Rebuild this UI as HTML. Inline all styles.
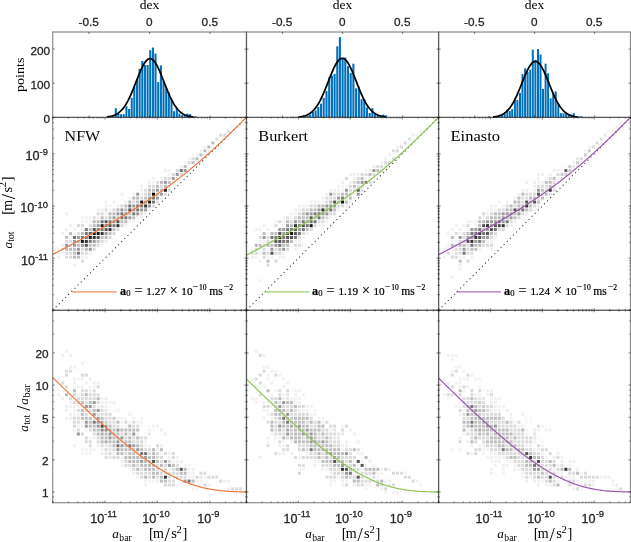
<!DOCTYPE html>
<html><head><meta charset="utf-8"><style>
html,body{margin:0;padding:0;background:#fff;}
body{width:631px;height:542px;overflow:hidden;font-family:"Liberation Sans",sans-serif;}
svg{display:block;will-change:transform;}
</style></head><body><svg width="631" height="542" viewBox="0 0 631 542"><defs><filter id="bl" x="0" y="0" width="631" height="542" filterUnits="userSpaceOnUse"><feGaussianBlur stdDeviation="0.42"/></filter></defs><rect width="100%" height="100%" fill="#fff"/><g filter="url(#bl)"><g shape-rendering="auto"><rect x="96.67" y="208.41" width="3.0" height="3.0" fill="rgb(242,242,242)"/><rect x="65.04" y="212.35" width="3.0" height="3.0" fill="rgb(242,242,242)"/><rect x="96.67" y="212.35" width="3.0" height="3.0" fill="rgb(219,219,219)"/><rect x="80.86" y="216.29" width="3.0" height="3.0" fill="rgb(242,242,242)"/><rect x="84.81" y="216.29" width="3.0" height="3.0" fill="rgb(242,242,242)"/><rect x="88.76" y="216.29" width="3.0" height="3.0" fill="rgb(242,242,242)"/><rect x="92.72" y="216.29" width="3.0" height="3.0" fill="rgb(219,219,219)"/><rect x="96.67" y="216.29" width="3.0" height="3.0" fill="rgb(242,242,242)"/><rect x="80.86" y="220.22" width="3.0" height="3.0" fill="rgb(242,242,242)"/><rect x="84.81" y="220.22" width="3.0" height="3.0" fill="rgb(242,242,242)"/><rect x="88.76" y="220.22" width="3.0" height="3.0" fill="rgb(242,242,242)"/><rect x="92.72" y="220.22" width="3.0" height="3.0" fill="rgb(189,189,189)"/><rect x="96.67" y="220.22" width="3.0" height="3.0" fill="rgb(189,189,189)"/><rect x="68.99" y="224.16" width="3.0" height="3.0" fill="rgb(242,242,242)"/><rect x="76.90" y="224.16" width="3.0" height="3.0" fill="rgb(219,219,219)"/><rect x="80.86" y="224.16" width="3.0" height="3.0" fill="rgb(219,219,219)"/><rect x="88.76" y="224.16" width="3.0" height="3.0" fill="rgb(219,219,219)"/><rect x="92.72" y="224.16" width="3.0" height="3.0" fill="rgb(189,189,189)"/><rect x="96.67" y="224.16" width="3.0" height="3.0" fill="rgb(154,154,154)"/><rect x="65.04" y="228.10" width="3.0" height="3.0" fill="rgb(242,242,242)"/><rect x="72.95" y="228.10" width="3.0" height="3.0" fill="rgb(242,242,242)"/><rect x="80.86" y="228.10" width="3.0" height="3.0" fill="rgb(242,242,242)"/><rect x="84.81" y="228.10" width="3.0" height="3.0" fill="rgb(118,118,118)"/><rect x="88.76" y="228.10" width="3.0" height="3.0" fill="rgb(189,189,189)"/><rect x="92.72" y="228.10" width="3.0" height="3.0" fill="rgb(83,83,83)"/><rect x="96.67" y="228.10" width="3.0" height="3.0" fill="rgb(118,118,118)"/><rect x="61.09" y="232.03" width="3.0" height="3.0" fill="rgb(242,242,242)"/><rect x="68.99" y="232.03" width="3.0" height="3.0" fill="rgb(189,189,189)"/><rect x="72.95" y="232.03" width="3.0" height="3.0" fill="rgb(242,242,242)"/><rect x="76.90" y="232.03" width="3.0" height="3.0" fill="rgb(219,219,219)"/><rect x="80.86" y="232.03" width="3.0" height="3.0" fill="rgb(189,189,189)"/><rect x="84.81" y="232.03" width="3.0" height="3.0" fill="rgb(118,118,118)"/><rect x="88.76" y="232.03" width="3.0" height="3.0" fill="rgb(83,83,83)"/><rect x="92.72" y="232.03" width="3.0" height="3.0" fill="rgb(21,21,21)"/><rect x="96.67" y="232.03" width="3.0" height="3.0" fill="rgb(21,21,21)"/><rect x="65.04" y="235.97" width="3.0" height="3.0" fill="rgb(189,189,189)"/><rect x="68.99" y="235.97" width="3.0" height="3.0" fill="rgb(242,242,242)"/><rect x="72.95" y="235.97" width="3.0" height="3.0" fill="rgb(118,118,118)"/><rect x="76.90" y="235.97" width="3.0" height="3.0" fill="rgb(154,154,154)"/><rect x="80.86" y="235.97" width="3.0" height="3.0" fill="rgb(118,118,118)"/><rect x="84.81" y="235.97" width="3.0" height="3.0" fill="rgb(118,118,118)"/><rect x="88.76" y="235.97" width="3.0" height="3.0" fill="rgb(21,21,21)"/><rect x="92.72" y="235.97" width="3.0" height="3.0" fill="rgb(50,50,50)"/><rect x="96.67" y="235.97" width="3.0" height="3.0" fill="rgb(83,83,83)"/><rect x="65.04" y="239.91" width="3.0" height="3.0" fill="rgb(219,219,219)"/><rect x="68.99" y="239.91" width="3.0" height="3.0" fill="rgb(219,219,219)"/><rect x="72.95" y="239.91" width="3.0" height="3.0" fill="rgb(154,154,154)"/><rect x="76.90" y="239.91" width="3.0" height="3.0" fill="rgb(189,189,189)"/><rect x="80.86" y="239.91" width="3.0" height="3.0" fill="rgb(21,21,21)"/><rect x="84.81" y="239.91" width="3.0" height="3.0" fill="rgb(50,50,50)"/><rect x="88.76" y="239.91" width="3.0" height="3.0" fill="rgb(118,118,118)"/><rect x="92.72" y="239.91" width="3.0" height="3.0" fill="rgb(154,154,154)"/><rect x="96.67" y="239.91" width="3.0" height="3.0" fill="rgb(189,189,189)"/><rect x="61.09" y="243.84" width="3.0" height="3.0" fill="rgb(242,242,242)"/><rect x="65.04" y="243.84" width="3.0" height="3.0" fill="rgb(154,154,154)"/><rect x="68.99" y="243.84" width="3.0" height="3.0" fill="rgb(219,219,219)"/><rect x="72.95" y="243.84" width="3.0" height="3.0" fill="rgb(154,154,154)"/><rect x="76.90" y="243.84" width="3.0" height="3.0" fill="rgb(189,189,189)"/><rect x="80.86" y="243.84" width="3.0" height="3.0" fill="rgb(154,154,154)"/><rect x="84.81" y="243.84" width="3.0" height="3.0" fill="rgb(83,83,83)"/><rect x="88.76" y="243.84" width="3.0" height="3.0" fill="rgb(189,189,189)"/><rect x="92.72" y="243.84" width="3.0" height="3.0" fill="rgb(189,189,189)"/><rect x="96.67" y="243.84" width="3.0" height="3.0" fill="rgb(219,219,219)"/><rect x="53.18" y="247.78" width="3.0" height="3.0" fill="rgb(242,242,242)"/><rect x="57.13" y="247.78" width="3.0" height="3.0" fill="rgb(242,242,242)"/><rect x="61.09" y="247.78" width="3.0" height="3.0" fill="rgb(219,219,219)"/><rect x="65.04" y="247.78" width="3.0" height="3.0" fill="rgb(189,189,189)"/><rect x="68.99" y="247.78" width="3.0" height="3.0" fill="rgb(189,189,189)"/><rect x="72.95" y="247.78" width="3.0" height="3.0" fill="rgb(189,189,189)"/><rect x="76.90" y="247.78" width="3.0" height="3.0" fill="rgb(154,154,154)"/><rect x="80.86" y="247.78" width="3.0" height="3.0" fill="rgb(219,219,219)"/><rect x="84.81" y="247.78" width="3.0" height="3.0" fill="rgb(189,189,189)"/><rect x="88.76" y="247.78" width="3.0" height="3.0" fill="rgb(154,154,154)"/><rect x="92.72" y="247.78" width="3.0" height="3.0" fill="rgb(219,219,219)"/><rect x="57.13" y="251.72" width="3.0" height="3.0" fill="rgb(242,242,242)"/><rect x="61.09" y="251.72" width="3.0" height="3.0" fill="rgb(242,242,242)"/><rect x="65.04" y="251.72" width="3.0" height="3.0" fill="rgb(219,219,219)"/><rect x="68.99" y="251.72" width="3.0" height="3.0" fill="rgb(219,219,219)"/><rect x="72.95" y="251.72" width="3.0" height="3.0" fill="rgb(189,189,189)"/><rect x="76.90" y="251.72" width="3.0" height="3.0" fill="rgb(118,118,118)"/><rect x="80.86" y="251.72" width="3.0" height="3.0" fill="rgb(219,219,219)"/><rect x="84.81" y="251.72" width="3.0" height="3.0" fill="rgb(219,219,219)"/><rect x="88.76" y="251.72" width="3.0" height="3.0" fill="rgb(242,242,242)"/><rect x="57.13" y="255.65" width="3.0" height="3.0" fill="rgb(242,242,242)"/><rect x="65.04" y="255.65" width="3.0" height="3.0" fill="rgb(219,219,219)"/><rect x="68.99" y="255.65" width="3.0" height="3.0" fill="rgb(219,219,219)"/><rect x="72.95" y="255.65" width="3.0" height="3.0" fill="rgb(189,189,189)"/><rect x="76.90" y="255.65" width="3.0" height="3.0" fill="rgb(189,189,189)"/><rect x="80.86" y="255.65" width="3.0" height="3.0" fill="rgb(242,242,242)"/><rect x="84.81" y="255.65" width="3.0" height="3.0" fill="rgb(242,242,242)"/><rect x="80.86" y="259.59" width="3.0" height="3.0" fill="rgb(219,219,219)"/><rect x="72.95" y="263.53" width="3.0" height="3.0" fill="rgb(242,242,242)"/><rect x="140.17" y="184.79" width="3.0" height="3.0" fill="rgb(242,242,242)"/><rect x="140.17" y="188.73" width="3.0" height="3.0" fill="rgb(242,242,242)"/><rect x="144.12" y="188.73" width="3.0" height="3.0" fill="rgb(219,219,219)"/><rect x="120.40" y="192.67" width="3.0" height="3.0" fill="rgb(242,242,242)"/><rect x="132.26" y="192.67" width="3.0" height="3.0" fill="rgb(242,242,242)"/><rect x="136.21" y="192.67" width="3.0" height="3.0" fill="rgb(154,154,154)"/><rect x="140.17" y="192.67" width="3.0" height="3.0" fill="rgb(242,242,242)"/><rect x="144.12" y="192.67" width="3.0" height="3.0" fill="rgb(219,219,219)"/><rect x="128.30" y="196.60" width="3.0" height="3.0" fill="rgb(242,242,242)"/><rect x="132.26" y="196.60" width="3.0" height="3.0" fill="rgb(189,189,189)"/><rect x="136.21" y="196.60" width="3.0" height="3.0" fill="rgb(189,189,189)"/><rect x="140.17" y="196.60" width="3.0" height="3.0" fill="rgb(219,219,219)"/><rect x="144.12" y="196.60" width="3.0" height="3.0" fill="rgb(189,189,189)"/><rect x="104.58" y="200.54" width="3.0" height="3.0" fill="rgb(242,242,242)"/><rect x="112.49" y="200.54" width="3.0" height="3.0" fill="rgb(242,242,242)"/><rect x="124.35" y="200.54" width="3.0" height="3.0" fill="rgb(242,242,242)"/><rect x="128.30" y="200.54" width="3.0" height="3.0" fill="rgb(189,189,189)"/><rect x="132.26" y="200.54" width="3.0" height="3.0" fill="rgb(219,219,219)"/><rect x="136.21" y="200.54" width="3.0" height="3.0" fill="rgb(189,189,189)"/><rect x="140.17" y="200.54" width="3.0" height="3.0" fill="rgb(21,21,21)"/><rect x="144.12" y="200.54" width="3.0" height="3.0" fill="rgb(154,154,154)"/><rect x="104.58" y="204.48" width="3.0" height="3.0" fill="rgb(242,242,242)"/><rect x="108.53" y="204.48" width="3.0" height="3.0" fill="rgb(242,242,242)"/><rect x="116.44" y="204.48" width="3.0" height="3.0" fill="rgb(242,242,242)"/><rect x="120.40" y="204.48" width="3.0" height="3.0" fill="rgb(219,219,219)"/><rect x="124.35" y="204.48" width="3.0" height="3.0" fill="rgb(189,189,189)"/><rect x="128.30" y="204.48" width="3.0" height="3.0" fill="rgb(118,118,118)"/><rect x="132.26" y="204.48" width="3.0" height="3.0" fill="rgb(154,154,154)"/><rect x="136.21" y="204.48" width="3.0" height="3.0" fill="rgb(118,118,118)"/><rect x="140.17" y="204.48" width="3.0" height="3.0" fill="rgb(118,118,118)"/><rect x="144.12" y="204.48" width="3.0" height="3.0" fill="rgb(50,50,50)"/><rect x="100.63" y="208.41" width="3.0" height="3.0" fill="rgb(242,242,242)"/><rect x="104.58" y="208.41" width="3.0" height="3.0" fill="rgb(219,219,219)"/><rect x="108.53" y="208.41" width="3.0" height="3.0" fill="rgb(242,242,242)"/><rect x="112.49" y="208.41" width="3.0" height="3.0" fill="rgb(219,219,219)"/><rect x="116.44" y="208.41" width="3.0" height="3.0" fill="rgb(189,189,189)"/><rect x="120.40" y="208.41" width="3.0" height="3.0" fill="rgb(154,154,154)"/><rect x="124.35" y="208.41" width="3.0" height="3.0" fill="rgb(189,189,189)"/><rect x="128.30" y="208.41" width="3.0" height="3.0" fill="rgb(83,83,83)"/><rect x="132.26" y="208.41" width="3.0" height="3.0" fill="rgb(154,154,154)"/><rect x="136.21" y="208.41" width="3.0" height="3.0" fill="rgb(118,118,118)"/><rect x="140.17" y="208.41" width="3.0" height="3.0" fill="rgb(154,154,154)"/><rect x="144.12" y="208.41" width="3.0" height="3.0" fill="rgb(154,154,154)"/><rect x="100.63" y="212.35" width="3.0" height="3.0" fill="rgb(219,219,219)"/><rect x="104.58" y="212.35" width="3.0" height="3.0" fill="rgb(242,242,242)"/><rect x="108.53" y="212.35" width="3.0" height="3.0" fill="rgb(189,189,189)"/><rect x="112.49" y="212.35" width="3.0" height="3.0" fill="rgb(189,189,189)"/><rect x="116.44" y="212.35" width="3.0" height="3.0" fill="rgb(154,154,154)"/><rect x="120.40" y="212.35" width="3.0" height="3.0" fill="rgb(118,118,118)"/><rect x="124.35" y="212.35" width="3.0" height="3.0" fill="rgb(154,154,154)"/><rect x="128.30" y="212.35" width="3.0" height="3.0" fill="rgb(189,189,189)"/><rect x="132.26" y="212.35" width="3.0" height="3.0" fill="rgb(118,118,118)"/><rect x="136.21" y="212.35" width="3.0" height="3.0" fill="rgb(154,154,154)"/><rect x="140.17" y="212.35" width="3.0" height="3.0" fill="rgb(219,219,219)"/><rect x="144.12" y="212.35" width="3.0" height="3.0" fill="rgb(242,242,242)"/><rect x="100.63" y="216.29" width="3.0" height="3.0" fill="rgb(189,189,189)"/><rect x="104.58" y="216.29" width="3.0" height="3.0" fill="rgb(219,219,219)"/><rect x="108.53" y="216.29" width="3.0" height="3.0" fill="rgb(189,189,189)"/><rect x="112.49" y="216.29" width="3.0" height="3.0" fill="rgb(154,154,154)"/><rect x="116.44" y="216.29" width="3.0" height="3.0" fill="rgb(189,189,189)"/><rect x="120.40" y="216.29" width="3.0" height="3.0" fill="rgb(118,118,118)"/><rect x="124.35" y="216.29" width="3.0" height="3.0" fill="rgb(118,118,118)"/><rect x="128.30" y="216.29" width="3.0" height="3.0" fill="rgb(154,154,154)"/><rect x="132.26" y="216.29" width="3.0" height="3.0" fill="rgb(189,189,189)"/><rect x="136.21" y="216.29" width="3.0" height="3.0" fill="rgb(242,242,242)"/><rect x="140.17" y="216.29" width="3.0" height="3.0" fill="rgb(242,242,242)"/><rect x="100.63" y="220.22" width="3.0" height="3.0" fill="rgb(118,118,118)"/><rect x="104.58" y="220.22" width="3.0" height="3.0" fill="rgb(83,83,83)"/><rect x="108.53" y="220.22" width="3.0" height="3.0" fill="rgb(118,118,118)"/><rect x="112.49" y="220.22" width="3.0" height="3.0" fill="rgb(154,154,154)"/><rect x="116.44" y="220.22" width="3.0" height="3.0" fill="rgb(83,83,83)"/><rect x="120.40" y="220.22" width="3.0" height="3.0" fill="rgb(189,189,189)"/><rect x="124.35" y="220.22" width="3.0" height="3.0" fill="rgb(189,189,189)"/><rect x="128.30" y="220.22" width="3.0" height="3.0" fill="rgb(242,242,242)"/><rect x="132.26" y="220.22" width="3.0" height="3.0" fill="rgb(242,242,242)"/><rect x="100.63" y="224.16" width="3.0" height="3.0" fill="rgb(21,21,21)"/><rect x="104.58" y="224.16" width="3.0" height="3.0" fill="rgb(118,118,118)"/><rect x="108.53" y="224.16" width="3.0" height="3.0" fill="rgb(83,83,83)"/><rect x="112.49" y="224.16" width="3.0" height="3.0" fill="rgb(118,118,118)"/><rect x="116.44" y="224.16" width="3.0" height="3.0" fill="rgb(50,50,50)"/><rect x="120.40" y="224.16" width="3.0" height="3.0" fill="rgb(219,219,219)"/><rect x="124.35" y="224.16" width="3.0" height="3.0" fill="rgb(242,242,242)"/><rect x="100.63" y="228.10" width="3.0" height="3.0" fill="rgb(118,118,118)"/><rect x="104.58" y="228.10" width="3.0" height="3.0" fill="rgb(83,83,83)"/><rect x="108.53" y="228.10" width="3.0" height="3.0" fill="rgb(50,50,50)"/><rect x="112.49" y="228.10" width="3.0" height="3.0" fill="rgb(189,189,189)"/><rect x="116.44" y="228.10" width="3.0" height="3.0" fill="rgb(219,219,219)"/><rect x="100.63" y="232.03" width="3.0" height="3.0" fill="rgb(50,50,50)"/><rect x="104.58" y="232.03" width="3.0" height="3.0" fill="rgb(154,154,154)"/><rect x="108.53" y="232.03" width="3.0" height="3.0" fill="rgb(189,189,189)"/><rect x="112.49" y="232.03" width="3.0" height="3.0" fill="rgb(219,219,219)"/><rect x="100.63" y="235.97" width="3.0" height="3.0" fill="rgb(189,189,189)"/><rect x="104.58" y="235.97" width="3.0" height="3.0" fill="rgb(189,189,189)"/><rect x="108.53" y="235.97" width="3.0" height="3.0" fill="rgb(219,219,219)"/><rect x="100.63" y="239.91" width="3.0" height="3.0" fill="rgb(219,219,219)"/><rect x="104.58" y="239.91" width="3.0" height="3.0" fill="rgb(242,242,242)"/><rect x="100.63" y="243.84" width="3.0" height="3.0" fill="rgb(242,242,242)"/><rect x="191.57" y="153.30" width="3.0" height="3.0" fill="rgb(242,242,242)"/><rect x="187.62" y="157.24" width="3.0" height="3.0" fill="rgb(242,242,242)"/><rect x="191.57" y="157.24" width="3.0" height="3.0" fill="rgb(219,219,219)"/><rect x="183.66" y="161.17" width="3.0" height="3.0" fill="rgb(242,242,242)"/><rect x="187.62" y="161.17" width="3.0" height="3.0" fill="rgb(219,219,219)"/><rect x="191.57" y="161.17" width="3.0" height="3.0" fill="rgb(189,189,189)"/><rect x="179.71" y="165.11" width="3.0" height="3.0" fill="rgb(242,242,242)"/><rect x="183.66" y="165.11" width="3.0" height="3.0" fill="rgb(189,189,189)"/><rect x="187.62" y="165.11" width="3.0" height="3.0" fill="rgb(242,242,242)"/><rect x="163.89" y="169.05" width="3.0" height="3.0" fill="rgb(242,242,242)"/><rect x="167.85" y="169.05" width="3.0" height="3.0" fill="rgb(242,242,242)"/><rect x="175.75" y="169.05" width="3.0" height="3.0" fill="rgb(219,219,219)"/><rect x="179.71" y="169.05" width="3.0" height="3.0" fill="rgb(118,118,118)"/><rect x="183.66" y="169.05" width="3.0" height="3.0" fill="rgb(154,154,154)"/><rect x="187.62" y="169.05" width="3.0" height="3.0" fill="rgb(242,242,242)"/><rect x="167.85" y="172.98" width="3.0" height="3.0" fill="rgb(242,242,242)"/><rect x="171.80" y="172.98" width="3.0" height="3.0" fill="rgb(219,219,219)"/><rect x="175.75" y="172.98" width="3.0" height="3.0" fill="rgb(154,154,154)"/><rect x="179.71" y="172.98" width="3.0" height="3.0" fill="rgb(219,219,219)"/><rect x="152.03" y="176.92" width="3.0" height="3.0" fill="rgb(242,242,242)"/><rect x="159.94" y="176.92" width="3.0" height="3.0" fill="rgb(242,242,242)"/><rect x="163.89" y="176.92" width="3.0" height="3.0" fill="rgb(219,219,219)"/><rect x="167.85" y="176.92" width="3.0" height="3.0" fill="rgb(219,219,219)"/><rect x="171.80" y="176.92" width="3.0" height="3.0" fill="rgb(154,154,154)"/><rect x="175.75" y="176.92" width="3.0" height="3.0" fill="rgb(242,242,242)"/><rect x="148.07" y="180.86" width="3.0" height="3.0" fill="rgb(242,242,242)"/><rect x="152.03" y="180.86" width="3.0" height="3.0" fill="rgb(242,242,242)"/><rect x="155.98" y="180.86" width="3.0" height="3.0" fill="rgb(219,219,219)"/><rect x="159.94" y="180.86" width="3.0" height="3.0" fill="rgb(189,189,189)"/><rect x="163.89" y="180.86" width="3.0" height="3.0" fill="rgb(154,154,154)"/><rect x="167.85" y="180.86" width="3.0" height="3.0" fill="rgb(189,189,189)"/><rect x="171.80" y="180.86" width="3.0" height="3.0" fill="rgb(242,242,242)"/><rect x="148.07" y="184.79" width="3.0" height="3.0" fill="rgb(219,219,219)"/><rect x="152.03" y="184.79" width="3.0" height="3.0" fill="rgb(219,219,219)"/><rect x="155.98" y="184.79" width="3.0" height="3.0" fill="rgb(189,189,189)"/><rect x="159.94" y="184.79" width="3.0" height="3.0" fill="rgb(219,219,219)"/><rect x="163.89" y="184.79" width="3.0" height="3.0" fill="rgb(189,189,189)"/><rect x="167.85" y="184.79" width="3.0" height="3.0" fill="rgb(219,219,219)"/><rect x="148.07" y="188.73" width="3.0" height="3.0" fill="rgb(189,189,189)"/><rect x="152.03" y="188.73" width="3.0" height="3.0" fill="rgb(189,189,189)"/><rect x="155.98" y="188.73" width="3.0" height="3.0" fill="rgb(154,154,154)"/><rect x="159.94" y="188.73" width="3.0" height="3.0" fill="rgb(189,189,189)"/><rect x="163.89" y="188.73" width="3.0" height="3.0" fill="rgb(21,21,21)"/><rect x="167.85" y="188.73" width="3.0" height="3.0" fill="rgb(219,219,219)"/><rect x="148.07" y="192.67" width="3.0" height="3.0" fill="rgb(189,189,189)"/><rect x="152.03" y="192.67" width="3.0" height="3.0" fill="rgb(0,0,0)"/><rect x="155.98" y="192.67" width="3.0" height="3.0" fill="rgb(189,189,189)"/><rect x="159.94" y="192.67" width="3.0" height="3.0" fill="rgb(154,154,154)"/><rect x="163.89" y="192.67" width="3.0" height="3.0" fill="rgb(219,219,219)"/><rect x="148.07" y="196.60" width="3.0" height="3.0" fill="rgb(154,154,154)"/><rect x="152.03" y="196.60" width="3.0" height="3.0" fill="rgb(118,118,118)"/><rect x="155.98" y="196.60" width="3.0" height="3.0" fill="rgb(154,154,154)"/><rect x="159.94" y="196.60" width="3.0" height="3.0" fill="rgb(242,242,242)"/><rect x="148.07" y="200.54" width="3.0" height="3.0" fill="rgb(21,21,21)"/><rect x="152.03" y="200.54" width="3.0" height="3.0" fill="rgb(118,118,118)"/><rect x="155.98" y="200.54" width="3.0" height="3.0" fill="rgb(219,219,219)"/><rect x="148.07" y="204.48" width="3.0" height="3.0" fill="rgb(154,154,154)"/><rect x="152.03" y="204.48" width="3.0" height="3.0" fill="rgb(219,219,219)"/><rect x="148.07" y="208.41" width="3.0" height="3.0" fill="rgb(242,242,242)"/><rect x="231.11" y="125.74" width="3.0" height="3.0" fill="rgb(242,242,242)"/><rect x="227.16" y="129.68" width="3.0" height="3.0" fill="rgb(219,219,219)"/><rect x="219.25" y="133.62" width="3.0" height="3.0" fill="rgb(219,219,219)"/><rect x="223.20" y="133.62" width="3.0" height="3.0" fill="rgb(219,219,219)"/><rect x="215.29" y="137.55" width="3.0" height="3.0" fill="rgb(219,219,219)"/><rect x="211.34" y="141.49" width="3.0" height="3.0" fill="rgb(189,189,189)"/><rect x="203.43" y="145.43" width="3.0" height="3.0" fill="rgb(242,242,242)"/><rect x="207.39" y="145.43" width="3.0" height="3.0" fill="rgb(189,189,189)"/><rect x="199.48" y="149.36" width="3.0" height="3.0" fill="rgb(242,242,242)"/><rect x="203.43" y="149.36" width="3.0" height="3.0" fill="rgb(189,189,189)"/><rect x="207.39" y="149.36" width="3.0" height="3.0" fill="rgb(242,242,242)"/><rect x="195.52" y="153.30" width="3.0" height="3.0" fill="rgb(242,242,242)"/><rect x="199.48" y="153.30" width="3.0" height="3.0" fill="rgb(189,189,189)"/><rect x="203.43" y="153.30" width="3.0" height="3.0" fill="rgb(242,242,242)"/><rect x="195.52" y="157.24" width="3.0" height="3.0" fill="rgb(189,189,189)"/><rect x="199.48" y="157.24" width="3.0" height="3.0" fill="rgb(242,242,242)"/><rect x="195.52" y="161.17" width="3.0" height="3.0" fill="rgb(242,242,242)"/><rect x="65.04" y="350.03" width="3.0" height="3.0" fill="rgb(242,242,242)"/><rect x="61.09" y="353.96" width="3.0" height="3.0" fill="rgb(242,242,242)"/><rect x="68.99" y="353.96" width="3.0" height="3.0" fill="rgb(242,242,242)"/><rect x="80.86" y="361.81" width="3.0" height="3.0" fill="rgb(242,242,242)"/><rect x="68.99" y="365.73" width="3.0" height="3.0" fill="rgb(242,242,242)"/><rect x="72.95" y="365.73" width="3.0" height="3.0" fill="rgb(242,242,242)"/><rect x="65.04" y="369.66" width="3.0" height="3.0" fill="rgb(219,219,219)"/><rect x="68.99" y="369.66" width="3.0" height="3.0" fill="rgb(219,219,219)"/><rect x="65.04" y="373.59" width="3.0" height="3.0" fill="rgb(219,219,219)"/><rect x="80.86" y="373.59" width="3.0" height="3.0" fill="rgb(219,219,219)"/><rect x="84.81" y="373.59" width="3.0" height="3.0" fill="rgb(219,219,219)"/><rect x="57.13" y="377.51" width="3.0" height="3.0" fill="rgb(242,242,242)"/><rect x="72.95" y="377.51" width="3.0" height="3.0" fill="rgb(242,242,242)"/><rect x="76.90" y="377.51" width="3.0" height="3.0" fill="rgb(242,242,242)"/><rect x="80.86" y="377.51" width="3.0" height="3.0" fill="rgb(242,242,242)"/><rect x="88.76" y="377.51" width="3.0" height="3.0" fill="rgb(242,242,242)"/><rect x="61.09" y="381.44" width="3.0" height="3.0" fill="rgb(219,219,219)"/><rect x="72.95" y="381.44" width="3.0" height="3.0" fill="rgb(242,242,242)"/><rect x="84.81" y="381.44" width="3.0" height="3.0" fill="rgb(242,242,242)"/><rect x="92.72" y="381.44" width="3.0" height="3.0" fill="rgb(242,242,242)"/><rect x="96.67" y="381.44" width="3.0" height="3.0" fill="rgb(242,242,242)"/><rect x="65.04" y="385.37" width="3.0" height="3.0" fill="rgb(219,219,219)"/><rect x="72.95" y="385.37" width="3.0" height="3.0" fill="rgb(242,242,242)"/><rect x="76.90" y="385.37" width="3.0" height="3.0" fill="rgb(242,242,242)"/><rect x="80.86" y="385.37" width="3.0" height="3.0" fill="rgb(242,242,242)"/><rect x="88.76" y="385.37" width="3.0" height="3.0" fill="rgb(242,242,242)"/><rect x="92.72" y="385.37" width="3.0" height="3.0" fill="rgb(242,242,242)"/><rect x="96.67" y="385.37" width="3.0" height="3.0" fill="rgb(219,219,219)"/><rect x="72.95" y="389.29" width="3.0" height="3.0" fill="rgb(189,189,189)"/><rect x="80.86" y="389.29" width="3.0" height="3.0" fill="rgb(219,219,219)"/><rect x="84.81" y="389.29" width="3.0" height="3.0" fill="rgb(219,219,219)"/><rect x="88.76" y="389.29" width="3.0" height="3.0" fill="rgb(242,242,242)"/><rect x="92.72" y="389.29" width="3.0" height="3.0" fill="rgb(219,219,219)"/><rect x="57.13" y="393.22" width="3.0" height="3.0" fill="rgb(242,242,242)"/><rect x="65.04" y="393.22" width="3.0" height="3.0" fill="rgb(189,189,189)"/><rect x="72.95" y="393.22" width="3.0" height="3.0" fill="rgb(219,219,219)"/><rect x="76.90" y="393.22" width="3.0" height="3.0" fill="rgb(242,242,242)"/><rect x="80.86" y="393.22" width="3.0" height="3.0" fill="rgb(219,219,219)"/><rect x="84.81" y="393.22" width="3.0" height="3.0" fill="rgb(189,189,189)"/><rect x="88.76" y="393.22" width="3.0" height="3.0" fill="rgb(219,219,219)"/><rect x="92.72" y="393.22" width="3.0" height="3.0" fill="rgb(219,219,219)"/><rect x="96.67" y="393.22" width="3.0" height="3.0" fill="rgb(219,219,219)"/><rect x="61.09" y="397.15" width="3.0" height="3.0" fill="rgb(242,242,242)"/><rect x="68.99" y="397.15" width="3.0" height="3.0" fill="rgb(219,219,219)"/><rect x="76.90" y="397.15" width="3.0" height="3.0" fill="rgb(219,219,219)"/><rect x="80.86" y="397.15" width="3.0" height="3.0" fill="rgb(219,219,219)"/><rect x="84.81" y="397.15" width="3.0" height="3.0" fill="rgb(219,219,219)"/><rect x="88.76" y="397.15" width="3.0" height="3.0" fill="rgb(219,219,219)"/><rect x="92.72" y="397.15" width="3.0" height="3.0" fill="rgb(219,219,219)"/><rect x="96.67" y="397.15" width="3.0" height="3.0" fill="rgb(189,189,189)"/><rect x="68.99" y="401.07" width="3.0" height="3.0" fill="rgb(242,242,242)"/><rect x="72.95" y="401.07" width="3.0" height="3.0" fill="rgb(219,219,219)"/><rect x="76.90" y="401.07" width="3.0" height="3.0" fill="rgb(219,219,219)"/><rect x="80.86" y="401.07" width="3.0" height="3.0" fill="rgb(189,189,189)"/><rect x="84.81" y="401.07" width="3.0" height="3.0" fill="rgb(219,219,219)"/><rect x="88.76" y="401.07" width="3.0" height="3.0" fill="rgb(189,189,189)"/><rect x="92.72" y="401.07" width="3.0" height="3.0" fill="rgb(154,154,154)"/><rect x="96.67" y="401.07" width="3.0" height="3.0" fill="rgb(219,219,219)"/><rect x="65.04" y="405.00" width="3.0" height="3.0" fill="rgb(242,242,242)"/><rect x="65.04" y="408.93" width="3.0" height="3.0" fill="rgb(242,242,242)"/><rect x="65.04" y="416.78" width="3.0" height="3.0" fill="rgb(242,242,242)"/><rect x="68.99" y="405.00" width="3.0" height="3.0" fill="rgb(242,242,242)"/><rect x="72.95" y="405.00" width="3.0" height="3.0" fill="rgb(242,242,242)"/><rect x="76.90" y="405.00" width="3.0" height="3.0" fill="rgb(242,242,242)"/><rect x="80.86" y="405.00" width="3.0" height="3.0" fill="rgb(242,242,242)"/><rect x="84.81" y="405.00" width="3.0" height="3.0" fill="rgb(154,154,154)"/><rect x="88.76" y="405.00" width="3.0" height="3.0" fill="rgb(154,154,154)"/><rect x="92.72" y="405.00" width="3.0" height="3.0" fill="rgb(219,219,219)"/><rect x="96.67" y="405.00" width="3.0" height="3.0" fill="rgb(242,242,242)"/><rect x="100.63" y="405.00" width="3.0" height="3.0" fill="rgb(231,231,231)"/><rect x="104.58" y="405.00" width="3.0" height="3.0" fill="rgb(242,242,242)"/><rect x="108.53" y="405.00" width="3.0" height="3.0" fill="rgb(250,250,250)"/><rect x="72.95" y="408.93" width="3.0" height="3.0" fill="rgb(242,242,242)"/><rect x="76.90" y="408.93" width="3.0" height="3.0" fill="rgb(219,219,219)"/><rect x="80.86" y="408.93" width="3.0" height="3.0" fill="rgb(189,189,189)"/><rect x="84.81" y="408.93" width="3.0" height="3.0" fill="rgb(219,219,219)"/><rect x="88.76" y="408.93" width="3.0" height="3.0" fill="rgb(219,219,219)"/><rect x="92.72" y="408.93" width="3.0" height="3.0" fill="rgb(189,189,189)"/><rect x="96.67" y="408.93" width="3.0" height="3.0" fill="rgb(154,154,154)"/><rect x="100.63" y="408.93" width="3.0" height="3.0" fill="rgb(219,219,219)"/><rect x="104.58" y="408.93" width="3.0" height="3.0" fill="rgb(231,231,231)"/><rect x="108.53" y="408.93" width="3.0" height="3.0" fill="rgb(250,250,250)"/><rect x="112.49" y="408.93" width="3.0" height="3.0" fill="rgb(250,250,250)"/><rect x="68.99" y="412.85" width="3.0" height="3.0" fill="rgb(242,242,242)"/><rect x="72.95" y="412.85" width="3.0" height="3.0" fill="rgb(242,242,242)"/><rect x="76.90" y="412.85" width="3.0" height="3.0" fill="rgb(242,242,242)"/><rect x="80.86" y="412.85" width="3.0" height="3.0" fill="rgb(189,189,189)"/><rect x="84.81" y="412.85" width="3.0" height="3.0" fill="rgb(219,219,219)"/><rect x="88.76" y="412.85" width="3.0" height="3.0" fill="rgb(242,242,242)"/><rect x="92.72" y="412.85" width="3.0" height="3.0" fill="rgb(154,154,154)"/><rect x="96.67" y="412.85" width="3.0" height="3.0" fill="rgb(219,219,219)"/><rect x="100.63" y="412.85" width="3.0" height="3.0" fill="rgb(219,219,219)"/><rect x="104.58" y="412.85" width="3.0" height="3.0" fill="rgb(219,219,219)"/><rect x="108.53" y="412.85" width="3.0" height="3.0" fill="rgb(219,219,219)"/><rect x="68.99" y="416.78" width="3.0" height="3.0" fill="rgb(242,242,242)"/><rect x="72.95" y="416.78" width="3.0" height="3.0" fill="rgb(219,219,219)"/><rect x="76.90" y="416.78" width="3.0" height="3.0" fill="rgb(219,219,219)"/><rect x="80.86" y="416.78" width="3.0" height="3.0" fill="rgb(189,189,189)"/><rect x="84.81" y="416.78" width="3.0" height="3.0" fill="rgb(189,189,189)"/><rect x="88.76" y="416.78" width="3.0" height="3.0" fill="rgb(189,189,189)"/><rect x="92.72" y="416.78" width="3.0" height="3.0" fill="rgb(219,219,219)"/><rect x="96.67" y="416.78" width="3.0" height="3.0" fill="rgb(154,154,154)"/><rect x="100.63" y="416.78" width="3.0" height="3.0" fill="rgb(189,189,189)"/><rect x="104.58" y="416.78" width="3.0" height="3.0" fill="rgb(219,219,219)"/><rect x="108.53" y="416.78" width="3.0" height="3.0" fill="rgb(219,219,219)"/><rect x="112.49" y="416.78" width="3.0" height="3.0" fill="rgb(204,204,204)"/><rect x="72.95" y="420.71" width="3.0" height="3.0" fill="rgb(219,219,219)"/><rect x="76.90" y="420.71" width="3.0" height="3.0" fill="rgb(219,219,219)"/><rect x="80.86" y="420.71" width="3.0" height="3.0" fill="rgb(242,242,242)"/><rect x="84.81" y="420.71" width="3.0" height="3.0" fill="rgb(154,154,154)"/><rect x="88.76" y="420.71" width="3.0" height="3.0" fill="rgb(189,189,189)"/><rect x="92.72" y="420.71" width="3.0" height="3.0" fill="rgb(118,118,118)"/><rect x="96.67" y="420.71" width="3.0" height="3.0" fill="rgb(154,154,154)"/><rect x="100.63" y="420.71" width="3.0" height="3.0" fill="rgb(172,172,172)"/><rect x="104.58" y="420.71" width="3.0" height="3.0" fill="rgb(204,204,204)"/><rect x="108.53" y="420.71" width="3.0" height="3.0" fill="rgb(219,219,219)"/><rect x="112.49" y="420.71" width="3.0" height="3.0" fill="rgb(219,219,219)"/><rect x="72.95" y="424.63" width="3.0" height="3.0" fill="rgb(219,219,219)"/><rect x="76.90" y="424.63" width="3.0" height="3.0" fill="rgb(242,242,242)"/><rect x="80.86" y="424.63" width="3.0" height="3.0" fill="rgb(242,242,242)"/><rect x="84.81" y="424.63" width="3.0" height="3.0" fill="rgb(154,154,154)"/><rect x="88.76" y="424.63" width="3.0" height="3.0" fill="rgb(189,189,189)"/><rect x="92.72" y="424.63" width="3.0" height="3.0" fill="rgb(189,189,189)"/><rect x="96.67" y="424.63" width="3.0" height="3.0" fill="rgb(154,154,154)"/><rect x="100.63" y="424.63" width="3.0" height="3.0" fill="rgb(66,66,66)"/><rect x="104.58" y="424.63" width="3.0" height="3.0" fill="rgb(154,154,154)"/><rect x="108.53" y="424.63" width="3.0" height="3.0" fill="rgb(189,189,189)"/><rect x="112.49" y="424.63" width="3.0" height="3.0" fill="rgb(219,219,219)"/><rect x="72.95" y="428.56" width="3.0" height="3.0" fill="rgb(242,242,242)"/><rect x="76.90" y="428.56" width="3.0" height="3.0" fill="rgb(219,219,219)"/><rect x="84.81" y="428.56" width="3.0" height="3.0" fill="rgb(242,242,242)"/><rect x="88.76" y="428.56" width="3.0" height="3.0" fill="rgb(219,219,219)"/><rect x="92.72" y="428.56" width="3.0" height="3.0" fill="rgb(189,189,189)"/><rect x="96.67" y="428.56" width="3.0" height="3.0" fill="rgb(189,189,189)"/><rect x="100.63" y="428.56" width="3.0" height="3.0" fill="rgb(137,137,137)"/><rect x="104.58" y="428.56" width="3.0" height="3.0" fill="rgb(137,137,137)"/><rect x="108.53" y="428.56" width="3.0" height="3.0" fill="rgb(172,172,172)"/><rect x="112.49" y="428.56" width="3.0" height="3.0" fill="rgb(189,189,189)"/><rect x="76.90" y="432.49" width="3.0" height="3.0" fill="rgb(154,154,154)"/><rect x="80.86" y="432.49" width="3.0" height="3.0" fill="rgb(219,219,219)"/><rect x="92.72" y="432.49" width="3.0" height="3.0" fill="rgb(219,219,219)"/><rect x="96.67" y="432.49" width="3.0" height="3.0" fill="rgb(189,189,189)"/><rect x="100.63" y="432.49" width="3.0" height="3.0" fill="rgb(172,172,172)"/><rect x="104.58" y="432.49" width="3.0" height="3.0" fill="rgb(189,189,189)"/><rect x="108.53" y="432.49" width="3.0" height="3.0" fill="rgb(154,154,154)"/><rect x="112.49" y="432.49" width="3.0" height="3.0" fill="rgb(189,189,189)"/><rect x="84.81" y="436.41" width="3.0" height="3.0" fill="rgb(219,219,219)"/><rect x="88.76" y="436.41" width="3.0" height="3.0" fill="rgb(242,242,242)"/><rect x="92.72" y="436.41" width="3.0" height="3.0" fill="rgb(242,242,242)"/><rect x="96.67" y="436.41" width="3.0" height="3.0" fill="rgb(219,219,219)"/><rect x="100.63" y="436.41" width="3.0" height="3.0" fill="rgb(189,189,189)"/><rect x="104.58" y="436.41" width="3.0" height="3.0" fill="rgb(189,189,189)"/><rect x="108.53" y="436.41" width="3.0" height="3.0" fill="rgb(154,154,154)"/><rect x="112.49" y="436.41" width="3.0" height="3.0" fill="rgb(189,189,189)"/><rect x="84.81" y="440.34" width="3.0" height="3.0" fill="rgb(219,219,219)"/><rect x="88.76" y="440.34" width="3.0" height="3.0" fill="rgb(219,219,219)"/><rect x="96.67" y="440.34" width="3.0" height="3.0" fill="rgb(219,219,219)"/><rect x="100.63" y="440.34" width="3.0" height="3.0" fill="rgb(189,189,189)"/><rect x="104.58" y="440.34" width="3.0" height="3.0" fill="rgb(172,172,172)"/><rect x="108.53" y="440.34" width="3.0" height="3.0" fill="rgb(189,189,189)"/><rect x="112.49" y="440.34" width="3.0" height="3.0" fill="rgb(189,189,189)"/><rect x="72.95" y="444.27" width="3.0" height="3.0" fill="rgb(242,242,242)"/><rect x="88.76" y="444.27" width="3.0" height="3.0" fill="rgb(219,219,219)"/><rect x="96.67" y="444.27" width="3.0" height="3.0" fill="rgb(242,242,242)"/><rect x="100.63" y="444.27" width="3.0" height="3.0" fill="rgb(219,219,219)"/><rect x="104.58" y="444.27" width="3.0" height="3.0" fill="rgb(231,231,231)"/><rect x="108.53" y="444.27" width="3.0" height="3.0" fill="rgb(219,219,219)"/><rect x="112.49" y="444.27" width="3.0" height="3.0" fill="rgb(189,189,189)"/><rect x="80.86" y="448.19" width="3.0" height="3.0" fill="rgb(242,242,242)"/><rect x="84.81" y="448.19" width="3.0" height="3.0" fill="rgb(242,242,242)"/><rect x="88.76" y="448.19" width="3.0" height="3.0" fill="rgb(242,242,242)"/><rect x="92.72" y="448.19" width="3.0" height="3.0" fill="rgb(242,242,242)"/><rect x="100.63" y="448.19" width="3.0" height="3.0" fill="rgb(242,242,242)"/><rect x="104.58" y="448.19" width="3.0" height="3.0" fill="rgb(219,219,219)"/><rect x="108.53" y="448.19" width="3.0" height="3.0" fill="rgb(231,231,231)"/><rect x="112.49" y="448.19" width="3.0" height="3.0" fill="rgb(219,219,219)"/><rect x="80.86" y="452.12" width="3.0" height="3.0" fill="rgb(242,242,242)"/><rect x="84.81" y="452.12" width="3.0" height="3.0" fill="rgb(242,242,242)"/><rect x="88.76" y="452.12" width="3.0" height="3.0" fill="rgb(242,242,242)"/><rect x="100.63" y="452.12" width="3.0" height="3.0" fill="rgb(242,242,242)"/><rect x="104.58" y="452.12" width="3.0" height="3.0" fill="rgb(231,231,231)"/><rect x="108.53" y="452.12" width="3.0" height="3.0" fill="rgb(219,219,219)"/><rect x="112.49" y="452.12" width="3.0" height="3.0" fill="rgb(242,242,242)"/><rect x="104.58" y="456.04" width="3.0" height="3.0" fill="rgb(219,219,219)"/><rect x="108.53" y="456.04" width="3.0" height="3.0" fill="rgb(231,231,231)"/><rect x="112.49" y="456.04" width="3.0" height="3.0" fill="rgb(219,219,219)"/><rect x="100.63" y="397.15" width="3.0" height="3.0" fill="rgb(242,242,242)"/><rect x="104.58" y="397.15" width="3.0" height="3.0" fill="rgb(242,242,242)"/><rect x="100.63" y="401.07" width="3.0" height="3.0" fill="rgb(242,242,242)"/><rect x="104.58" y="401.07" width="3.0" height="3.0" fill="rgb(242,242,242)"/><rect x="108.53" y="401.07" width="3.0" height="3.0" fill="rgb(242,242,242)"/><rect x="112.49" y="401.07" width="3.0" height="3.0" fill="rgb(242,242,242)"/><rect x="116.44" y="408.93" width="3.0" height="3.0" fill="rgb(242,242,242)"/><rect x="128.30" y="412.85" width="3.0" height="3.0" fill="rgb(242,242,242)"/><rect x="116.44" y="416.78" width="3.0" height="3.0" fill="rgb(242,242,242)"/><rect x="120.40" y="416.78" width="3.0" height="3.0" fill="rgb(242,242,242)"/><rect x="124.35" y="416.78" width="3.0" height="3.0" fill="rgb(242,242,242)"/><rect x="132.26" y="416.78" width="3.0" height="3.0" fill="rgb(242,242,242)"/><rect x="140.17" y="416.78" width="3.0" height="3.0" fill="rgb(242,242,242)"/><rect x="116.44" y="420.71" width="3.0" height="3.0" fill="rgb(189,189,189)"/><rect x="120.40" y="420.71" width="3.0" height="3.0" fill="rgb(242,242,242)"/><rect x="124.35" y="420.71" width="3.0" height="3.0" fill="rgb(219,219,219)"/><rect x="128.30" y="420.71" width="3.0" height="3.0" fill="rgb(242,242,242)"/><rect x="132.26" y="420.71" width="3.0" height="3.0" fill="rgb(219,219,219)"/><rect x="136.21" y="420.71" width="3.0" height="3.0" fill="rgb(242,242,242)"/><rect x="140.17" y="420.71" width="3.0" height="3.0" fill="rgb(242,242,242)"/><rect x="116.44" y="424.63" width="3.0" height="3.0" fill="rgb(219,219,219)"/><rect x="120.40" y="424.63" width="3.0" height="3.0" fill="rgb(242,242,242)"/><rect x="124.35" y="424.63" width="3.0" height="3.0" fill="rgb(242,242,242)"/><rect x="128.30" y="424.63" width="3.0" height="3.0" fill="rgb(189,189,189)"/><rect x="132.26" y="424.63" width="3.0" height="3.0" fill="rgb(219,219,219)"/><rect x="136.21" y="424.63" width="3.0" height="3.0" fill="rgb(219,219,219)"/><rect x="140.17" y="424.63" width="3.0" height="3.0" fill="rgb(250,250,250)"/><rect x="148.07" y="424.63" width="3.0" height="3.0" fill="rgb(250,250,250)"/><rect x="152.03" y="424.63" width="3.0" height="3.0" fill="rgb(242,242,242)"/><rect x="116.44" y="428.56" width="3.0" height="3.0" fill="rgb(154,154,154)"/><rect x="120.40" y="428.56" width="3.0" height="3.0" fill="rgb(189,189,189)"/><rect x="124.35" y="428.56" width="3.0" height="3.0" fill="rgb(189,189,189)"/><rect x="128.30" y="428.56" width="3.0" height="3.0" fill="rgb(189,189,189)"/><rect x="132.26" y="428.56" width="3.0" height="3.0" fill="rgb(189,189,189)"/><rect x="136.21" y="428.56" width="3.0" height="3.0" fill="rgb(189,189,189)"/><rect x="148.07" y="428.56" width="3.0" height="3.0" fill="rgb(242,242,242)"/><rect x="152.03" y="428.56" width="3.0" height="3.0" fill="rgb(250,250,250)"/><rect x="116.44" y="432.49" width="3.0" height="3.0" fill="rgb(189,189,189)"/><rect x="120.40" y="432.49" width="3.0" height="3.0" fill="rgb(219,219,219)"/><rect x="124.35" y="432.49" width="3.0" height="3.0" fill="rgb(189,189,189)"/><rect x="128.30" y="432.49" width="3.0" height="3.0" fill="rgb(219,219,219)"/><rect x="132.26" y="432.49" width="3.0" height="3.0" fill="rgb(154,154,154)"/><rect x="136.21" y="432.49" width="3.0" height="3.0" fill="rgb(242,242,242)"/><rect x="144.12" y="432.49" width="3.0" height="3.0" fill="rgb(250,250,250)"/><rect x="148.07" y="432.49" width="3.0" height="3.0" fill="rgb(231,231,231)"/><rect x="116.44" y="436.41" width="3.0" height="3.0" fill="rgb(189,189,189)"/><rect x="120.40" y="436.41" width="3.0" height="3.0" fill="rgb(154,154,154)"/><rect x="124.35" y="436.41" width="3.0" height="3.0" fill="rgb(219,219,219)"/><rect x="128.30" y="436.41" width="3.0" height="3.0" fill="rgb(189,189,189)"/><rect x="132.26" y="436.41" width="3.0" height="3.0" fill="rgb(219,219,219)"/><rect x="136.21" y="436.41" width="3.0" height="3.0" fill="rgb(189,189,189)"/><rect x="140.17" y="436.41" width="3.0" height="3.0" fill="rgb(219,219,219)"/><rect x="144.12" y="436.41" width="3.0" height="3.0" fill="rgb(219,219,219)"/><rect x="148.07" y="436.41" width="3.0" height="3.0" fill="rgb(250,250,250)"/><rect x="116.44" y="440.34" width="3.0" height="3.0" fill="rgb(154,154,154)"/><rect x="120.40" y="440.34" width="3.0" height="3.0" fill="rgb(219,219,219)"/><rect x="124.35" y="440.34" width="3.0" height="3.0" fill="rgb(189,189,189)"/><rect x="128.30" y="440.34" width="3.0" height="3.0" fill="rgb(189,189,189)"/><rect x="132.26" y="440.34" width="3.0" height="3.0" fill="rgb(219,219,219)"/><rect x="136.21" y="440.34" width="3.0" height="3.0" fill="rgb(219,219,219)"/><rect x="140.17" y="440.34" width="3.0" height="3.0" fill="rgb(219,219,219)"/><rect x="144.12" y="440.34" width="3.0" height="3.0" fill="rgb(242,242,242)"/><rect x="116.44" y="444.27" width="3.0" height="3.0" fill="rgb(118,118,118)"/><rect x="120.40" y="444.27" width="3.0" height="3.0" fill="rgb(154,154,154)"/><rect x="124.35" y="444.27" width="3.0" height="3.0" fill="rgb(189,189,189)"/><rect x="128.30" y="444.27" width="3.0" height="3.0" fill="rgb(118,118,118)"/><rect x="132.26" y="444.27" width="3.0" height="3.0" fill="rgb(154,154,154)"/><rect x="136.21" y="444.27" width="3.0" height="3.0" fill="rgb(189,189,189)"/><rect x="140.17" y="444.27" width="3.0" height="3.0" fill="rgb(219,219,219)"/><rect x="144.12" y="444.27" width="3.0" height="3.0" fill="rgb(242,242,242)"/><rect x="148.07" y="444.27" width="3.0" height="3.0" fill="rgb(242,242,242)"/><rect x="116.44" y="448.19" width="3.0" height="3.0" fill="rgb(154,154,154)"/><rect x="120.40" y="448.19" width="3.0" height="3.0" fill="rgb(189,189,189)"/><rect x="124.35" y="448.19" width="3.0" height="3.0" fill="rgb(189,189,189)"/><rect x="128.30" y="448.19" width="3.0" height="3.0" fill="rgb(189,189,189)"/><rect x="132.26" y="448.19" width="3.0" height="3.0" fill="rgb(189,189,189)"/><rect x="136.21" y="448.19" width="3.0" height="3.0" fill="rgb(154,154,154)"/><rect x="140.17" y="448.19" width="3.0" height="3.0" fill="rgb(189,189,189)"/><rect x="144.12" y="448.19" width="3.0" height="3.0" fill="rgb(219,219,219)"/><rect x="148.07" y="448.19" width="3.0" height="3.0" fill="rgb(219,219,219)"/><rect x="152.03" y="448.19" width="3.0" height="3.0" fill="rgb(189,189,189)"/><rect x="116.44" y="452.12" width="3.0" height="3.0" fill="rgb(189,189,189)"/><rect x="120.40" y="452.12" width="3.0" height="3.0" fill="rgb(189,189,189)"/><rect x="124.35" y="452.12" width="3.0" height="3.0" fill="rgb(219,219,219)"/><rect x="128.30" y="452.12" width="3.0" height="3.0" fill="rgb(189,189,189)"/><rect x="132.26" y="452.12" width="3.0" height="3.0" fill="rgb(189,189,189)"/><rect x="136.21" y="452.12" width="3.0" height="3.0" fill="rgb(219,219,219)"/><rect x="140.17" y="452.12" width="3.0" height="3.0" fill="rgb(118,118,118)"/><rect x="144.12" y="452.12" width="3.0" height="3.0" fill="rgb(118,118,118)"/><rect x="148.07" y="452.12" width="3.0" height="3.0" fill="rgb(219,219,219)"/><rect x="152.03" y="452.12" width="3.0" height="3.0" fill="rgb(189,189,189)"/><rect x="116.44" y="456.04" width="3.0" height="3.0" fill="rgb(219,219,219)"/><rect x="120.40" y="456.04" width="3.0" height="3.0" fill="rgb(242,242,242)"/><rect x="124.35" y="456.04" width="3.0" height="3.0" fill="rgb(189,189,189)"/><rect x="128.30" y="456.04" width="3.0" height="3.0" fill="rgb(189,189,189)"/><rect x="132.26" y="456.04" width="3.0" height="3.0" fill="rgb(189,189,189)"/><rect x="136.21" y="456.04" width="3.0" height="3.0" fill="rgb(189,189,189)"/><rect x="140.17" y="456.04" width="3.0" height="3.0" fill="rgb(189,189,189)"/><rect x="144.12" y="456.04" width="3.0" height="3.0" fill="rgb(154,154,154)"/><rect x="148.07" y="456.04" width="3.0" height="3.0" fill="rgb(189,189,189)"/><rect x="152.03" y="456.04" width="3.0" height="3.0" fill="rgb(189,189,189)"/><rect x="120.40" y="459.97" width="3.0" height="3.0" fill="rgb(242,242,242)"/><rect x="124.35" y="459.97" width="3.0" height="3.0" fill="rgb(219,219,219)"/><rect x="128.30" y="459.97" width="3.0" height="3.0" fill="rgb(189,189,189)"/><rect x="132.26" y="459.97" width="3.0" height="3.0" fill="rgb(189,189,189)"/><rect x="136.21" y="459.97" width="3.0" height="3.0" fill="rgb(189,189,189)"/><rect x="140.17" y="459.97" width="3.0" height="3.0" fill="rgb(154,154,154)"/><rect x="144.12" y="459.97" width="3.0" height="3.0" fill="rgb(189,189,189)"/><rect x="148.07" y="459.97" width="3.0" height="3.0" fill="rgb(189,189,189)"/><rect x="152.03" y="459.97" width="3.0" height="3.0" fill="rgb(83,83,83)"/><rect x="120.40" y="463.90" width="3.0" height="3.0" fill="rgb(242,242,242)"/><rect x="124.35" y="463.90" width="3.0" height="3.0" fill="rgb(219,219,219)"/><rect x="128.30" y="463.90" width="3.0" height="3.0" fill="rgb(219,219,219)"/><rect x="132.26" y="463.90" width="3.0" height="3.0" fill="rgb(189,189,189)"/><rect x="136.21" y="463.90" width="3.0" height="3.0" fill="rgb(219,219,219)"/><rect x="140.17" y="463.90" width="3.0" height="3.0" fill="rgb(189,189,189)"/><rect x="144.12" y="463.90" width="3.0" height="3.0" fill="rgb(189,189,189)"/><rect x="148.07" y="463.90" width="3.0" height="3.0" fill="rgb(189,189,189)"/><rect x="152.03" y="463.90" width="3.0" height="3.0" fill="rgb(189,189,189)"/><rect x="128.30" y="467.82" width="3.0" height="3.0" fill="rgb(242,242,242)"/><rect x="132.26" y="467.82" width="3.0" height="3.0" fill="rgb(219,219,219)"/><rect x="136.21" y="467.82" width="3.0" height="3.0" fill="rgb(189,189,189)"/><rect x="140.17" y="467.82" width="3.0" height="3.0" fill="rgb(219,219,219)"/><rect x="144.12" y="467.82" width="3.0" height="3.0" fill="rgb(189,189,189)"/><rect x="148.07" y="467.82" width="3.0" height="3.0" fill="rgb(189,189,189)"/><rect x="152.03" y="467.82" width="3.0" height="3.0" fill="rgb(189,189,189)"/><rect x="132.26" y="471.75" width="3.0" height="3.0" fill="rgb(242,242,242)"/><rect x="136.21" y="471.75" width="3.0" height="3.0" fill="rgb(219,219,219)"/><rect x="140.17" y="471.75" width="3.0" height="3.0" fill="rgb(219,219,219)"/><rect x="144.12" y="471.75" width="3.0" height="3.0" fill="rgb(219,219,219)"/><rect x="148.07" y="471.75" width="3.0" height="3.0" fill="rgb(219,219,219)"/><rect x="152.03" y="471.75" width="3.0" height="3.0" fill="rgb(189,189,189)"/><rect x="136.21" y="475.68" width="3.0" height="3.0" fill="rgb(242,242,242)"/><rect x="140.17" y="475.68" width="3.0" height="3.0" fill="rgb(219,219,219)"/><rect x="144.12" y="475.68" width="3.0" height="3.0" fill="rgb(189,189,189)"/><rect x="148.07" y="475.68" width="3.0" height="3.0" fill="rgb(219,219,219)"/><rect x="152.03" y="475.68" width="3.0" height="3.0" fill="rgb(189,189,189)"/><rect x="144.12" y="479.60" width="3.0" height="3.0" fill="rgb(242,242,242)"/><rect x="148.07" y="479.60" width="3.0" height="3.0" fill="rgb(242,242,242)"/><rect x="152.03" y="479.60" width="3.0" height="3.0" fill="rgb(242,242,242)"/><rect x="144.12" y="483.53" width="3.0" height="3.0" fill="rgb(242,242,242)"/><rect x="163.89" y="432.49" width="3.0" height="3.0" fill="rgb(242,242,242)"/><rect x="155.98" y="444.27" width="3.0" height="3.0" fill="rgb(219,219,219)"/><rect x="159.94" y="444.27" width="3.0" height="3.0" fill="rgb(242,242,242)"/><rect x="155.98" y="448.19" width="3.0" height="3.0" fill="rgb(242,242,242)"/><rect x="159.94" y="448.19" width="3.0" height="3.0" fill="rgb(189,189,189)"/><rect x="155.98" y="452.12" width="3.0" height="3.0" fill="rgb(219,219,219)"/><rect x="159.94" y="452.12" width="3.0" height="3.0" fill="rgb(242,242,242)"/><rect x="163.89" y="452.12" width="3.0" height="3.0" fill="rgb(219,219,219)"/><rect x="167.85" y="452.12" width="3.0" height="3.0" fill="rgb(242,242,242)"/><rect x="171.80" y="452.12" width="3.0" height="3.0" fill="rgb(219,219,219)"/><rect x="155.98" y="456.04" width="3.0" height="3.0" fill="rgb(219,219,219)"/><rect x="159.94" y="456.04" width="3.0" height="3.0" fill="rgb(219,219,219)"/><rect x="167.85" y="456.04" width="3.0" height="3.0" fill="rgb(242,242,242)"/><rect x="171.80" y="456.04" width="3.0" height="3.0" fill="rgb(219,219,219)"/><rect x="175.75" y="456.04" width="3.0" height="3.0" fill="rgb(242,242,242)"/><rect x="155.98" y="459.97" width="3.0" height="3.0" fill="rgb(189,189,189)"/><rect x="159.94" y="459.97" width="3.0" height="3.0" fill="rgb(219,219,219)"/><rect x="163.89" y="459.97" width="3.0" height="3.0" fill="rgb(154,154,154)"/><rect x="167.85" y="459.97" width="3.0" height="3.0" fill="rgb(219,219,219)"/><rect x="171.80" y="459.97" width="3.0" height="3.0" fill="rgb(242,242,242)"/><rect x="175.75" y="459.97" width="3.0" height="3.0" fill="rgb(242,242,242)"/><rect x="179.71" y="459.97" width="3.0" height="3.0" fill="rgb(242,242,242)"/><rect x="155.98" y="463.90" width="3.0" height="3.0" fill="rgb(219,219,219)"/><rect x="159.94" y="463.90" width="3.0" height="3.0" fill="rgb(189,189,189)"/><rect x="163.89" y="463.90" width="3.0" height="3.0" fill="rgb(219,219,219)"/><rect x="167.85" y="463.90" width="3.0" height="3.0" fill="rgb(154,154,154)"/><rect x="171.80" y="463.90" width="3.0" height="3.0" fill="rgb(189,189,189)"/><rect x="175.75" y="463.90" width="3.0" height="3.0" fill="rgb(219,219,219)"/><rect x="183.66" y="463.90" width="3.0" height="3.0" fill="rgb(242,242,242)"/><rect x="187.62" y="463.90" width="3.0" height="3.0" fill="rgb(242,242,242)"/><rect x="155.98" y="467.82" width="3.0" height="3.0" fill="rgb(219,219,219)"/><rect x="159.94" y="467.82" width="3.0" height="3.0" fill="rgb(242,242,242)"/><rect x="163.89" y="467.82" width="3.0" height="3.0" fill="rgb(219,219,219)"/><rect x="167.85" y="467.82" width="3.0" height="3.0" fill="rgb(242,242,242)"/><rect x="171.80" y="467.82" width="3.0" height="3.0" fill="rgb(219,219,219)"/><rect x="175.75" y="467.82" width="3.0" height="3.0" fill="rgb(189,189,189)"/><rect x="179.71" y="467.82" width="3.0" height="3.0" fill="rgb(83,83,83)"/><rect x="183.66" y="467.82" width="3.0" height="3.0" fill="rgb(189,189,189)"/><rect x="187.62" y="467.82" width="3.0" height="3.0" fill="rgb(242,242,242)"/><rect x="191.57" y="467.82" width="3.0" height="3.0" fill="rgb(242,242,242)"/><rect x="155.98" y="471.75" width="3.0" height="3.0" fill="rgb(189,189,189)"/><rect x="159.94" y="471.75" width="3.0" height="3.0" fill="rgb(219,219,219)"/><rect x="163.89" y="471.75" width="3.0" height="3.0" fill="rgb(219,219,219)"/><rect x="167.85" y="471.75" width="3.0" height="3.0" fill="rgb(219,219,219)"/><rect x="171.80" y="471.75" width="3.0" height="3.0" fill="rgb(219,219,219)"/><rect x="175.75" y="471.75" width="3.0" height="3.0" fill="rgb(219,219,219)"/><rect x="179.71" y="471.75" width="3.0" height="3.0" fill="rgb(189,189,189)"/><rect x="183.66" y="471.75" width="3.0" height="3.0" fill="rgb(189,189,189)"/><rect x="187.62" y="471.75" width="3.0" height="3.0" fill="rgb(242,242,242)"/><rect x="191.57" y="471.75" width="3.0" height="3.0" fill="rgb(242,242,242)"/><rect x="199.48" y="471.75" width="3.0" height="3.0" fill="rgb(219,219,219)"/><rect x="155.98" y="475.68" width="3.0" height="3.0" fill="rgb(219,219,219)"/><rect x="159.94" y="475.68" width="3.0" height="3.0" fill="rgb(189,189,189)"/><rect x="163.89" y="475.68" width="3.0" height="3.0" fill="rgb(50,50,50)"/><rect x="167.85" y="475.68" width="3.0" height="3.0" fill="rgb(219,219,219)"/><rect x="171.80" y="475.68" width="3.0" height="3.0" fill="rgb(242,242,242)"/><rect x="175.75" y="475.68" width="3.0" height="3.0" fill="rgb(219,219,219)"/><rect x="179.71" y="475.68" width="3.0" height="3.0" fill="rgb(219,219,219)"/><rect x="183.66" y="475.68" width="3.0" height="3.0" fill="rgb(219,219,219)"/><rect x="187.62" y="475.68" width="3.0" height="3.0" fill="rgb(242,242,242)"/><rect x="191.57" y="475.68" width="3.0" height="3.0" fill="rgb(242,242,242)"/><rect x="195.52" y="475.68" width="3.0" height="3.0" fill="rgb(219,219,219)"/><rect x="199.48" y="475.68" width="3.0" height="3.0" fill="rgb(231,231,231)"/><rect x="155.98" y="479.60" width="3.0" height="3.0" fill="rgb(242,242,242)"/><rect x="159.94" y="479.60" width="3.0" height="3.0" fill="rgb(189,189,189)"/><rect x="163.89" y="479.60" width="3.0" height="3.0" fill="rgb(189,189,189)"/><rect x="167.85" y="479.60" width="3.0" height="3.0" fill="rgb(219,219,219)"/><rect x="171.80" y="479.60" width="3.0" height="3.0" fill="rgb(219,219,219)"/><rect x="179.71" y="479.60" width="3.0" height="3.0" fill="rgb(242,242,242)"/><rect x="183.66" y="479.60" width="3.0" height="3.0" fill="rgb(154,154,154)"/><rect x="187.62" y="479.60" width="3.0" height="3.0" fill="rgb(118,118,118)"/><rect x="191.57" y="479.60" width="3.0" height="3.0" fill="rgb(189,189,189)"/><rect x="195.52" y="479.60" width="3.0" height="3.0" fill="rgb(242,242,242)"/><rect x="199.48" y="479.60" width="3.0" height="3.0" fill="rgb(242,242,242)"/><rect x="163.89" y="483.53" width="3.0" height="3.0" fill="rgb(219,219,219)"/><rect x="167.85" y="483.53" width="3.0" height="3.0" fill="rgb(219,219,219)"/><rect x="171.80" y="483.53" width="3.0" height="3.0" fill="rgb(219,219,219)"/><rect x="183.66" y="483.53" width="3.0" height="3.0" fill="rgb(242,242,242)"/><rect x="187.62" y="483.53" width="3.0" height="3.0" fill="rgb(242,242,242)"/><rect x="191.57" y="483.53" width="3.0" height="3.0" fill="rgb(242,242,242)"/><rect x="199.48" y="483.53" width="3.0" height="3.0" fill="rgb(242,242,242)"/><rect x="191.57" y="487.46" width="3.0" height="3.0" fill="rgb(242,242,242)"/><rect x="195.52" y="487.46" width="3.0" height="3.0" fill="rgb(242,242,242)"/><rect x="199.48" y="487.46" width="3.0" height="3.0" fill="rgb(250,250,250)"/><rect x="203.43" y="471.75" width="3.0" height="3.0" fill="rgb(219,219,219)"/><rect x="203.43" y="475.68" width="3.0" height="3.0" fill="rgb(242,242,242)"/><rect x="207.39" y="475.68" width="3.0" height="3.0" fill="rgb(219,219,219)"/><rect x="211.34" y="475.68" width="3.0" height="3.0" fill="rgb(219,219,219)"/><rect x="215.29" y="475.68" width="3.0" height="3.0" fill="rgb(219,219,219)"/><rect x="219.25" y="479.60" width="3.0" height="3.0" fill="rgb(219,219,219)"/><rect x="223.20" y="479.60" width="3.0" height="3.0" fill="rgb(242,242,242)"/><rect x="227.16" y="479.60" width="3.0" height="3.0" fill="rgb(242,242,242)"/><rect x="203.43" y="483.53" width="3.0" height="3.0" fill="rgb(219,219,219)"/><rect x="207.39" y="483.53" width="3.0" height="3.0" fill="rgb(242,242,242)"/><rect x="227.16" y="487.46" width="3.0" height="3.0" fill="rgb(242,242,242)"/><rect x="231.11" y="487.46" width="3.0" height="3.0" fill="rgb(219,219,219)"/><rect x="235.06" y="487.46" width="3.0" height="3.0" fill="rgb(219,219,219)"/><rect x="239.02" y="487.46" width="3.0" height="3.0" fill="rgb(219,219,219)"/><rect x="290.05" y="212.35" width="3.0" height="3.0" fill="rgb(242,242,242)"/><rect x="282.20" y="216.29" width="3.0" height="3.0" fill="rgb(242,242,242)"/><rect x="286.12" y="216.29" width="3.0" height="3.0" fill="rgb(219,219,219)"/><rect x="290.05" y="216.29" width="3.0" height="3.0" fill="rgb(242,242,242)"/><rect x="274.36" y="220.22" width="3.0" height="3.0" fill="rgb(242,242,242)"/><rect x="278.28" y="220.22" width="3.0" height="3.0" fill="rgb(219,219,219)"/><rect x="282.20" y="220.22" width="3.0" height="3.0" fill="rgb(242,242,242)"/><rect x="286.12" y="220.22" width="3.0" height="3.0" fill="rgb(189,189,189)"/><rect x="290.05" y="220.22" width="3.0" height="3.0" fill="rgb(219,219,219)"/><rect x="262.60" y="224.16" width="3.0" height="3.0" fill="rgb(242,242,242)"/><rect x="274.36" y="224.16" width="3.0" height="3.0" fill="rgb(219,219,219)"/><rect x="282.20" y="224.16" width="3.0" height="3.0" fill="rgb(242,242,242)"/><rect x="286.12" y="224.16" width="3.0" height="3.0" fill="rgb(154,154,154)"/><rect x="290.05" y="224.16" width="3.0" height="3.0" fill="rgb(189,189,189)"/><rect x="254.75" y="228.10" width="3.0" height="3.0" fill="rgb(242,242,242)"/><rect x="258.68" y="228.10" width="3.0" height="3.0" fill="rgb(242,242,242)"/><rect x="266.52" y="228.10" width="3.0" height="3.0" fill="rgb(242,242,242)"/><rect x="278.28" y="228.10" width="3.0" height="3.0" fill="rgb(154,154,154)"/><rect x="282.20" y="228.10" width="3.0" height="3.0" fill="rgb(154,154,154)"/><rect x="286.12" y="228.10" width="3.0" height="3.0" fill="rgb(118,118,118)"/><rect x="290.05" y="228.10" width="3.0" height="3.0" fill="rgb(118,118,118)"/><rect x="262.60" y="232.03" width="3.0" height="3.0" fill="rgb(189,189,189)"/><rect x="266.52" y="232.03" width="3.0" height="3.0" fill="rgb(242,242,242)"/><rect x="270.44" y="232.03" width="3.0" height="3.0" fill="rgb(189,189,189)"/><rect x="274.36" y="232.03" width="3.0" height="3.0" fill="rgb(189,189,189)"/><rect x="278.28" y="232.03" width="3.0" height="3.0" fill="rgb(83,83,83)"/><rect x="282.20" y="232.03" width="3.0" height="3.0" fill="rgb(154,154,154)"/><rect x="286.12" y="232.03" width="3.0" height="3.0" fill="rgb(83,83,83)"/><rect x="290.05" y="232.03" width="3.0" height="3.0" fill="rgb(21,21,21)"/><rect x="258.68" y="235.97" width="3.0" height="3.0" fill="rgb(219,219,219)"/><rect x="262.60" y="235.97" width="3.0" height="3.0" fill="rgb(154,154,154)"/><rect x="266.52" y="235.97" width="3.0" height="3.0" fill="rgb(219,219,219)"/><rect x="270.44" y="235.97" width="3.0" height="3.0" fill="rgb(118,118,118)"/><rect x="274.36" y="235.97" width="3.0" height="3.0" fill="rgb(118,118,118)"/><rect x="278.28" y="235.97" width="3.0" height="3.0" fill="rgb(21,21,21)"/><rect x="282.20" y="235.97" width="3.0" height="3.0" fill="rgb(118,118,118)"/><rect x="286.12" y="235.97" width="3.0" height="3.0" fill="rgb(83,83,83)"/><rect x="290.05" y="235.97" width="3.0" height="3.0" fill="rgb(83,83,83)"/><rect x="258.68" y="239.91" width="3.0" height="3.0" fill="rgb(242,242,242)"/><rect x="262.60" y="239.91" width="3.0" height="3.0" fill="rgb(242,242,242)"/><rect x="266.52" y="239.91" width="3.0" height="3.0" fill="rgb(219,219,219)"/><rect x="270.44" y="239.91" width="3.0" height="3.0" fill="rgb(219,219,219)"/><rect x="274.36" y="239.91" width="3.0" height="3.0" fill="rgb(83,83,83)"/><rect x="278.28" y="239.91" width="3.0" height="3.0" fill="rgb(83,83,83)"/><rect x="282.20" y="239.91" width="3.0" height="3.0" fill="rgb(118,118,118)"/><rect x="286.12" y="239.91" width="3.0" height="3.0" fill="rgb(118,118,118)"/><rect x="290.05" y="239.91" width="3.0" height="3.0" fill="rgb(189,189,189)"/><rect x="254.75" y="243.84" width="3.0" height="3.0" fill="rgb(189,189,189)"/><rect x="258.68" y="243.84" width="3.0" height="3.0" fill="rgb(189,189,189)"/><rect x="262.60" y="243.84" width="3.0" height="3.0" fill="rgb(219,219,219)"/><rect x="266.52" y="243.84" width="3.0" height="3.0" fill="rgb(189,189,189)"/><rect x="270.44" y="243.84" width="3.0" height="3.0" fill="rgb(189,189,189)"/><rect x="274.36" y="243.84" width="3.0" height="3.0" fill="rgb(154,154,154)"/><rect x="278.28" y="243.84" width="3.0" height="3.0" fill="rgb(118,118,118)"/><rect x="282.20" y="243.84" width="3.0" height="3.0" fill="rgb(189,189,189)"/><rect x="286.12" y="243.84" width="3.0" height="3.0" fill="rgb(189,189,189)"/><rect x="250.83" y="247.78" width="3.0" height="3.0" fill="rgb(242,242,242)"/><rect x="254.75" y="247.78" width="3.0" height="3.0" fill="rgb(219,219,219)"/><rect x="258.68" y="247.78" width="3.0" height="3.0" fill="rgb(242,242,242)"/><rect x="262.60" y="247.78" width="3.0" height="3.0" fill="rgb(219,219,219)"/><rect x="266.52" y="247.78" width="3.0" height="3.0" fill="rgb(242,242,242)"/><rect x="270.44" y="247.78" width="3.0" height="3.0" fill="rgb(154,154,154)"/><rect x="274.36" y="247.78" width="3.0" height="3.0" fill="rgb(219,219,219)"/><rect x="278.28" y="247.78" width="3.0" height="3.0" fill="rgb(189,189,189)"/><rect x="282.20" y="247.78" width="3.0" height="3.0" fill="rgb(154,154,154)"/><rect x="286.12" y="247.78" width="3.0" height="3.0" fill="rgb(219,219,219)"/><rect x="250.83" y="251.72" width="3.0" height="3.0" fill="rgb(219,219,219)"/><rect x="254.75" y="251.72" width="3.0" height="3.0" fill="rgb(219,219,219)"/><rect x="258.68" y="251.72" width="3.0" height="3.0" fill="rgb(242,242,242)"/><rect x="262.60" y="251.72" width="3.0" height="3.0" fill="rgb(189,189,189)"/><rect x="266.52" y="251.72" width="3.0" height="3.0" fill="rgb(219,219,219)"/><rect x="270.44" y="251.72" width="3.0" height="3.0" fill="rgb(83,83,83)"/><rect x="274.36" y="251.72" width="3.0" height="3.0" fill="rgb(219,219,219)"/><rect x="278.28" y="251.72" width="3.0" height="3.0" fill="rgb(219,219,219)"/><rect x="282.20" y="251.72" width="3.0" height="3.0" fill="rgb(242,242,242)"/><rect x="250.83" y="255.65" width="3.0" height="3.0" fill="rgb(242,242,242)"/><rect x="254.75" y="255.65" width="3.0" height="3.0" fill="rgb(242,242,242)"/><rect x="262.60" y="255.65" width="3.0" height="3.0" fill="rgb(219,219,219)"/><rect x="266.52" y="255.65" width="3.0" height="3.0" fill="rgb(242,242,242)"/><rect x="270.44" y="255.65" width="3.0" height="3.0" fill="rgb(242,242,242)"/><rect x="278.28" y="255.65" width="3.0" height="3.0" fill="rgb(242,242,242)"/><rect x="282.20" y="255.65" width="3.0" height="3.0" fill="rgb(242,242,242)"/><rect x="258.68" y="259.59" width="3.0" height="3.0" fill="rgb(242,242,242)"/><rect x="266.52" y="259.59" width="3.0" height="3.0" fill="rgb(189,189,189)"/><rect x="274.36" y="259.59" width="3.0" height="3.0" fill="rgb(219,219,219)"/><rect x="266.52" y="263.53" width="3.0" height="3.0" fill="rgb(219,219,219)"/><rect x="258.68" y="279.27" width="3.0" height="3.0" fill="rgb(242,242,242)"/><rect x="337.10" y="184.79" width="3.0" height="3.0" fill="rgb(242,242,242)"/><rect x="329.26" y="188.73" width="3.0" height="3.0" fill="rgb(242,242,242)"/><rect x="333.18" y="188.73" width="3.0" height="3.0" fill="rgb(242,242,242)"/><rect x="337.10" y="188.73" width="3.0" height="3.0" fill="rgb(242,242,242)"/><rect x="325.34" y="192.67" width="3.0" height="3.0" fill="rgb(242,242,242)"/><rect x="329.26" y="192.67" width="3.0" height="3.0" fill="rgb(154,154,154)"/><rect x="333.18" y="192.67" width="3.0" height="3.0" fill="rgb(219,219,219)"/><rect x="337.10" y="192.67" width="3.0" height="3.0" fill="rgb(219,219,219)"/><rect x="321.42" y="196.60" width="3.0" height="3.0" fill="rgb(242,242,242)"/><rect x="325.34" y="196.60" width="3.0" height="3.0" fill="rgb(219,219,219)"/><rect x="329.26" y="196.60" width="3.0" height="3.0" fill="rgb(219,219,219)"/><rect x="333.18" y="196.60" width="3.0" height="3.0" fill="rgb(219,219,219)"/><rect x="337.10" y="196.60" width="3.0" height="3.0" fill="rgb(154,154,154)"/><rect x="309.65" y="200.54" width="3.0" height="3.0" fill="rgb(242,242,242)"/><rect x="313.57" y="200.54" width="3.0" height="3.0" fill="rgb(242,242,242)"/><rect x="317.50" y="200.54" width="3.0" height="3.0" fill="rgb(242,242,242)"/><rect x="321.42" y="200.54" width="3.0" height="3.0" fill="rgb(242,242,242)"/><rect x="325.34" y="200.54" width="3.0" height="3.0" fill="rgb(219,219,219)"/><rect x="329.26" y="200.54" width="3.0" height="3.0" fill="rgb(189,189,189)"/><rect x="333.18" y="200.54" width="3.0" height="3.0" fill="rgb(83,83,83)"/><rect x="337.10" y="200.54" width="3.0" height="3.0" fill="rgb(189,189,189)"/><rect x="297.89" y="204.48" width="3.0" height="3.0" fill="rgb(242,242,242)"/><rect x="301.81" y="204.48" width="3.0" height="3.0" fill="rgb(242,242,242)"/><rect x="305.73" y="204.48" width="3.0" height="3.0" fill="rgb(242,242,242)"/><rect x="309.65" y="204.48" width="3.0" height="3.0" fill="rgb(219,219,219)"/><rect x="313.57" y="204.48" width="3.0" height="3.0" fill="rgb(219,219,219)"/><rect x="317.50" y="204.48" width="3.0" height="3.0" fill="rgb(189,189,189)"/><rect x="321.42" y="204.48" width="3.0" height="3.0" fill="rgb(189,189,189)"/><rect x="325.34" y="204.48" width="3.0" height="3.0" fill="rgb(154,154,154)"/><rect x="329.26" y="204.48" width="3.0" height="3.0" fill="rgb(154,154,154)"/><rect x="333.18" y="204.48" width="3.0" height="3.0" fill="rgb(154,154,154)"/><rect x="337.10" y="204.48" width="3.0" height="3.0" fill="rgb(219,219,219)"/><rect x="293.97" y="208.41" width="3.0" height="3.0" fill="rgb(242,242,242)"/><rect x="297.89" y="208.41" width="3.0" height="3.0" fill="rgb(242,242,242)"/><rect x="301.81" y="208.41" width="3.0" height="3.0" fill="rgb(219,219,219)"/><rect x="305.73" y="208.41" width="3.0" height="3.0" fill="rgb(219,219,219)"/><rect x="309.65" y="208.41" width="3.0" height="3.0" fill="rgb(189,189,189)"/><rect x="313.57" y="208.41" width="3.0" height="3.0" fill="rgb(189,189,189)"/><rect x="317.50" y="208.41" width="3.0" height="3.0" fill="rgb(154,154,154)"/><rect x="321.42" y="208.41" width="3.0" height="3.0" fill="rgb(50,50,50)"/><rect x="325.34" y="208.41" width="3.0" height="3.0" fill="rgb(154,154,154)"/><rect x="329.26" y="208.41" width="3.0" height="3.0" fill="rgb(118,118,118)"/><rect x="333.18" y="208.41" width="3.0" height="3.0" fill="rgb(189,189,189)"/><rect x="337.10" y="208.41" width="3.0" height="3.0" fill="rgb(242,242,242)"/><rect x="293.97" y="212.35" width="3.0" height="3.0" fill="rgb(242,242,242)"/><rect x="297.89" y="212.35" width="3.0" height="3.0" fill="rgb(219,219,219)"/><rect x="301.81" y="212.35" width="3.0" height="3.0" fill="rgb(189,189,189)"/><rect x="305.73" y="212.35" width="3.0" height="3.0" fill="rgb(154,154,154)"/><rect x="309.65" y="212.35" width="3.0" height="3.0" fill="rgb(154,154,154)"/><rect x="313.57" y="212.35" width="3.0" height="3.0" fill="rgb(118,118,118)"/><rect x="317.50" y="212.35" width="3.0" height="3.0" fill="rgb(118,118,118)"/><rect x="321.42" y="212.35" width="3.0" height="3.0" fill="rgb(154,154,154)"/><rect x="325.34" y="212.35" width="3.0" height="3.0" fill="rgb(154,154,154)"/><rect x="329.26" y="212.35" width="3.0" height="3.0" fill="rgb(219,219,219)"/><rect x="333.18" y="212.35" width="3.0" height="3.0" fill="rgb(219,219,219)"/><rect x="293.97" y="216.29" width="3.0" height="3.0" fill="rgb(219,219,219)"/><rect x="297.89" y="216.29" width="3.0" height="3.0" fill="rgb(189,189,189)"/><rect x="301.81" y="216.29" width="3.0" height="3.0" fill="rgb(189,189,189)"/><rect x="305.73" y="216.29" width="3.0" height="3.0" fill="rgb(189,189,189)"/><rect x="309.65" y="216.29" width="3.0" height="3.0" fill="rgb(83,83,83)"/><rect x="313.57" y="216.29" width="3.0" height="3.0" fill="rgb(189,189,189)"/><rect x="317.50" y="216.29" width="3.0" height="3.0" fill="rgb(118,118,118)"/><rect x="321.42" y="216.29" width="3.0" height="3.0" fill="rgb(189,189,189)"/><rect x="325.34" y="216.29" width="3.0" height="3.0" fill="rgb(219,219,219)"/><rect x="329.26" y="216.29" width="3.0" height="3.0" fill="rgb(242,242,242)"/><rect x="293.97" y="220.22" width="3.0" height="3.0" fill="rgb(154,154,154)"/><rect x="297.89" y="220.22" width="3.0" height="3.0" fill="rgb(189,189,189)"/><rect x="301.81" y="220.22" width="3.0" height="3.0" fill="rgb(118,118,118)"/><rect x="305.73" y="220.22" width="3.0" height="3.0" fill="rgb(154,154,154)"/><rect x="309.65" y="220.22" width="3.0" height="3.0" fill="rgb(118,118,118)"/><rect x="313.57" y="220.22" width="3.0" height="3.0" fill="rgb(118,118,118)"/><rect x="317.50" y="220.22" width="3.0" height="3.0" fill="rgb(219,219,219)"/><rect x="321.42" y="220.22" width="3.0" height="3.0" fill="rgb(219,219,219)"/><rect x="325.34" y="220.22" width="3.0" height="3.0" fill="rgb(242,242,242)"/><rect x="293.97" y="224.16" width="3.0" height="3.0" fill="rgb(50,50,50)"/><rect x="297.89" y="224.16" width="3.0" height="3.0" fill="rgb(118,118,118)"/><rect x="301.81" y="224.16" width="3.0" height="3.0" fill="rgb(83,83,83)"/><rect x="305.73" y="224.16" width="3.0" height="3.0" fill="rgb(118,118,118)"/><rect x="309.65" y="224.16" width="3.0" height="3.0" fill="rgb(21,21,21)"/><rect x="313.57" y="224.16" width="3.0" height="3.0" fill="rgb(219,219,219)"/><rect x="317.50" y="224.16" width="3.0" height="3.0" fill="rgb(242,242,242)"/><rect x="321.42" y="224.16" width="3.0" height="3.0" fill="rgb(242,242,242)"/><rect x="293.97" y="228.10" width="3.0" height="3.0" fill="rgb(83,83,83)"/><rect x="297.89" y="228.10" width="3.0" height="3.0" fill="rgb(154,154,154)"/><rect x="301.81" y="228.10" width="3.0" height="3.0" fill="rgb(118,118,118)"/><rect x="305.73" y="228.10" width="3.0" height="3.0" fill="rgb(189,189,189)"/><rect x="309.65" y="228.10" width="3.0" height="3.0" fill="rgb(219,219,219)"/><rect x="293.97" y="232.03" width="3.0" height="3.0" fill="rgb(83,83,83)"/><rect x="297.89" y="232.03" width="3.0" height="3.0" fill="rgb(118,118,118)"/><rect x="301.81" y="232.03" width="3.0" height="3.0" fill="rgb(219,219,219)"/><rect x="305.73" y="232.03" width="3.0" height="3.0" fill="rgb(242,242,242)"/><rect x="293.97" y="235.97" width="3.0" height="3.0" fill="rgb(118,118,118)"/><rect x="297.89" y="235.97" width="3.0" height="3.0" fill="rgb(219,219,219)"/><rect x="301.81" y="235.97" width="3.0" height="3.0" fill="rgb(242,242,242)"/><rect x="293.97" y="239.91" width="3.0" height="3.0" fill="rgb(242,242,242)"/><rect x="297.89" y="239.91" width="3.0" height="3.0" fill="rgb(242,242,242)"/><rect x="293.97" y="243.84" width="3.0" height="3.0" fill="rgb(219,219,219)"/><rect x="297.89" y="243.84" width="3.0" height="3.0" fill="rgb(219,219,219)"/><rect x="301.81" y="243.84" width="3.0" height="3.0" fill="rgb(242,242,242)"/><rect x="293.97" y="247.78" width="3.0" height="3.0" fill="rgb(242,242,242)"/><rect x="384.16" y="157.24" width="3.0" height="3.0" fill="rgb(242,242,242)"/><rect x="380.24" y="161.17" width="3.0" height="3.0" fill="rgb(242,242,242)"/><rect x="384.16" y="161.17" width="3.0" height="3.0" fill="rgb(219,219,219)"/><rect x="372.40" y="165.11" width="3.0" height="3.0" fill="rgb(242,242,242)"/><rect x="376.32" y="165.11" width="3.0" height="3.0" fill="rgb(219,219,219)"/><rect x="380.24" y="165.11" width="3.0" height="3.0" fill="rgb(219,219,219)"/><rect x="384.16" y="165.11" width="3.0" height="3.0" fill="rgb(242,242,242)"/><rect x="364.55" y="169.05" width="3.0" height="3.0" fill="rgb(242,242,242)"/><rect x="368.48" y="169.05" width="3.0" height="3.0" fill="rgb(242,242,242)"/><rect x="372.40" y="169.05" width="3.0" height="3.0" fill="rgb(154,154,154)"/><rect x="376.32" y="169.05" width="3.0" height="3.0" fill="rgb(189,189,189)"/><rect x="380.24" y="169.05" width="3.0" height="3.0" fill="rgb(219,219,219)"/><rect x="348.87" y="172.98" width="3.0" height="3.0" fill="rgb(242,242,242)"/><rect x="352.79" y="172.98" width="3.0" height="3.0" fill="rgb(242,242,242)"/><rect x="356.71" y="172.98" width="3.0" height="3.0" fill="rgb(242,242,242)"/><rect x="360.63" y="172.98" width="3.0" height="3.0" fill="rgb(219,219,219)"/><rect x="364.55" y="172.98" width="3.0" height="3.0" fill="rgb(219,219,219)"/><rect x="368.48" y="172.98" width="3.0" height="3.0" fill="rgb(189,189,189)"/><rect x="372.40" y="172.98" width="3.0" height="3.0" fill="rgb(219,219,219)"/><rect x="344.95" y="176.92" width="3.0" height="3.0" fill="rgb(219,219,219)"/><rect x="352.79" y="176.92" width="3.0" height="3.0" fill="rgb(242,242,242)"/><rect x="356.71" y="176.92" width="3.0" height="3.0" fill="rgb(219,219,219)"/><rect x="360.63" y="176.92" width="3.0" height="3.0" fill="rgb(189,189,189)"/><rect x="364.55" y="176.92" width="3.0" height="3.0" fill="rgb(242,242,242)"/><rect x="368.48" y="176.92" width="3.0" height="3.0" fill="rgb(242,242,242)"/><rect x="341.02" y="180.86" width="3.0" height="3.0" fill="rgb(242,242,242)"/><rect x="348.87" y="180.86" width="3.0" height="3.0" fill="rgb(242,242,242)"/><rect x="352.79" y="180.86" width="3.0" height="3.0" fill="rgb(219,219,219)"/><rect x="356.71" y="180.86" width="3.0" height="3.0" fill="rgb(189,189,189)"/><rect x="360.63" y="180.86" width="3.0" height="3.0" fill="rgb(154,154,154)"/><rect x="364.55" y="180.86" width="3.0" height="3.0" fill="rgb(118,118,118)"/><rect x="368.48" y="180.86" width="3.0" height="3.0" fill="rgb(219,219,219)"/><rect x="341.02" y="184.79" width="3.0" height="3.0" fill="rgb(242,242,242)"/><rect x="344.95" y="184.79" width="3.0" height="3.0" fill="rgb(242,242,242)"/><rect x="348.87" y="184.79" width="3.0" height="3.0" fill="rgb(219,219,219)"/><rect x="352.79" y="184.79" width="3.0" height="3.0" fill="rgb(189,189,189)"/><rect x="356.71" y="184.79" width="3.0" height="3.0" fill="rgb(219,219,219)"/><rect x="360.63" y="184.79" width="3.0" height="3.0" fill="rgb(219,219,219)"/><rect x="364.55" y="184.79" width="3.0" height="3.0" fill="rgb(242,242,242)"/><rect x="341.02" y="188.73" width="3.0" height="3.0" fill="rgb(242,242,242)"/><rect x="344.95" y="188.73" width="3.0" height="3.0" fill="rgb(154,154,154)"/><rect x="348.87" y="188.73" width="3.0" height="3.0" fill="rgb(219,219,219)"/><rect x="352.79" y="188.73" width="3.0" height="3.0" fill="rgb(219,219,219)"/><rect x="356.71" y="188.73" width="3.0" height="3.0" fill="rgb(83,83,83)"/><rect x="360.63" y="188.73" width="3.0" height="3.0" fill="rgb(219,219,219)"/><rect x="341.02" y="192.67" width="3.0" height="3.0" fill="rgb(189,189,189)"/><rect x="344.95" y="192.67" width="3.0" height="3.0" fill="rgb(189,189,189)"/><rect x="348.87" y="192.67" width="3.0" height="3.0" fill="rgb(219,219,219)"/><rect x="352.79" y="192.67" width="3.0" height="3.0" fill="rgb(242,242,242)"/><rect x="356.71" y="192.67" width="3.0" height="3.0" fill="rgb(154,154,154)"/><rect x="341.02" y="196.60" width="3.0" height="3.0" fill="rgb(118,118,118)"/><rect x="344.95" y="196.60" width="3.0" height="3.0" fill="rgb(219,219,219)"/><rect x="348.87" y="196.60" width="3.0" height="3.0" fill="rgb(189,189,189)"/><rect x="352.79" y="196.60" width="3.0" height="3.0" fill="rgb(242,242,242)"/><rect x="341.02" y="200.54" width="3.0" height="3.0" fill="rgb(21,21,21)"/><rect x="344.95" y="200.54" width="3.0" height="3.0" fill="rgb(189,189,189)"/><rect x="348.87" y="200.54" width="3.0" height="3.0" fill="rgb(242,242,242)"/><rect x="341.02" y="204.48" width="3.0" height="3.0" fill="rgb(219,219,219)"/><rect x="344.95" y="204.48" width="3.0" height="3.0" fill="rgb(242,242,242)"/><rect x="419.45" y="129.68" width="3.0" height="3.0" fill="rgb(242,242,242)"/><rect x="411.61" y="133.62" width="3.0" height="3.0" fill="rgb(242,242,242)"/><rect x="415.53" y="133.62" width="3.0" height="3.0" fill="rgb(242,242,242)"/><rect x="407.69" y="137.55" width="3.0" height="3.0" fill="rgb(219,219,219)"/><rect x="411.61" y="137.55" width="3.0" height="3.0" fill="rgb(242,242,242)"/><rect x="403.77" y="141.49" width="3.0" height="3.0" fill="rgb(219,219,219)"/><rect x="395.93" y="145.43" width="3.0" height="3.0" fill="rgb(242,242,242)"/><rect x="399.85" y="145.43" width="3.0" height="3.0" fill="rgb(219,219,219)"/><rect x="392.00" y="149.36" width="3.0" height="3.0" fill="rgb(219,219,219)"/><rect x="395.93" y="149.36" width="3.0" height="3.0" fill="rgb(219,219,219)"/><rect x="388.08" y="153.30" width="3.0" height="3.0" fill="rgb(242,242,242)"/><rect x="399.85" y="153.30" width="3.0" height="3.0" fill="rgb(242,242,242)"/><rect x="392.00" y="157.24" width="3.0" height="3.0" fill="rgb(219,219,219)"/><rect x="388.08" y="161.17" width="3.0" height="3.0" fill="rgb(219,219,219)"/><rect x="254.75" y="350.03" width="3.0" height="3.0" fill="rgb(242,242,242)"/><rect x="258.68" y="353.96" width="3.0" height="3.0" fill="rgb(219,219,219)"/><rect x="262.60" y="353.96" width="3.0" height="3.0" fill="rgb(242,242,242)"/><rect x="262.60" y="365.73" width="3.0" height="3.0" fill="rgb(242,242,242)"/><rect x="266.52" y="365.73" width="3.0" height="3.0" fill="rgb(242,242,242)"/><rect x="262.60" y="369.66" width="3.0" height="3.0" fill="rgb(219,219,219)"/><rect x="270.44" y="369.66" width="3.0" height="3.0" fill="rgb(242,242,242)"/><rect x="274.36" y="369.66" width="3.0" height="3.0" fill="rgb(242,242,242)"/><rect x="258.68" y="373.59" width="3.0" height="3.0" fill="rgb(219,219,219)"/><rect x="266.52" y="373.59" width="3.0" height="3.0" fill="rgb(242,242,242)"/><rect x="274.36" y="373.59" width="3.0" height="3.0" fill="rgb(219,219,219)"/><rect x="278.28" y="373.59" width="3.0" height="3.0" fill="rgb(242,242,242)"/><rect x="250.83" y="377.51" width="3.0" height="3.0" fill="rgb(242,242,242)"/><rect x="254.75" y="377.51" width="3.0" height="3.0" fill="rgb(219,219,219)"/><rect x="266.52" y="377.51" width="3.0" height="3.0" fill="rgb(242,242,242)"/><rect x="282.20" y="377.51" width="3.0" height="3.0" fill="rgb(242,242,242)"/><rect x="258.68" y="381.44" width="3.0" height="3.0" fill="rgb(219,219,219)"/><rect x="270.44" y="381.44" width="3.0" height="3.0" fill="rgb(242,242,242)"/><rect x="286.12" y="381.44" width="3.0" height="3.0" fill="rgb(242,242,242)"/><rect x="254.75" y="385.37" width="3.0" height="3.0" fill="rgb(242,242,242)"/><rect x="258.68" y="385.37" width="3.0" height="3.0" fill="rgb(242,242,242)"/><rect x="262.60" y="385.37" width="3.0" height="3.0" fill="rgb(242,242,242)"/><rect x="282.20" y="385.37" width="3.0" height="3.0" fill="rgb(242,242,242)"/><rect x="266.52" y="389.29" width="3.0" height="3.0" fill="rgb(189,189,189)"/><rect x="274.36" y="389.29" width="3.0" height="3.0" fill="rgb(242,242,242)"/><rect x="278.28" y="389.29" width="3.0" height="3.0" fill="rgb(219,219,219)"/><rect x="286.12" y="389.29" width="3.0" height="3.0" fill="rgb(219,219,219)"/><rect x="290.05" y="389.29" width="3.0" height="3.0" fill="rgb(250,250,250)"/><rect x="258.68" y="393.22" width="3.0" height="3.0" fill="rgb(219,219,219)"/><rect x="270.44" y="393.22" width="3.0" height="3.0" fill="rgb(242,242,242)"/><rect x="278.28" y="393.22" width="3.0" height="3.0" fill="rgb(219,219,219)"/><rect x="282.20" y="393.22" width="3.0" height="3.0" fill="rgb(242,242,242)"/><rect x="286.12" y="393.22" width="3.0" height="3.0" fill="rgb(231,231,231)"/><rect x="250.83" y="397.15" width="3.0" height="3.0" fill="rgb(242,242,242)"/><rect x="254.75" y="397.15" width="3.0" height="3.0" fill="rgb(242,242,242)"/><rect x="270.44" y="397.15" width="3.0" height="3.0" fill="rgb(219,219,219)"/><rect x="274.36" y="397.15" width="3.0" height="3.0" fill="rgb(219,219,219)"/><rect x="278.28" y="397.15" width="3.0" height="3.0" fill="rgb(189,189,189)"/><rect x="282.20" y="397.15" width="3.0" height="3.0" fill="rgb(242,242,242)"/><rect x="286.12" y="397.15" width="3.0" height="3.0" fill="rgb(231,231,231)"/><rect x="290.05" y="397.15" width="3.0" height="3.0" fill="rgb(242,242,242)"/><rect x="254.75" y="401.07" width="3.0" height="3.0" fill="rgb(242,242,242)"/><rect x="262.60" y="401.07" width="3.0" height="3.0" fill="rgb(242,242,242)"/><rect x="266.52" y="401.07" width="3.0" height="3.0" fill="rgb(242,242,242)"/><rect x="270.44" y="401.07" width="3.0" height="3.0" fill="rgb(242,242,242)"/><rect x="274.36" y="401.07" width="3.0" height="3.0" fill="rgb(189,189,189)"/><rect x="278.28" y="401.07" width="3.0" height="3.0" fill="rgb(219,219,219)"/><rect x="282.20" y="401.07" width="3.0" height="3.0" fill="rgb(154,154,154)"/><rect x="286.12" y="401.07" width="3.0" height="3.0" fill="rgb(189,189,189)"/><rect x="290.05" y="401.07" width="3.0" height="3.0" fill="rgb(189,189,189)"/><rect x="262.60" y="405.00" width="3.0" height="3.0" fill="rgb(219,219,219)"/><rect x="266.52" y="405.00" width="3.0" height="3.0" fill="rgb(219,219,219)"/><rect x="270.44" y="405.00" width="3.0" height="3.0" fill="rgb(242,242,242)"/><rect x="274.36" y="405.00" width="3.0" height="3.0" fill="rgb(219,219,219)"/><rect x="278.28" y="405.00" width="3.0" height="3.0" fill="rgb(154,154,154)"/><rect x="282.20" y="405.00" width="3.0" height="3.0" fill="rgb(219,219,219)"/><rect x="286.12" y="405.00" width="3.0" height="3.0" fill="rgb(219,219,219)"/><rect x="290.05" y="405.00" width="3.0" height="3.0" fill="rgb(219,219,219)"/><rect x="262.60" y="408.93" width="3.0" height="3.0" fill="rgb(242,242,242)"/><rect x="266.52" y="408.93" width="3.0" height="3.0" fill="rgb(242,242,242)"/><rect x="274.36" y="408.93" width="3.0" height="3.0" fill="rgb(189,189,189)"/><rect x="278.28" y="408.93" width="3.0" height="3.0" fill="rgb(189,189,189)"/><rect x="282.20" y="408.93" width="3.0" height="3.0" fill="rgb(189,189,189)"/><rect x="286.12" y="408.93" width="3.0" height="3.0" fill="rgb(219,219,219)"/><rect x="290.05" y="408.93" width="3.0" height="3.0" fill="rgb(189,189,189)"/><rect x="266.52" y="412.85" width="3.0" height="3.0" fill="rgb(242,242,242)"/><rect x="270.44" y="412.85" width="3.0" height="3.0" fill="rgb(219,219,219)"/><rect x="274.36" y="412.85" width="3.0" height="3.0" fill="rgb(189,189,189)"/><rect x="278.28" y="412.85" width="3.0" height="3.0" fill="rgb(189,189,189)"/><rect x="282.20" y="412.85" width="3.0" height="3.0" fill="rgb(219,219,219)"/><rect x="286.12" y="412.85" width="3.0" height="3.0" fill="rgb(154,154,154)"/><rect x="290.05" y="412.85" width="3.0" height="3.0" fill="rgb(219,219,219)"/><rect x="262.60" y="416.78" width="3.0" height="3.0" fill="rgb(242,242,242)"/><rect x="270.44" y="416.78" width="3.0" height="3.0" fill="rgb(242,242,242)"/><rect x="274.36" y="416.78" width="3.0" height="3.0" fill="rgb(219,219,219)"/><rect x="278.28" y="416.78" width="3.0" height="3.0" fill="rgb(189,189,189)"/><rect x="282.20" y="416.78" width="3.0" height="3.0" fill="rgb(118,118,118)"/><rect x="286.12" y="416.78" width="3.0" height="3.0" fill="rgb(189,189,189)"/><rect x="290.05" y="416.78" width="3.0" height="3.0" fill="rgb(204,204,204)"/><rect x="266.52" y="420.71" width="3.0" height="3.0" fill="rgb(219,219,219)"/><rect x="270.44" y="420.71" width="3.0" height="3.0" fill="rgb(189,189,189)"/><rect x="274.36" y="420.71" width="3.0" height="3.0" fill="rgb(219,219,219)"/><rect x="278.28" y="420.71" width="3.0" height="3.0" fill="rgb(219,219,219)"/><rect x="282.20" y="420.71" width="3.0" height="3.0" fill="rgb(189,189,189)"/><rect x="286.12" y="420.71" width="3.0" height="3.0" fill="rgb(118,118,118)"/><rect x="290.05" y="420.71" width="3.0" height="3.0" fill="rgb(189,189,189)"/><rect x="270.44" y="424.63" width="3.0" height="3.0" fill="rgb(189,189,189)"/><rect x="274.36" y="424.63" width="3.0" height="3.0" fill="rgb(219,219,219)"/><rect x="278.28" y="424.63" width="3.0" height="3.0" fill="rgb(154,154,154)"/><rect x="282.20" y="424.63" width="3.0" height="3.0" fill="rgb(189,189,189)"/><rect x="286.12" y="424.63" width="3.0" height="3.0" fill="rgb(189,189,189)"/><rect x="290.05" y="424.63" width="3.0" height="3.0" fill="rgb(172,172,172)"/><rect x="270.44" y="428.56" width="3.0" height="3.0" fill="rgb(189,189,189)"/><rect x="274.36" y="428.56" width="3.0" height="3.0" fill="rgb(219,219,219)"/><rect x="278.28" y="428.56" width="3.0" height="3.0" fill="rgb(189,189,189)"/><rect x="282.20" y="428.56" width="3.0" height="3.0" fill="rgb(219,219,219)"/><rect x="286.12" y="428.56" width="3.0" height="3.0" fill="rgb(172,172,172)"/><rect x="290.05" y="428.56" width="3.0" height="3.0" fill="rgb(204,204,204)"/><rect x="270.44" y="432.49" width="3.0" height="3.0" fill="rgb(242,242,242)"/><rect x="274.36" y="432.49" width="3.0" height="3.0" fill="rgb(219,219,219)"/><rect x="278.28" y="432.49" width="3.0" height="3.0" fill="rgb(219,219,219)"/><rect x="282.20" y="432.49" width="3.0" height="3.0" fill="rgb(219,219,219)"/><rect x="286.12" y="432.49" width="3.0" height="3.0" fill="rgb(154,154,154)"/><rect x="290.05" y="432.49" width="3.0" height="3.0" fill="rgb(204,204,204)"/><rect x="266.52" y="436.41" width="3.0" height="3.0" fill="rgb(242,242,242)"/><rect x="274.36" y="436.41" width="3.0" height="3.0" fill="rgb(242,242,242)"/><rect x="278.28" y="436.41" width="3.0" height="3.0" fill="rgb(242,242,242)"/><rect x="282.20" y="436.41" width="3.0" height="3.0" fill="rgb(189,189,189)"/><rect x="266.52" y="440.34" width="3.0" height="3.0" fill="rgb(242,242,242)"/><rect x="278.28" y="440.34" width="3.0" height="3.0" fill="rgb(219,219,219)"/><rect x="282.20" y="440.34" width="3.0" height="3.0" fill="rgb(242,242,242)"/><rect x="266.52" y="444.27" width="3.0" height="3.0" fill="rgb(219,219,219)"/><rect x="278.28" y="444.27" width="3.0" height="3.0" fill="rgb(242,242,242)"/><rect x="282.20" y="444.27" width="3.0" height="3.0" fill="rgb(242,242,242)"/><rect x="282.20" y="448.19" width="3.0" height="3.0" fill="rgb(219,219,219)"/><rect x="274.36" y="452.12" width="3.0" height="3.0" fill="rgb(219,219,219)"/><rect x="278.28" y="452.12" width="3.0" height="3.0" fill="rgb(242,242,242)"/><rect x="282.20" y="452.12" width="3.0" height="3.0" fill="rgb(242,242,242)"/><rect x="258.68" y="456.04" width="3.0" height="3.0" fill="rgb(242,242,242)"/><rect x="293.97" y="389.29" width="3.0" height="3.0" fill="rgb(242,242,242)"/><rect x="297.89" y="389.29" width="3.0" height="3.0" fill="rgb(242,242,242)"/><rect x="293.97" y="393.22" width="3.0" height="3.0" fill="rgb(242,242,242)"/><rect x="301.81" y="393.22" width="3.0" height="3.0" fill="rgb(242,242,242)"/><rect x="293.97" y="397.15" width="3.0" height="3.0" fill="rgb(242,242,242)"/><rect x="297.89" y="397.15" width="3.0" height="3.0" fill="rgb(242,242,242)"/><rect x="293.97" y="401.07" width="3.0" height="3.0" fill="rgb(242,242,242)"/><rect x="297.89" y="401.07" width="3.0" height="3.0" fill="rgb(242,242,242)"/><rect x="293.97" y="405.00" width="3.0" height="3.0" fill="rgb(189,189,189)"/><rect x="297.89" y="405.00" width="3.0" height="3.0" fill="rgb(219,219,219)"/><rect x="301.81" y="405.00" width="3.0" height="3.0" fill="rgb(219,219,219)"/><rect x="305.73" y="405.00" width="3.0" height="3.0" fill="rgb(242,242,242)"/><rect x="309.65" y="405.00" width="3.0" height="3.0" fill="rgb(242,242,242)"/><rect x="293.97" y="408.93" width="3.0" height="3.0" fill="rgb(219,219,219)"/><rect x="297.89" y="408.93" width="3.0" height="3.0" fill="rgb(242,242,242)"/><rect x="301.81" y="408.93" width="3.0" height="3.0" fill="rgb(242,242,242)"/><rect x="305.73" y="408.93" width="3.0" height="3.0" fill="rgb(242,242,242)"/><rect x="313.57" y="408.93" width="3.0" height="3.0" fill="rgb(242,242,242)"/><rect x="293.97" y="412.85" width="3.0" height="3.0" fill="rgb(219,219,219)"/><rect x="297.89" y="412.85" width="3.0" height="3.0" fill="rgb(219,219,219)"/><rect x="301.81" y="412.85" width="3.0" height="3.0" fill="rgb(219,219,219)"/><rect x="305.73" y="412.85" width="3.0" height="3.0" fill="rgb(219,219,219)"/><rect x="309.65" y="412.85" width="3.0" height="3.0" fill="rgb(242,242,242)"/><rect x="313.57" y="412.85" width="3.0" height="3.0" fill="rgb(242,242,242)"/><rect x="293.97" y="416.78" width="3.0" height="3.0" fill="rgb(189,189,189)"/><rect x="297.89" y="416.78" width="3.0" height="3.0" fill="rgb(189,189,189)"/><rect x="301.81" y="416.78" width="3.0" height="3.0" fill="rgb(189,189,189)"/><rect x="305.73" y="416.78" width="3.0" height="3.0" fill="rgb(189,189,189)"/><rect x="309.65" y="416.78" width="3.0" height="3.0" fill="rgb(219,219,219)"/><rect x="317.50" y="416.78" width="3.0" height="3.0" fill="rgb(242,242,242)"/><rect x="321.42" y="416.78" width="3.0" height="3.0" fill="rgb(242,242,242)"/><rect x="293.97" y="420.71" width="3.0" height="3.0" fill="rgb(189,189,189)"/><rect x="297.89" y="420.71" width="3.0" height="3.0" fill="rgb(189,189,189)"/><rect x="301.81" y="420.71" width="3.0" height="3.0" fill="rgb(189,189,189)"/><rect x="305.73" y="420.71" width="3.0" height="3.0" fill="rgb(219,219,219)"/><rect x="309.65" y="420.71" width="3.0" height="3.0" fill="rgb(189,189,189)"/><rect x="313.57" y="420.71" width="3.0" height="3.0" fill="rgb(219,219,219)"/><rect x="317.50" y="420.71" width="3.0" height="3.0" fill="rgb(189,189,189)"/><rect x="321.42" y="420.71" width="3.0" height="3.0" fill="rgb(242,242,242)"/><rect x="325.34" y="420.71" width="3.0" height="3.0" fill="rgb(219,219,219)"/><rect x="293.97" y="424.63" width="3.0" height="3.0" fill="rgb(189,189,189)"/><rect x="297.89" y="424.63" width="3.0" height="3.0" fill="rgb(154,154,154)"/><rect x="301.81" y="424.63" width="3.0" height="3.0" fill="rgb(189,189,189)"/><rect x="305.73" y="424.63" width="3.0" height="3.0" fill="rgb(189,189,189)"/><rect x="309.65" y="424.63" width="3.0" height="3.0" fill="rgb(219,219,219)"/><rect x="313.57" y="424.63" width="3.0" height="3.0" fill="rgb(219,219,219)"/><rect x="317.50" y="424.63" width="3.0" height="3.0" fill="rgb(189,189,189)"/><rect x="321.42" y="424.63" width="3.0" height="3.0" fill="rgb(189,189,189)"/><rect x="329.26" y="424.63" width="3.0" height="3.0" fill="rgb(219,219,219)"/><rect x="333.18" y="424.63" width="3.0" height="3.0" fill="rgb(219,219,219)"/><rect x="293.97" y="428.56" width="3.0" height="3.0" fill="rgb(189,189,189)"/><rect x="297.89" y="428.56" width="3.0" height="3.0" fill="rgb(189,189,189)"/><rect x="301.81" y="428.56" width="3.0" height="3.0" fill="rgb(189,189,189)"/><rect x="305.73" y="428.56" width="3.0" height="3.0" fill="rgb(154,154,154)"/><rect x="309.65" y="428.56" width="3.0" height="3.0" fill="rgb(189,189,189)"/><rect x="313.57" y="428.56" width="3.0" height="3.0" fill="rgb(189,189,189)"/><rect x="317.50" y="428.56" width="3.0" height="3.0" fill="rgb(189,189,189)"/><rect x="321.42" y="428.56" width="3.0" height="3.0" fill="rgb(219,219,219)"/><rect x="325.34" y="428.56" width="3.0" height="3.0" fill="rgb(219,219,219)"/><rect x="329.26" y="428.56" width="3.0" height="3.0" fill="rgb(242,242,242)"/><rect x="333.18" y="428.56" width="3.0" height="3.0" fill="rgb(231,231,231)"/><rect x="293.97" y="432.49" width="3.0" height="3.0" fill="rgb(189,189,189)"/><rect x="297.89" y="432.49" width="3.0" height="3.0" fill="rgb(189,189,189)"/><rect x="301.81" y="432.49" width="3.0" height="3.0" fill="rgb(154,154,154)"/><rect x="305.73" y="432.49" width="3.0" height="3.0" fill="rgb(189,189,189)"/><rect x="309.65" y="432.49" width="3.0" height="3.0" fill="rgb(154,154,154)"/><rect x="313.57" y="432.49" width="3.0" height="3.0" fill="rgb(189,189,189)"/><rect x="317.50" y="432.49" width="3.0" height="3.0" fill="rgb(219,219,219)"/><rect x="321.42" y="432.49" width="3.0" height="3.0" fill="rgb(189,189,189)"/><rect x="325.34" y="432.49" width="3.0" height="3.0" fill="rgb(219,219,219)"/><rect x="329.26" y="432.49" width="3.0" height="3.0" fill="rgb(219,219,219)"/><rect x="333.18" y="432.49" width="3.0" height="3.0" fill="rgb(219,219,219)"/><rect x="337.10" y="432.49" width="3.0" height="3.0" fill="rgb(231,231,231)"/><rect x="286.12" y="436.41" width="3.0" height="3.0" fill="rgb(219,219,219)"/><rect x="290.05" y="436.41" width="3.0" height="3.0" fill="rgb(189,189,189)"/><rect x="293.97" y="436.41" width="3.0" height="3.0" fill="rgb(189,189,189)"/><rect x="297.89" y="436.41" width="3.0" height="3.0" fill="rgb(189,189,189)"/><rect x="301.81" y="436.41" width="3.0" height="3.0" fill="rgb(219,219,219)"/><rect x="305.73" y="436.41" width="3.0" height="3.0" fill="rgb(189,189,189)"/><rect x="309.65" y="436.41" width="3.0" height="3.0" fill="rgb(154,154,154)"/><rect x="313.57" y="436.41" width="3.0" height="3.0" fill="rgb(189,189,189)"/><rect x="317.50" y="436.41" width="3.0" height="3.0" fill="rgb(219,219,219)"/><rect x="321.42" y="436.41" width="3.0" height="3.0" fill="rgb(219,219,219)"/><rect x="325.34" y="436.41" width="3.0" height="3.0" fill="rgb(189,189,189)"/><rect x="329.26" y="436.41" width="3.0" height="3.0" fill="rgb(219,219,219)"/><rect x="333.18" y="436.41" width="3.0" height="3.0" fill="rgb(231,231,231)"/><rect x="337.10" y="436.41" width="3.0" height="3.0" fill="rgb(231,231,231)"/><rect x="290.05" y="440.34" width="3.0" height="3.0" fill="rgb(242,242,242)"/><rect x="293.97" y="440.34" width="3.0" height="3.0" fill="rgb(189,189,189)"/><rect x="297.89" y="440.34" width="3.0" height="3.0" fill="rgb(189,189,189)"/><rect x="301.81" y="440.34" width="3.0" height="3.0" fill="rgb(189,189,189)"/><rect x="305.73" y="440.34" width="3.0" height="3.0" fill="rgb(189,189,189)"/><rect x="309.65" y="440.34" width="3.0" height="3.0" fill="rgb(154,154,154)"/><rect x="313.57" y="440.34" width="3.0" height="3.0" fill="rgb(154,154,154)"/><rect x="317.50" y="440.34" width="3.0" height="3.0" fill="rgb(189,189,189)"/><rect x="321.42" y="440.34" width="3.0" height="3.0" fill="rgb(154,154,154)"/><rect x="325.34" y="440.34" width="3.0" height="3.0" fill="rgb(189,189,189)"/><rect x="329.26" y="440.34" width="3.0" height="3.0" fill="rgb(219,219,219)"/><rect x="333.18" y="440.34" width="3.0" height="3.0" fill="rgb(219,219,219)"/><rect x="337.10" y="440.34" width="3.0" height="3.0" fill="rgb(219,219,219)"/><rect x="286.12" y="444.27" width="3.0" height="3.0" fill="rgb(219,219,219)"/><rect x="297.89" y="444.27" width="3.0" height="3.0" fill="rgb(219,219,219)"/><rect x="301.81" y="444.27" width="3.0" height="3.0" fill="rgb(219,219,219)"/><rect x="305.73" y="444.27" width="3.0" height="3.0" fill="rgb(219,219,219)"/><rect x="309.65" y="444.27" width="3.0" height="3.0" fill="rgb(189,189,189)"/><rect x="313.57" y="444.27" width="3.0" height="3.0" fill="rgb(189,189,189)"/><rect x="317.50" y="444.27" width="3.0" height="3.0" fill="rgb(189,189,189)"/><rect x="321.42" y="444.27" width="3.0" height="3.0" fill="rgb(189,189,189)"/><rect x="325.34" y="444.27" width="3.0" height="3.0" fill="rgb(189,189,189)"/><rect x="329.26" y="444.27" width="3.0" height="3.0" fill="rgb(189,189,189)"/><rect x="333.18" y="444.27" width="3.0" height="3.0" fill="rgb(219,219,219)"/><rect x="337.10" y="444.27" width="3.0" height="3.0" fill="rgb(219,219,219)"/><rect x="286.12" y="448.19" width="3.0" height="3.0" fill="rgb(219,219,219)"/><rect x="297.89" y="448.19" width="3.0" height="3.0" fill="rgb(219,219,219)"/><rect x="301.81" y="448.19" width="3.0" height="3.0" fill="rgb(189,189,189)"/><rect x="305.73" y="448.19" width="3.0" height="3.0" fill="rgb(219,219,219)"/><rect x="309.65" y="448.19" width="3.0" height="3.0" fill="rgb(118,118,118)"/><rect x="313.57" y="448.19" width="3.0" height="3.0" fill="rgb(189,189,189)"/><rect x="317.50" y="448.19" width="3.0" height="3.0" fill="rgb(189,189,189)"/><rect x="321.42" y="448.19" width="3.0" height="3.0" fill="rgb(189,189,189)"/><rect x="325.34" y="448.19" width="3.0" height="3.0" fill="rgb(189,189,189)"/><rect x="329.26" y="448.19" width="3.0" height="3.0" fill="rgb(189,189,189)"/><rect x="333.18" y="448.19" width="3.0" height="3.0" fill="rgb(189,189,189)"/><rect x="337.10" y="448.19" width="3.0" height="3.0" fill="rgb(189,189,189)"/><rect x="290.05" y="452.12" width="3.0" height="3.0" fill="rgb(242,242,242)"/><rect x="305.73" y="452.12" width="3.0" height="3.0" fill="rgb(242,242,242)"/><rect x="309.65" y="452.12" width="3.0" height="3.0" fill="rgb(219,219,219)"/><rect x="313.57" y="452.12" width="3.0" height="3.0" fill="rgb(219,219,219)"/><rect x="317.50" y="452.12" width="3.0" height="3.0" fill="rgb(189,189,189)"/><rect x="321.42" y="452.12" width="3.0" height="3.0" fill="rgb(219,219,219)"/><rect x="325.34" y="452.12" width="3.0" height="3.0" fill="rgb(189,189,189)"/><rect x="329.26" y="452.12" width="3.0" height="3.0" fill="rgb(154,154,154)"/><rect x="333.18" y="452.12" width="3.0" height="3.0" fill="rgb(189,189,189)"/><rect x="337.10" y="452.12" width="3.0" height="3.0" fill="rgb(189,189,189)"/><rect x="293.97" y="456.04" width="3.0" height="3.0" fill="rgb(219,219,219)"/><rect x="297.89" y="456.04" width="3.0" height="3.0" fill="rgb(242,242,242)"/><rect x="301.81" y="456.04" width="3.0" height="3.0" fill="rgb(219,219,219)"/><rect x="305.73" y="456.04" width="3.0" height="3.0" fill="rgb(219,219,219)"/><rect x="309.65" y="456.04" width="3.0" height="3.0" fill="rgb(219,219,219)"/><rect x="313.57" y="456.04" width="3.0" height="3.0" fill="rgb(219,219,219)"/><rect x="317.50" y="456.04" width="3.0" height="3.0" fill="rgb(189,189,189)"/><rect x="321.42" y="456.04" width="3.0" height="3.0" fill="rgb(219,219,219)"/><rect x="325.34" y="456.04" width="3.0" height="3.0" fill="rgb(189,189,189)"/><rect x="329.26" y="456.04" width="3.0" height="3.0" fill="rgb(219,219,219)"/><rect x="333.18" y="456.04" width="3.0" height="3.0" fill="rgb(154,154,154)"/><rect x="337.10" y="456.04" width="3.0" height="3.0" fill="rgb(189,189,189)"/><rect x="313.57" y="459.97" width="3.0" height="3.0" fill="rgb(242,242,242)"/><rect x="317.50" y="459.97" width="3.0" height="3.0" fill="rgb(242,242,242)"/><rect x="321.42" y="459.97" width="3.0" height="3.0" fill="rgb(189,189,189)"/><rect x="325.34" y="459.97" width="3.0" height="3.0" fill="rgb(189,189,189)"/><rect x="329.26" y="459.97" width="3.0" height="3.0" fill="rgb(189,189,189)"/><rect x="333.18" y="459.97" width="3.0" height="3.0" fill="rgb(83,83,83)"/><rect x="337.10" y="459.97" width="3.0" height="3.0" fill="rgb(189,189,189)"/><rect x="297.89" y="463.90" width="3.0" height="3.0" fill="rgb(219,219,219)"/><rect x="301.81" y="463.90" width="3.0" height="3.0" fill="rgb(219,219,219)"/><rect x="313.57" y="463.90" width="3.0" height="3.0" fill="rgb(242,242,242)"/><rect x="321.42" y="463.90" width="3.0" height="3.0" fill="rgb(219,219,219)"/><rect x="325.34" y="463.90" width="3.0" height="3.0" fill="rgb(219,219,219)"/><rect x="329.26" y="463.90" width="3.0" height="3.0" fill="rgb(219,219,219)"/><rect x="333.18" y="463.90" width="3.0" height="3.0" fill="rgb(189,189,189)"/><rect x="337.10" y="463.90" width="3.0" height="3.0" fill="rgb(189,189,189)"/><rect x="297.89" y="467.82" width="3.0" height="3.0" fill="rgb(242,242,242)"/><rect x="301.81" y="467.82" width="3.0" height="3.0" fill="rgb(242,242,242)"/><rect x="321.42" y="467.82" width="3.0" height="3.0" fill="rgb(242,242,242)"/><rect x="325.34" y="467.82" width="3.0" height="3.0" fill="rgb(242,242,242)"/><rect x="329.26" y="467.82" width="3.0" height="3.0" fill="rgb(219,219,219)"/><rect x="333.18" y="467.82" width="3.0" height="3.0" fill="rgb(219,219,219)"/><rect x="337.10" y="467.82" width="3.0" height="3.0" fill="rgb(219,219,219)"/><rect x="297.89" y="471.75" width="3.0" height="3.0" fill="rgb(219,219,219)"/><rect x="329.26" y="471.75" width="3.0" height="3.0" fill="rgb(242,242,242)"/><rect x="333.18" y="471.75" width="3.0" height="3.0" fill="rgb(219,219,219)"/><rect x="337.10" y="471.75" width="3.0" height="3.0" fill="rgb(219,219,219)"/><rect x="325.34" y="475.68" width="3.0" height="3.0" fill="rgb(219,219,219)"/><rect x="329.26" y="475.68" width="3.0" height="3.0" fill="rgb(219,219,219)"/><rect x="333.18" y="475.68" width="3.0" height="3.0" fill="rgb(219,219,219)"/><rect x="337.10" y="475.68" width="3.0" height="3.0" fill="rgb(242,242,242)"/><rect x="329.26" y="479.60" width="3.0" height="3.0" fill="rgb(242,242,242)"/><rect x="333.18" y="479.60" width="3.0" height="3.0" fill="rgb(242,242,242)"/><rect x="329.26" y="483.53" width="3.0" height="3.0" fill="rgb(242,242,242)"/><rect x="341.02" y="432.49" width="3.0" height="3.0" fill="rgb(231,231,231)"/><rect x="352.79" y="432.49" width="3.0" height="3.0" fill="rgb(242,242,242)"/><rect x="344.95" y="440.34" width="3.0" height="3.0" fill="rgb(242,242,242)"/><rect x="356.71" y="440.34" width="3.0" height="3.0" fill="rgb(242,242,242)"/><rect x="341.02" y="444.27" width="3.0" height="3.0" fill="rgb(242,242,242)"/><rect x="344.95" y="444.27" width="3.0" height="3.0" fill="rgb(242,242,242)"/><rect x="341.02" y="448.19" width="3.0" height="3.0" fill="rgb(242,242,242)"/><rect x="344.95" y="448.19" width="3.0" height="3.0" fill="rgb(219,219,219)"/><rect x="348.87" y="448.19" width="3.0" height="3.0" fill="rgb(219,219,219)"/><rect x="352.79" y="448.19" width="3.0" height="3.0" fill="rgb(189,189,189)"/><rect x="356.71" y="448.19" width="3.0" height="3.0" fill="rgb(219,219,219)"/><rect x="341.02" y="452.12" width="3.0" height="3.0" fill="rgb(189,189,189)"/><rect x="344.95" y="452.12" width="3.0" height="3.0" fill="rgb(154,154,154)"/><rect x="348.87" y="452.12" width="3.0" height="3.0" fill="rgb(219,219,219)"/><rect x="356.71" y="452.12" width="3.0" height="3.0" fill="rgb(242,242,242)"/><rect x="360.63" y="452.12" width="3.0" height="3.0" fill="rgb(242,242,242)"/><rect x="341.02" y="456.04" width="3.0" height="3.0" fill="rgb(219,219,219)"/><rect x="344.95" y="456.04" width="3.0" height="3.0" fill="rgb(219,219,219)"/><rect x="348.87" y="456.04" width="3.0" height="3.0" fill="rgb(219,219,219)"/><rect x="352.79" y="456.04" width="3.0" height="3.0" fill="rgb(219,219,219)"/><rect x="364.55" y="456.04" width="3.0" height="3.0" fill="rgb(189,189,189)"/><rect x="341.02" y="459.97" width="3.0" height="3.0" fill="rgb(189,189,189)"/><rect x="344.95" y="459.97" width="3.0" height="3.0" fill="rgb(219,219,219)"/><rect x="348.87" y="459.97" width="3.0" height="3.0" fill="rgb(189,189,189)"/><rect x="352.79" y="459.97" width="3.0" height="3.0" fill="rgb(242,242,242)"/><rect x="356.71" y="459.97" width="3.0" height="3.0" fill="rgb(83,83,83)"/><rect x="360.63" y="459.97" width="3.0" height="3.0" fill="rgb(242,242,242)"/><rect x="368.48" y="459.97" width="3.0" height="3.0" fill="rgb(242,242,242)"/><rect x="341.02" y="463.90" width="3.0" height="3.0" fill="rgb(154,154,154)"/><rect x="344.95" y="463.90" width="3.0" height="3.0" fill="rgb(219,219,219)"/><rect x="348.87" y="463.90" width="3.0" height="3.0" fill="rgb(219,219,219)"/><rect x="352.79" y="463.90" width="3.0" height="3.0" fill="rgb(189,189,189)"/><rect x="356.71" y="463.90" width="3.0" height="3.0" fill="rgb(242,242,242)"/><rect x="360.63" y="463.90" width="3.0" height="3.0" fill="rgb(83,83,83)"/><rect x="364.55" y="463.90" width="3.0" height="3.0" fill="rgb(242,242,242)"/><rect x="372.40" y="463.90" width="3.0" height="3.0" fill="rgb(242,242,242)"/><rect x="341.02" y="467.82" width="3.0" height="3.0" fill="rgb(50,50,50)"/><rect x="344.95" y="467.82" width="3.0" height="3.0" fill="rgb(83,83,83)"/><rect x="348.87" y="467.82" width="3.0" height="3.0" fill="rgb(189,189,189)"/><rect x="352.79" y="467.82" width="3.0" height="3.0" fill="rgb(219,219,219)"/><rect x="356.71" y="467.82" width="3.0" height="3.0" fill="rgb(219,219,219)"/><rect x="360.63" y="467.82" width="3.0" height="3.0" fill="rgb(242,242,242)"/><rect x="364.55" y="467.82" width="3.0" height="3.0" fill="rgb(189,189,189)"/><rect x="368.48" y="467.82" width="3.0" height="3.0" fill="rgb(189,189,189)"/><rect x="372.40" y="467.82" width="3.0" height="3.0" fill="rgb(189,189,189)"/><rect x="376.32" y="467.82" width="3.0" height="3.0" fill="rgb(189,189,189)"/><rect x="380.24" y="467.82" width="3.0" height="3.0" fill="rgb(242,242,242)"/><rect x="384.16" y="467.82" width="3.0" height="3.0" fill="rgb(219,219,219)"/><rect x="388.08" y="467.82" width="3.0" height="3.0" fill="rgb(242,242,242)"/><rect x="341.02" y="471.75" width="3.0" height="3.0" fill="rgb(219,219,219)"/><rect x="344.95" y="471.75" width="3.0" height="3.0" fill="rgb(154,154,154)"/><rect x="348.87" y="471.75" width="3.0" height="3.0" fill="rgb(118,118,118)"/><rect x="352.79" y="471.75" width="3.0" height="3.0" fill="rgb(242,242,242)"/><rect x="356.71" y="471.75" width="3.0" height="3.0" fill="rgb(242,242,242)"/><rect x="360.63" y="471.75" width="3.0" height="3.0" fill="rgb(219,219,219)"/><rect x="364.55" y="471.75" width="3.0" height="3.0" fill="rgb(219,219,219)"/><rect x="368.48" y="471.75" width="3.0" height="3.0" fill="rgb(219,219,219)"/><rect x="372.40" y="471.75" width="3.0" height="3.0" fill="rgb(189,189,189)"/><rect x="376.32" y="471.75" width="3.0" height="3.0" fill="rgb(242,242,242)"/><rect x="380.24" y="471.75" width="3.0" height="3.0" fill="rgb(242,242,242)"/><rect x="341.02" y="475.68" width="3.0" height="3.0" fill="rgb(219,219,219)"/><rect x="344.95" y="475.68" width="3.0" height="3.0" fill="rgb(189,189,189)"/><rect x="348.87" y="475.68" width="3.0" height="3.0" fill="rgb(219,219,219)"/><rect x="352.79" y="475.68" width="3.0" height="3.0" fill="rgb(219,219,219)"/><rect x="356.71" y="475.68" width="3.0" height="3.0" fill="rgb(83,83,83)"/><rect x="360.63" y="475.68" width="3.0" height="3.0" fill="rgb(219,219,219)"/><rect x="364.55" y="475.68" width="3.0" height="3.0" fill="rgb(242,242,242)"/><rect x="368.48" y="475.68" width="3.0" height="3.0" fill="rgb(242,242,242)"/><rect x="372.40" y="475.68" width="3.0" height="3.0" fill="rgb(219,219,219)"/><rect x="376.32" y="475.68" width="3.0" height="3.0" fill="rgb(242,242,242)"/><rect x="341.02" y="479.60" width="3.0" height="3.0" fill="rgb(242,242,242)"/><rect x="344.95" y="479.60" width="3.0" height="3.0" fill="rgb(242,242,242)"/><rect x="352.79" y="479.60" width="3.0" height="3.0" fill="rgb(189,189,189)"/><rect x="356.71" y="479.60" width="3.0" height="3.0" fill="rgb(189,189,189)"/><rect x="360.63" y="479.60" width="3.0" height="3.0" fill="rgb(219,219,219)"/><rect x="364.55" y="479.60" width="3.0" height="3.0" fill="rgb(219,219,219)"/><rect x="368.48" y="479.60" width="3.0" height="3.0" fill="rgb(219,219,219)"/><rect x="372.40" y="479.60" width="3.0" height="3.0" fill="rgb(242,242,242)"/><rect x="376.32" y="479.60" width="3.0" height="3.0" fill="rgb(219,219,219)"/><rect x="380.24" y="479.60" width="3.0" height="3.0" fill="rgb(189,189,189)"/><rect x="384.16" y="479.60" width="3.0" height="3.0" fill="rgb(242,242,242)"/><rect x="388.08" y="479.60" width="3.0" height="3.0" fill="rgb(242,242,242)"/><rect x="341.02" y="483.53" width="3.0" height="3.0" fill="rgb(242,242,242)"/><rect x="344.95" y="483.53" width="3.0" height="3.0" fill="rgb(219,219,219)"/><rect x="352.79" y="483.53" width="3.0" height="3.0" fill="rgb(242,242,242)"/><rect x="356.71" y="483.53" width="3.0" height="3.0" fill="rgb(219,219,219)"/><rect x="360.63" y="483.53" width="3.0" height="3.0" fill="rgb(219,219,219)"/><rect x="364.55" y="483.53" width="3.0" height="3.0" fill="rgb(242,242,242)"/><rect x="368.48" y="483.53" width="3.0" height="3.0" fill="rgb(242,242,242)"/><rect x="376.32" y="483.53" width="3.0" height="3.0" fill="rgb(189,189,189)"/><rect x="380.24" y="483.53" width="3.0" height="3.0" fill="rgb(219,219,219)"/><rect x="388.08" y="483.53" width="3.0" height="3.0" fill="rgb(231,231,231)"/><rect x="364.55" y="487.46" width="3.0" height="3.0" fill="rgb(242,242,242)"/><rect x="380.24" y="487.46" width="3.0" height="3.0" fill="rgb(242,242,242)"/><rect x="384.16" y="487.46" width="3.0" height="3.0" fill="rgb(219,219,219)"/><rect x="384.16" y="491.38" width="3.0" height="3.0" fill="rgb(242,242,242)"/><rect x="392.00" y="471.75" width="3.0" height="3.0" fill="rgb(219,219,219)"/><rect x="395.93" y="471.75" width="3.0" height="3.0" fill="rgb(219,219,219)"/><rect x="399.85" y="471.75" width="3.0" height="3.0" fill="rgb(219,219,219)"/><rect x="403.77" y="471.75" width="3.0" height="3.0" fill="rgb(242,242,242)"/><rect x="403.77" y="475.68" width="3.0" height="3.0" fill="rgb(219,219,219)"/><rect x="407.69" y="475.68" width="3.0" height="3.0" fill="rgb(219,219,219)"/><rect x="411.61" y="479.60" width="3.0" height="3.0" fill="rgb(219,219,219)"/><rect x="415.53" y="479.60" width="3.0" height="3.0" fill="rgb(242,242,242)"/><rect x="392.00" y="483.53" width="3.0" height="3.0" fill="rgb(219,219,219)"/><rect x="419.45" y="483.53" width="3.0" height="3.0" fill="rgb(242,242,242)"/><rect x="392.00" y="491.38" width="3.0" height="3.0" fill="rgb(242,242,242)"/><rect x="395.93" y="491.38" width="3.0" height="3.0" fill="rgb(242,242,242)"/><rect x="482.14" y="212.35" width="3.0" height="3.0" fill="rgb(219,219,219)"/><rect x="478.22" y="216.29" width="3.0" height="3.0" fill="rgb(219,219,219)"/><rect x="482.14" y="216.29" width="3.0" height="3.0" fill="rgb(242,242,242)"/><rect x="466.47" y="220.22" width="3.0" height="3.0" fill="rgb(242,242,242)"/><rect x="470.39" y="220.22" width="3.0" height="3.0" fill="rgb(242,242,242)"/><rect x="474.31" y="220.22" width="3.0" height="3.0" fill="rgb(242,242,242)"/><rect x="478.22" y="220.22" width="3.0" height="3.0" fill="rgb(189,189,189)"/><rect x="482.14" y="220.22" width="3.0" height="3.0" fill="rgb(189,189,189)"/><rect x="454.72" y="224.16" width="3.0" height="3.0" fill="rgb(242,242,242)"/><rect x="462.56" y="224.16" width="3.0" height="3.0" fill="rgb(242,242,242)"/><rect x="466.47" y="224.16" width="3.0" height="3.0" fill="rgb(219,219,219)"/><rect x="474.31" y="224.16" width="3.0" height="3.0" fill="rgb(242,242,242)"/><rect x="478.22" y="224.16" width="3.0" height="3.0" fill="rgb(189,189,189)"/><rect x="482.14" y="224.16" width="3.0" height="3.0" fill="rgb(83,83,83)"/><rect x="450.81" y="228.10" width="3.0" height="3.0" fill="rgb(242,242,242)"/><rect x="458.64" y="228.10" width="3.0" height="3.0" fill="rgb(242,242,242)"/><rect x="466.47" y="228.10" width="3.0" height="3.0" fill="rgb(242,242,242)"/><rect x="470.39" y="228.10" width="3.0" height="3.0" fill="rgb(154,154,154)"/><rect x="474.31" y="228.10" width="3.0" height="3.0" fill="rgb(154,154,154)"/><rect x="478.22" y="228.10" width="3.0" height="3.0" fill="rgb(118,118,118)"/><rect x="482.14" y="228.10" width="3.0" height="3.0" fill="rgb(189,189,189)"/><rect x="446.89" y="232.03" width="3.0" height="3.0" fill="rgb(242,242,242)"/><rect x="454.72" y="232.03" width="3.0" height="3.0" fill="rgb(219,219,219)"/><rect x="458.64" y="232.03" width="3.0" height="3.0" fill="rgb(242,242,242)"/><rect x="462.56" y="232.03" width="3.0" height="3.0" fill="rgb(219,219,219)"/><rect x="466.47" y="232.03" width="3.0" height="3.0" fill="rgb(189,189,189)"/><rect x="470.39" y="232.03" width="3.0" height="3.0" fill="rgb(118,118,118)"/><rect x="474.31" y="232.03" width="3.0" height="3.0" fill="rgb(118,118,118)"/><rect x="478.22" y="232.03" width="3.0" height="3.0" fill="rgb(50,50,50)"/><rect x="482.14" y="232.03" width="3.0" height="3.0" fill="rgb(118,118,118)"/><rect x="450.81" y="235.97" width="3.0" height="3.0" fill="rgb(189,189,189)"/><rect x="458.64" y="235.97" width="3.0" height="3.0" fill="rgb(154,154,154)"/><rect x="462.56" y="235.97" width="3.0" height="3.0" fill="rgb(219,219,219)"/><rect x="466.47" y="235.97" width="3.0" height="3.0" fill="rgb(154,154,154)"/><rect x="470.39" y="235.97" width="3.0" height="3.0" fill="rgb(154,154,154)"/><rect x="474.31" y="235.97" width="3.0" height="3.0" fill="rgb(50,50,50)"/><rect x="478.22" y="235.97" width="3.0" height="3.0" fill="rgb(83,83,83)"/><rect x="482.14" y="235.97" width="3.0" height="3.0" fill="rgb(154,154,154)"/><rect x="450.81" y="239.91" width="3.0" height="3.0" fill="rgb(242,242,242)"/><rect x="454.72" y="239.91" width="3.0" height="3.0" fill="rgb(242,242,242)"/><rect x="458.64" y="239.91" width="3.0" height="3.0" fill="rgb(219,219,219)"/><rect x="462.56" y="239.91" width="3.0" height="3.0" fill="rgb(219,219,219)"/><rect x="466.47" y="239.91" width="3.0" height="3.0" fill="rgb(83,83,83)"/><rect x="470.39" y="239.91" width="3.0" height="3.0" fill="rgb(50,50,50)"/><rect x="474.31" y="239.91" width="3.0" height="3.0" fill="rgb(154,154,154)"/><rect x="478.22" y="239.91" width="3.0" height="3.0" fill="rgb(118,118,118)"/><rect x="482.14" y="239.91" width="3.0" height="3.0" fill="rgb(189,189,189)"/><rect x="446.89" y="243.84" width="3.0" height="3.0" fill="rgb(242,242,242)"/><rect x="450.81" y="243.84" width="3.0" height="3.0" fill="rgb(189,189,189)"/><rect x="454.72" y="243.84" width="3.0" height="3.0" fill="rgb(219,219,219)"/><rect x="458.64" y="243.84" width="3.0" height="3.0" fill="rgb(189,189,189)"/><rect x="462.56" y="243.84" width="3.0" height="3.0" fill="rgb(189,189,189)"/><rect x="466.47" y="243.84" width="3.0" height="3.0" fill="rgb(219,219,219)"/><rect x="470.39" y="243.84" width="3.0" height="3.0" fill="rgb(118,118,118)"/><rect x="474.31" y="243.84" width="3.0" height="3.0" fill="rgb(189,189,189)"/><rect x="478.22" y="243.84" width="3.0" height="3.0" fill="rgb(189,189,189)"/><rect x="482.14" y="243.84" width="3.0" height="3.0" fill="rgb(219,219,219)"/><rect x="439.06" y="247.78" width="3.0" height="3.0" fill="rgb(242,242,242)"/><rect x="442.97" y="247.78" width="3.0" height="3.0" fill="rgb(242,242,242)"/><rect x="446.89" y="247.78" width="3.0" height="3.0" fill="rgb(242,242,242)"/><rect x="450.81" y="247.78" width="3.0" height="3.0" fill="rgb(242,242,242)"/><rect x="454.72" y="247.78" width="3.0" height="3.0" fill="rgb(219,219,219)"/><rect x="458.64" y="247.78" width="3.0" height="3.0" fill="rgb(219,219,219)"/><rect x="462.56" y="247.78" width="3.0" height="3.0" fill="rgb(154,154,154)"/><rect x="466.47" y="247.78" width="3.0" height="3.0" fill="rgb(219,219,219)"/><rect x="470.39" y="247.78" width="3.0" height="3.0" fill="rgb(189,189,189)"/><rect x="474.31" y="247.78" width="3.0" height="3.0" fill="rgb(189,189,189)"/><rect x="478.22" y="247.78" width="3.0" height="3.0" fill="rgb(242,242,242)"/><rect x="446.89" y="251.72" width="3.0" height="3.0" fill="rgb(219,219,219)"/><rect x="450.81" y="251.72" width="3.0" height="3.0" fill="rgb(242,242,242)"/><rect x="454.72" y="251.72" width="3.0" height="3.0" fill="rgb(219,219,219)"/><rect x="458.64" y="251.72" width="3.0" height="3.0" fill="rgb(219,219,219)"/><rect x="462.56" y="251.72" width="3.0" height="3.0" fill="rgb(118,118,118)"/><rect x="466.47" y="251.72" width="3.0" height="3.0" fill="rgb(219,219,219)"/><rect x="470.39" y="251.72" width="3.0" height="3.0" fill="rgb(219,219,219)"/><rect x="442.97" y="255.65" width="3.0" height="3.0" fill="rgb(242,242,242)"/><rect x="450.81" y="255.65" width="3.0" height="3.0" fill="rgb(219,219,219)"/><rect x="454.72" y="255.65" width="3.0" height="3.0" fill="rgb(219,219,219)"/><rect x="458.64" y="255.65" width="3.0" height="3.0" fill="rgb(242,242,242)"/><rect x="462.56" y="255.65" width="3.0" height="3.0" fill="rgb(242,242,242)"/><rect x="470.39" y="255.65" width="3.0" height="3.0" fill="rgb(242,242,242)"/><rect x="458.64" y="259.59" width="3.0" height="3.0" fill="rgb(189,189,189)"/><rect x="466.47" y="259.59" width="3.0" height="3.0" fill="rgb(219,219,219)"/><rect x="458.64" y="263.53" width="3.0" height="3.0" fill="rgb(242,242,242)"/><rect x="458.64" y="267.46" width="3.0" height="3.0" fill="rgb(242,242,242)"/><rect x="450.81" y="275.34" width="3.0" height="3.0" fill="rgb(242,242,242)"/><rect x="525.22" y="180.86" width="3.0" height="3.0" fill="rgb(242,242,242)"/><rect x="521.30" y="188.73" width="3.0" height="3.0" fill="rgb(242,242,242)"/><rect x="525.22" y="188.73" width="3.0" height="3.0" fill="rgb(242,242,242)"/><rect x="517.38" y="192.67" width="3.0" height="3.0" fill="rgb(242,242,242)"/><rect x="521.30" y="192.67" width="3.0" height="3.0" fill="rgb(189,189,189)"/><rect x="525.22" y="192.67" width="3.0" height="3.0" fill="rgb(219,219,219)"/><rect x="529.13" y="192.67" width="3.0" height="3.0" fill="rgb(219,219,219)"/><rect x="513.47" y="196.60" width="3.0" height="3.0" fill="rgb(242,242,242)"/><rect x="517.38" y="196.60" width="3.0" height="3.0" fill="rgb(189,189,189)"/><rect x="521.30" y="196.60" width="3.0" height="3.0" fill="rgb(219,219,219)"/><rect x="525.22" y="196.60" width="3.0" height="3.0" fill="rgb(219,219,219)"/><rect x="529.13" y="196.60" width="3.0" height="3.0" fill="rgb(189,189,189)"/><rect x="497.80" y="200.54" width="3.0" height="3.0" fill="rgb(242,242,242)"/><rect x="505.64" y="200.54" width="3.0" height="3.0" fill="rgb(242,242,242)"/><rect x="513.47" y="200.54" width="3.0" height="3.0" fill="rgb(189,189,189)"/><rect x="517.38" y="200.54" width="3.0" height="3.0" fill="rgb(189,189,189)"/><rect x="521.30" y="200.54" width="3.0" height="3.0" fill="rgb(219,219,219)"/><rect x="525.22" y="200.54" width="3.0" height="3.0" fill="rgb(83,83,83)"/><rect x="529.13" y="200.54" width="3.0" height="3.0" fill="rgb(189,189,189)"/><rect x="489.97" y="204.48" width="3.0" height="3.0" fill="rgb(242,242,242)"/><rect x="493.89" y="204.48" width="3.0" height="3.0" fill="rgb(242,242,242)"/><rect x="501.72" y="204.48" width="3.0" height="3.0" fill="rgb(242,242,242)"/><rect x="505.64" y="204.48" width="3.0" height="3.0" fill="rgb(219,219,219)"/><rect x="509.55" y="204.48" width="3.0" height="3.0" fill="rgb(189,189,189)"/><rect x="513.47" y="204.48" width="3.0" height="3.0" fill="rgb(219,219,219)"/><rect x="517.38" y="204.48" width="3.0" height="3.0" fill="rgb(189,189,189)"/><rect x="521.30" y="204.48" width="3.0" height="3.0" fill="rgb(189,189,189)"/><rect x="525.22" y="204.48" width="3.0" height="3.0" fill="rgb(50,50,50)"/><rect x="529.13" y="204.48" width="3.0" height="3.0" fill="rgb(189,189,189)"/><rect x="489.97" y="208.41" width="3.0" height="3.0" fill="rgb(242,242,242)"/><rect x="493.89" y="208.41" width="3.0" height="3.0" fill="rgb(242,242,242)"/><rect x="497.80" y="208.41" width="3.0" height="3.0" fill="rgb(219,219,219)"/><rect x="501.72" y="208.41" width="3.0" height="3.0" fill="rgb(219,219,219)"/><rect x="505.64" y="208.41" width="3.0" height="3.0" fill="rgb(189,189,189)"/><rect x="509.55" y="208.41" width="3.0" height="3.0" fill="rgb(189,189,189)"/><rect x="513.47" y="208.41" width="3.0" height="3.0" fill="rgb(83,83,83)"/><rect x="517.38" y="208.41" width="3.0" height="3.0" fill="rgb(154,154,154)"/><rect x="521.30" y="208.41" width="3.0" height="3.0" fill="rgb(118,118,118)"/><rect x="525.22" y="208.41" width="3.0" height="3.0" fill="rgb(189,189,189)"/><rect x="529.13" y="208.41" width="3.0" height="3.0" fill="rgb(219,219,219)"/><rect x="486.05" y="212.35" width="3.0" height="3.0" fill="rgb(242,242,242)"/><rect x="489.97" y="212.35" width="3.0" height="3.0" fill="rgb(219,219,219)"/><rect x="493.89" y="212.35" width="3.0" height="3.0" fill="rgb(189,189,189)"/><rect x="497.80" y="212.35" width="3.0" height="3.0" fill="rgb(189,189,189)"/><rect x="501.72" y="212.35" width="3.0" height="3.0" fill="rgb(154,154,154)"/><rect x="505.64" y="212.35" width="3.0" height="3.0" fill="rgb(154,154,154)"/><rect x="509.55" y="212.35" width="3.0" height="3.0" fill="rgb(154,154,154)"/><rect x="513.47" y="212.35" width="3.0" height="3.0" fill="rgb(189,189,189)"/><rect x="517.38" y="212.35" width="3.0" height="3.0" fill="rgb(154,154,154)"/><rect x="521.30" y="212.35" width="3.0" height="3.0" fill="rgb(219,219,219)"/><rect x="525.22" y="212.35" width="3.0" height="3.0" fill="rgb(242,242,242)"/><rect x="486.05" y="216.29" width="3.0" height="3.0" fill="rgb(219,219,219)"/><rect x="489.97" y="216.29" width="3.0" height="3.0" fill="rgb(189,189,189)"/><rect x="493.89" y="216.29" width="3.0" height="3.0" fill="rgb(189,189,189)"/><rect x="497.80" y="216.29" width="3.0" height="3.0" fill="rgb(189,189,189)"/><rect x="501.72" y="216.29" width="3.0" height="3.0" fill="rgb(154,154,154)"/><rect x="505.64" y="216.29" width="3.0" height="3.0" fill="rgb(189,189,189)"/><rect x="509.55" y="216.29" width="3.0" height="3.0" fill="rgb(154,154,154)"/><rect x="513.47" y="216.29" width="3.0" height="3.0" fill="rgb(189,189,189)"/><rect x="517.38" y="216.29" width="3.0" height="3.0" fill="rgb(219,219,219)"/><rect x="521.30" y="216.29" width="3.0" height="3.0" fill="rgb(242,242,242)"/><rect x="486.05" y="220.22" width="3.0" height="3.0" fill="rgb(154,154,154)"/><rect x="489.97" y="220.22" width="3.0" height="3.0" fill="rgb(154,154,154)"/><rect x="493.89" y="220.22" width="3.0" height="3.0" fill="rgb(154,154,154)"/><rect x="497.80" y="220.22" width="3.0" height="3.0" fill="rgb(118,118,118)"/><rect x="501.72" y="220.22" width="3.0" height="3.0" fill="rgb(154,154,154)"/><rect x="505.64" y="220.22" width="3.0" height="3.0" fill="rgb(118,118,118)"/><rect x="509.55" y="220.22" width="3.0" height="3.0" fill="rgb(219,219,219)"/><rect x="513.47" y="220.22" width="3.0" height="3.0" fill="rgb(242,242,242)"/><rect x="486.05" y="224.16" width="3.0" height="3.0" fill="rgb(50,50,50)"/><rect x="489.97" y="224.16" width="3.0" height="3.0" fill="rgb(154,154,154)"/><rect x="493.89" y="224.16" width="3.0" height="3.0" fill="rgb(83,83,83)"/><rect x="497.80" y="224.16" width="3.0" height="3.0" fill="rgb(83,83,83)"/><rect x="501.72" y="224.16" width="3.0" height="3.0" fill="rgb(50,50,50)"/><rect x="505.64" y="224.16" width="3.0" height="3.0" fill="rgb(219,219,219)"/><rect x="509.55" y="224.16" width="3.0" height="3.0" fill="rgb(242,242,242)"/><rect x="486.05" y="228.10" width="3.0" height="3.0" fill="rgb(154,154,154)"/><rect x="489.97" y="228.10" width="3.0" height="3.0" fill="rgb(83,83,83)"/><rect x="493.89" y="228.10" width="3.0" height="3.0" fill="rgb(118,118,118)"/><rect x="497.80" y="228.10" width="3.0" height="3.0" fill="rgb(219,219,219)"/><rect x="501.72" y="228.10" width="3.0" height="3.0" fill="rgb(219,219,219)"/><rect x="486.05" y="232.03" width="3.0" height="3.0" fill="rgb(83,83,83)"/><rect x="489.97" y="232.03" width="3.0" height="3.0" fill="rgb(189,189,189)"/><rect x="493.89" y="232.03" width="3.0" height="3.0" fill="rgb(219,219,219)"/><rect x="486.05" y="235.97" width="3.0" height="3.0" fill="rgb(154,154,154)"/><rect x="489.97" y="235.97" width="3.0" height="3.0" fill="rgb(219,219,219)"/><rect x="493.89" y="235.97" width="3.0" height="3.0" fill="rgb(242,242,242)"/><rect x="486.05" y="239.91" width="3.0" height="3.0" fill="rgb(242,242,242)"/><rect x="489.97" y="239.91" width="3.0" height="3.0" fill="rgb(242,242,242)"/><rect x="486.05" y="243.84" width="3.0" height="3.0" fill="rgb(219,219,219)"/><rect x="489.97" y="243.84" width="3.0" height="3.0" fill="rgb(219,219,219)"/><rect x="489.97" y="247.78" width="3.0" height="3.0" fill="rgb(242,242,242)"/><rect x="576.13" y="157.24" width="3.0" height="3.0" fill="rgb(231,231,231)"/><rect x="572.21" y="161.17" width="3.0" height="3.0" fill="rgb(242,242,242)"/><rect x="576.13" y="161.17" width="3.0" height="3.0" fill="rgb(204,204,204)"/><rect x="560.46" y="165.11" width="3.0" height="3.0" fill="rgb(250,250,250)"/><rect x="564.38" y="165.11" width="3.0" height="3.0" fill="rgb(250,250,250)"/><rect x="568.30" y="165.11" width="3.0" height="3.0" fill="rgb(204,204,204)"/><rect x="572.21" y="165.11" width="3.0" height="3.0" fill="rgb(231,231,231)"/><rect x="576.13" y="165.11" width="3.0" height="3.0" fill="rgb(250,250,250)"/><rect x="552.63" y="169.05" width="3.0" height="3.0" fill="rgb(242,242,242)"/><rect x="556.55" y="169.05" width="3.0" height="3.0" fill="rgb(242,242,242)"/><rect x="560.46" y="169.05" width="3.0" height="3.0" fill="rgb(250,250,250)"/><rect x="564.38" y="169.05" width="3.0" height="3.0" fill="rgb(100,100,100)"/><rect x="568.30" y="169.05" width="3.0" height="3.0" fill="rgb(204,204,204)"/><rect x="536.97" y="172.98" width="3.0" height="3.0" fill="rgb(242,242,242)"/><rect x="540.88" y="172.98" width="3.0" height="3.0" fill="rgb(242,242,242)"/><rect x="548.72" y="172.98" width="3.0" height="3.0" fill="rgb(242,242,242)"/><rect x="556.55" y="172.98" width="3.0" height="3.0" fill="rgb(219,219,219)"/><rect x="560.46" y="172.98" width="3.0" height="3.0" fill="rgb(204,204,204)"/><rect x="564.38" y="172.98" width="3.0" height="3.0" fill="rgb(204,204,204)"/><rect x="568.30" y="172.98" width="3.0" height="3.0" fill="rgb(250,250,250)"/><rect x="536.97" y="176.92" width="3.0" height="3.0" fill="rgb(242,242,242)"/><rect x="544.80" y="176.92" width="3.0" height="3.0" fill="rgb(242,242,242)"/><rect x="548.72" y="176.92" width="3.0" height="3.0" fill="rgb(219,219,219)"/><rect x="552.63" y="176.92" width="3.0" height="3.0" fill="rgb(189,189,189)"/><rect x="556.55" y="176.92" width="3.0" height="3.0" fill="rgb(242,242,242)"/><rect x="560.46" y="176.92" width="3.0" height="3.0" fill="rgb(231,231,231)"/><rect x="533.05" y="180.86" width="3.0" height="3.0" fill="rgb(242,242,242)"/><rect x="536.97" y="180.86" width="3.0" height="3.0" fill="rgb(242,242,242)"/><rect x="540.88" y="180.86" width="3.0" height="3.0" fill="rgb(242,242,242)"/><rect x="544.80" y="180.86" width="3.0" height="3.0" fill="rgb(189,189,189)"/><rect x="548.72" y="180.86" width="3.0" height="3.0" fill="rgb(189,189,189)"/><rect x="552.63" y="180.86" width="3.0" height="3.0" fill="rgb(219,219,219)"/><rect x="533.05" y="184.79" width="3.0" height="3.0" fill="rgb(242,242,242)"/><rect x="536.97" y="184.79" width="3.0" height="3.0" fill="rgb(219,219,219)"/><rect x="540.88" y="184.79" width="3.0" height="3.0" fill="rgb(219,219,219)"/><rect x="544.80" y="184.79" width="3.0" height="3.0" fill="rgb(219,219,219)"/><rect x="548.72" y="184.79" width="3.0" height="3.0" fill="rgb(189,189,189)"/><rect x="552.63" y="184.79" width="3.0" height="3.0" fill="rgb(219,219,219)"/><rect x="533.05" y="188.73" width="3.0" height="3.0" fill="rgb(242,242,242)"/><rect x="536.97" y="188.73" width="3.0" height="3.0" fill="rgb(154,154,154)"/><rect x="540.88" y="188.73" width="3.0" height="3.0" fill="rgb(189,189,189)"/><rect x="544.80" y="188.73" width="3.0" height="3.0" fill="rgb(219,219,219)"/><rect x="548.72" y="188.73" width="3.0" height="3.0" fill="rgb(50,50,50)"/><rect x="552.63" y="188.73" width="3.0" height="3.0" fill="rgb(219,219,219)"/><rect x="533.05" y="192.67" width="3.0" height="3.0" fill="rgb(219,219,219)"/><rect x="536.97" y="192.67" width="3.0" height="3.0" fill="rgb(83,83,83)"/><rect x="540.88" y="192.67" width="3.0" height="3.0" fill="rgb(219,219,219)"/><rect x="544.80" y="192.67" width="3.0" height="3.0" fill="rgb(189,189,189)"/><rect x="548.72" y="192.67" width="3.0" height="3.0" fill="rgb(219,219,219)"/><rect x="533.05" y="196.60" width="3.0" height="3.0" fill="rgb(189,189,189)"/><rect x="536.97" y="196.60" width="3.0" height="3.0" fill="rgb(219,219,219)"/><rect x="540.88" y="196.60" width="3.0" height="3.0" fill="rgb(189,189,189)"/><rect x="544.80" y="196.60" width="3.0" height="3.0" fill="rgb(242,242,242)"/><rect x="533.05" y="200.54" width="3.0" height="3.0" fill="rgb(83,83,83)"/><rect x="536.97" y="200.54" width="3.0" height="3.0" fill="rgb(189,189,189)"/><rect x="533.05" y="204.48" width="3.0" height="3.0" fill="rgb(219,219,219)"/><rect x="536.97" y="204.48" width="3.0" height="3.0" fill="rgb(242,242,242)"/><rect x="533.05" y="208.41" width="3.0" height="3.0" fill="rgb(242,242,242)"/><rect x="615.29" y="125.74" width="3.0" height="3.0" fill="rgb(242,242,242)"/><rect x="607.46" y="129.68" width="3.0" height="3.0" fill="rgb(242,242,242)"/><rect x="611.38" y="129.68" width="3.0" height="3.0" fill="rgb(242,242,242)"/><rect x="603.54" y="133.62" width="3.0" height="3.0" fill="rgb(231,231,231)"/><rect x="599.63" y="137.55" width="3.0" height="3.0" fill="rgb(219,219,219)"/><rect x="595.71" y="141.49" width="3.0" height="3.0" fill="rgb(219,219,219)"/><rect x="587.88" y="145.43" width="3.0" height="3.0" fill="rgb(242,242,242)"/><rect x="591.79" y="145.43" width="3.0" height="3.0" fill="rgb(219,219,219)"/><rect x="583.96" y="149.36" width="3.0" height="3.0" fill="rgb(242,242,242)"/><rect x="587.88" y="149.36" width="3.0" height="3.0" fill="rgb(204,204,204)"/><rect x="583.96" y="153.30" width="3.0" height="3.0" fill="rgb(204,204,204)"/><rect x="580.05" y="157.24" width="3.0" height="3.0" fill="rgb(219,219,219)"/><rect x="580.05" y="161.17" width="3.0" height="3.0" fill="rgb(250,250,250)"/><rect x="446.89" y="353.96" width="3.0" height="3.0" fill="rgb(242,242,242)"/><rect x="450.81" y="353.96" width="3.0" height="3.0" fill="rgb(242,242,242)"/><rect x="454.72" y="353.96" width="3.0" height="3.0" fill="rgb(242,242,242)"/><rect x="450.81" y="357.88" width="3.0" height="3.0" fill="rgb(242,242,242)"/><rect x="454.72" y="365.73" width="3.0" height="3.0" fill="rgb(242,242,242)"/><rect x="458.64" y="365.73" width="3.0" height="3.0" fill="rgb(242,242,242)"/><rect x="450.81" y="369.66" width="3.0" height="3.0" fill="rgb(242,242,242)"/><rect x="454.72" y="369.66" width="3.0" height="3.0" fill="rgb(219,219,219)"/><rect x="462.56" y="369.66" width="3.0" height="3.0" fill="rgb(242,242,242)"/><rect x="450.81" y="373.59" width="3.0" height="3.0" fill="rgb(219,219,219)"/><rect x="466.47" y="373.59" width="3.0" height="3.0" fill="rgb(219,219,219)"/><rect x="470.39" y="373.59" width="3.0" height="3.0" fill="rgb(242,242,242)"/><rect x="442.97" y="377.51" width="3.0" height="3.0" fill="rgb(242,242,242)"/><rect x="458.64" y="377.51" width="3.0" height="3.0" fill="rgb(242,242,242)"/><rect x="462.56" y="377.51" width="3.0" height="3.0" fill="rgb(242,242,242)"/><rect x="466.47" y="377.51" width="3.0" height="3.0" fill="rgb(242,242,242)"/><rect x="474.31" y="377.51" width="3.0" height="3.0" fill="rgb(242,242,242)"/><rect x="478.22" y="377.51" width="3.0" height="3.0" fill="rgb(242,242,242)"/><rect x="446.89" y="381.44" width="3.0" height="3.0" fill="rgb(242,242,242)"/><rect x="454.72" y="381.44" width="3.0" height="3.0" fill="rgb(242,242,242)"/><rect x="458.64" y="381.44" width="3.0" height="3.0" fill="rgb(242,242,242)"/><rect x="446.89" y="385.37" width="3.0" height="3.0" fill="rgb(242,242,242)"/><rect x="450.81" y="385.37" width="3.0" height="3.0" fill="rgb(219,219,219)"/><rect x="458.64" y="385.37" width="3.0" height="3.0" fill="rgb(242,242,242)"/><rect x="462.56" y="385.37" width="3.0" height="3.0" fill="rgb(219,219,219)"/><rect x="466.47" y="385.37" width="3.0" height="3.0" fill="rgb(242,242,242)"/><rect x="478.22" y="385.37" width="3.0" height="3.0" fill="rgb(242,242,242)"/><rect x="458.64" y="389.29" width="3.0" height="3.0" fill="rgb(189,189,189)"/><rect x="462.56" y="389.29" width="3.0" height="3.0" fill="rgb(242,242,242)"/><rect x="470.39" y="389.29" width="3.0" height="3.0" fill="rgb(219,219,219)"/><rect x="478.22" y="389.29" width="3.0" height="3.0" fill="rgb(219,219,219)"/><rect x="482.14" y="389.29" width="3.0" height="3.0" fill="rgb(250,250,250)"/><rect x="442.97" y="393.22" width="3.0" height="3.0" fill="rgb(242,242,242)"/><rect x="446.89" y="393.22" width="3.0" height="3.0" fill="rgb(219,219,219)"/><rect x="450.81" y="393.22" width="3.0" height="3.0" fill="rgb(219,219,219)"/><rect x="458.64" y="393.22" width="3.0" height="3.0" fill="rgb(219,219,219)"/><rect x="470.39" y="393.22" width="3.0" height="3.0" fill="rgb(219,219,219)"/><rect x="474.31" y="393.22" width="3.0" height="3.0" fill="rgb(242,242,242)"/><rect x="478.22" y="393.22" width="3.0" height="3.0" fill="rgb(242,242,242)"/><rect x="446.89" y="397.15" width="3.0" height="3.0" fill="rgb(242,242,242)"/><rect x="462.56" y="397.15" width="3.0" height="3.0" fill="rgb(219,219,219)"/><rect x="466.47" y="397.15" width="3.0" height="3.0" fill="rgb(219,219,219)"/><rect x="470.39" y="397.15" width="3.0" height="3.0" fill="rgb(189,189,189)"/><rect x="474.31" y="397.15" width="3.0" height="3.0" fill="rgb(219,219,219)"/><rect x="478.22" y="397.15" width="3.0" height="3.0" fill="rgb(231,231,231)"/><rect x="482.14" y="397.15" width="3.0" height="3.0" fill="rgb(231,231,231)"/><rect x="458.64" y="401.07" width="3.0" height="3.0" fill="rgb(242,242,242)"/><rect x="462.56" y="401.07" width="3.0" height="3.0" fill="rgb(219,219,219)"/><rect x="466.47" y="401.07" width="3.0" height="3.0" fill="rgb(219,219,219)"/><rect x="470.39" y="401.07" width="3.0" height="3.0" fill="rgb(219,219,219)"/><rect x="474.31" y="401.07" width="3.0" height="3.0" fill="rgb(219,219,219)"/><rect x="478.22" y="401.07" width="3.0" height="3.0" fill="rgb(204,204,204)"/><rect x="482.14" y="401.07" width="3.0" height="3.0" fill="rgb(219,219,219)"/><rect x="454.72" y="405.00" width="3.0" height="3.0" fill="rgb(242,242,242)"/><rect x="458.64" y="405.00" width="3.0" height="3.0" fill="rgb(242,242,242)"/><rect x="462.56" y="405.00" width="3.0" height="3.0" fill="rgb(219,219,219)"/><rect x="466.47" y="405.00" width="3.0" height="3.0" fill="rgb(189,189,189)"/><rect x="470.39" y="405.00" width="3.0" height="3.0" fill="rgb(118,118,118)"/><rect x="474.31" y="405.00" width="3.0" height="3.0" fill="rgb(189,189,189)"/><rect x="478.22" y="405.00" width="3.0" height="3.0" fill="rgb(219,219,219)"/><rect x="482.14" y="405.00" width="3.0" height="3.0" fill="rgb(204,204,204)"/><rect x="458.64" y="408.93" width="3.0" height="3.0" fill="rgb(219,219,219)"/><rect x="462.56" y="408.93" width="3.0" height="3.0" fill="rgb(242,242,242)"/><rect x="466.47" y="408.93" width="3.0" height="3.0" fill="rgb(189,189,189)"/><rect x="470.39" y="408.93" width="3.0" height="3.0" fill="rgb(189,189,189)"/><rect x="474.31" y="408.93" width="3.0" height="3.0" fill="rgb(154,154,154)"/><rect x="478.22" y="408.93" width="3.0" height="3.0" fill="rgb(189,189,189)"/><rect x="482.14" y="408.93" width="3.0" height="3.0" fill="rgb(189,189,189)"/><rect x="458.64" y="412.85" width="3.0" height="3.0" fill="rgb(242,242,242)"/><rect x="462.56" y="412.85" width="3.0" height="3.0" fill="rgb(219,219,219)"/><rect x="466.47" y="412.85" width="3.0" height="3.0" fill="rgb(154,154,154)"/><rect x="470.39" y="412.85" width="3.0" height="3.0" fill="rgb(189,189,189)"/><rect x="474.31" y="412.85" width="3.0" height="3.0" fill="rgb(189,189,189)"/><rect x="478.22" y="412.85" width="3.0" height="3.0" fill="rgb(204,204,204)"/><rect x="482.14" y="412.85" width="3.0" height="3.0" fill="rgb(219,219,219)"/><rect x="462.56" y="416.78" width="3.0" height="3.0" fill="rgb(219,219,219)"/><rect x="466.47" y="416.78" width="3.0" height="3.0" fill="rgb(219,219,219)"/><rect x="470.39" y="416.78" width="3.0" height="3.0" fill="rgb(189,189,189)"/><rect x="474.31" y="416.78" width="3.0" height="3.0" fill="rgb(189,189,189)"/><rect x="478.22" y="416.78" width="3.0" height="3.0" fill="rgb(172,172,172)"/><rect x="482.14" y="416.78" width="3.0" height="3.0" fill="rgb(189,189,189)"/><rect x="462.56" y="420.71" width="3.0" height="3.0" fill="rgb(189,189,189)"/><rect x="466.47" y="420.71" width="3.0" height="3.0" fill="rgb(189,189,189)"/><rect x="470.39" y="420.71" width="3.0" height="3.0" fill="rgb(118,118,118)"/><rect x="474.31" y="420.71" width="3.0" height="3.0" fill="rgb(189,189,189)"/><rect x="478.22" y="420.71" width="3.0" height="3.0" fill="rgb(189,189,189)"/><rect x="482.14" y="420.71" width="3.0" height="3.0" fill="rgb(172,172,172)"/><rect x="462.56" y="424.63" width="3.0" height="3.0" fill="rgb(219,219,219)"/><rect x="466.47" y="424.63" width="3.0" height="3.0" fill="rgb(189,189,189)"/><rect x="470.39" y="424.63" width="3.0" height="3.0" fill="rgb(154,154,154)"/><rect x="474.31" y="424.63" width="3.0" height="3.0" fill="rgb(189,189,189)"/><rect x="478.22" y="424.63" width="3.0" height="3.0" fill="rgb(189,189,189)"/><rect x="482.14" y="424.63" width="3.0" height="3.0" fill="rgb(189,189,189)"/><rect x="462.56" y="428.56" width="3.0" height="3.0" fill="rgb(189,189,189)"/><rect x="466.47" y="428.56" width="3.0" height="3.0" fill="rgb(242,242,242)"/><rect x="470.39" y="428.56" width="3.0" height="3.0" fill="rgb(219,219,219)"/><rect x="474.31" y="428.56" width="3.0" height="3.0" fill="rgb(189,189,189)"/><rect x="478.22" y="428.56" width="3.0" height="3.0" fill="rgb(172,172,172)"/><rect x="482.14" y="428.56" width="3.0" height="3.0" fill="rgb(189,189,189)"/><rect x="462.56" y="432.49" width="3.0" height="3.0" fill="rgb(242,242,242)"/><rect x="466.47" y="432.49" width="3.0" height="3.0" fill="rgb(219,219,219)"/><rect x="470.39" y="432.49" width="3.0" height="3.0" fill="rgb(219,219,219)"/><rect x="474.31" y="432.49" width="3.0" height="3.0" fill="rgb(219,219,219)"/><rect x="478.22" y="432.49" width="3.0" height="3.0" fill="rgb(189,189,189)"/><rect x="482.14" y="432.49" width="3.0" height="3.0" fill="rgb(204,204,204)"/><rect x="458.64" y="436.41" width="3.0" height="3.0" fill="rgb(242,242,242)"/><rect x="470.39" y="436.41" width="3.0" height="3.0" fill="rgb(219,219,219)"/><rect x="474.31" y="436.41" width="3.0" height="3.0" fill="rgb(189,189,189)"/><rect x="458.64" y="440.34" width="3.0" height="3.0" fill="rgb(219,219,219)"/><rect x="466.47" y="440.34" width="3.0" height="3.0" fill="rgb(242,242,242)"/><rect x="470.39" y="440.34" width="3.0" height="3.0" fill="rgb(189,189,189)"/><rect x="474.31" y="440.34" width="3.0" height="3.0" fill="rgb(219,219,219)"/><rect x="470.39" y="444.27" width="3.0" height="3.0" fill="rgb(242,242,242)"/><rect x="450.81" y="448.19" width="3.0" height="3.0" fill="rgb(242,242,242)"/><rect x="458.64" y="448.19" width="3.0" height="3.0" fill="rgb(242,242,242)"/><rect x="474.31" y="448.19" width="3.0" height="3.0" fill="rgb(219,219,219)"/><rect x="466.47" y="452.12" width="3.0" height="3.0" fill="rgb(219,219,219)"/><rect x="470.39" y="452.12" width="3.0" height="3.0" fill="rgb(242,242,242)"/><rect x="474.31" y="452.12" width="3.0" height="3.0" fill="rgb(219,219,219)"/><rect x="486.05" y="389.29" width="3.0" height="3.0" fill="rgb(242,242,242)"/><rect x="489.97" y="389.29" width="3.0" height="3.0" fill="rgb(242,242,242)"/><rect x="486.05" y="393.22" width="3.0" height="3.0" fill="rgb(242,242,242)"/><rect x="489.97" y="393.22" width="3.0" height="3.0" fill="rgb(219,219,219)"/><rect x="489.97" y="397.15" width="3.0" height="3.0" fill="rgb(242,242,242)"/><rect x="493.89" y="397.15" width="3.0" height="3.0" fill="rgb(242,242,242)"/><rect x="497.80" y="397.15" width="3.0" height="3.0" fill="rgb(242,242,242)"/><rect x="489.97" y="401.07" width="3.0" height="3.0" fill="rgb(242,242,242)"/><rect x="493.89" y="401.07" width="3.0" height="3.0" fill="rgb(242,242,242)"/><rect x="486.05" y="405.00" width="3.0" height="3.0" fill="rgb(219,219,219)"/><rect x="489.97" y="405.00" width="3.0" height="3.0" fill="rgb(219,219,219)"/><rect x="493.89" y="405.00" width="3.0" height="3.0" fill="rgb(242,242,242)"/><rect x="497.80" y="405.00" width="3.0" height="3.0" fill="rgb(242,242,242)"/><rect x="501.72" y="405.00" width="3.0" height="3.0" fill="rgb(242,242,242)"/><rect x="486.05" y="408.93" width="3.0" height="3.0" fill="rgb(219,219,219)"/><rect x="489.97" y="408.93" width="3.0" height="3.0" fill="rgb(242,242,242)"/><rect x="493.89" y="408.93" width="3.0" height="3.0" fill="rgb(242,242,242)"/><rect x="497.80" y="408.93" width="3.0" height="3.0" fill="rgb(242,242,242)"/><rect x="505.64" y="408.93" width="3.0" height="3.0" fill="rgb(242,242,242)"/><rect x="486.05" y="412.85" width="3.0" height="3.0" fill="rgb(219,219,219)"/><rect x="489.97" y="412.85" width="3.0" height="3.0" fill="rgb(219,219,219)"/><rect x="493.89" y="412.85" width="3.0" height="3.0" fill="rgb(219,219,219)"/><rect x="497.80" y="412.85" width="3.0" height="3.0" fill="rgb(219,219,219)"/><rect x="509.55" y="412.85" width="3.0" height="3.0" fill="rgb(242,242,242)"/><rect x="521.30" y="412.85" width="3.0" height="3.0" fill="rgb(242,242,242)"/><rect x="486.05" y="416.78" width="3.0" height="3.0" fill="rgb(189,189,189)"/><rect x="489.97" y="416.78" width="3.0" height="3.0" fill="rgb(189,189,189)"/><rect x="493.89" y="416.78" width="3.0" height="3.0" fill="rgb(189,189,189)"/><rect x="497.80" y="416.78" width="3.0" height="3.0" fill="rgb(189,189,189)"/><rect x="501.72" y="416.78" width="3.0" height="3.0" fill="rgb(219,219,219)"/><rect x="509.55" y="416.78" width="3.0" height="3.0" fill="rgb(242,242,242)"/><rect x="525.22" y="416.78" width="3.0" height="3.0" fill="rgb(250,250,250)"/><rect x="529.13" y="416.78" width="3.0" height="3.0" fill="rgb(250,250,250)"/><rect x="486.05" y="420.71" width="3.0" height="3.0" fill="rgb(189,189,189)"/><rect x="489.97" y="420.71" width="3.0" height="3.0" fill="rgb(219,219,219)"/><rect x="493.89" y="420.71" width="3.0" height="3.0" fill="rgb(219,219,219)"/><rect x="497.80" y="420.71" width="3.0" height="3.0" fill="rgb(219,219,219)"/><rect x="501.72" y="420.71" width="3.0" height="3.0" fill="rgb(219,219,219)"/><rect x="505.64" y="420.71" width="3.0" height="3.0" fill="rgb(189,189,189)"/><rect x="509.55" y="420.71" width="3.0" height="3.0" fill="rgb(219,219,219)"/><rect x="513.47" y="420.71" width="3.0" height="3.0" fill="rgb(242,242,242)"/><rect x="517.38" y="420.71" width="3.0" height="3.0" fill="rgb(219,219,219)"/><rect x="525.22" y="420.71" width="3.0" height="3.0" fill="rgb(250,250,250)"/><rect x="529.13" y="420.71" width="3.0" height="3.0" fill="rgb(250,250,250)"/><rect x="486.05" y="424.63" width="3.0" height="3.0" fill="rgb(154,154,154)"/><rect x="489.97" y="424.63" width="3.0" height="3.0" fill="rgb(189,189,189)"/><rect x="493.89" y="424.63" width="3.0" height="3.0" fill="rgb(154,154,154)"/><rect x="497.80" y="424.63" width="3.0" height="3.0" fill="rgb(219,219,219)"/><rect x="501.72" y="424.63" width="3.0" height="3.0" fill="rgb(219,219,219)"/><rect x="505.64" y="424.63" width="3.0" height="3.0" fill="rgb(219,219,219)"/><rect x="509.55" y="424.63" width="3.0" height="3.0" fill="rgb(219,219,219)"/><rect x="513.47" y="424.63" width="3.0" height="3.0" fill="rgb(219,219,219)"/><rect x="517.38" y="424.63" width="3.0" height="3.0" fill="rgb(242,242,242)"/><rect x="521.30" y="424.63" width="3.0" height="3.0" fill="rgb(242,242,242)"/><rect x="486.05" y="428.56" width="3.0" height="3.0" fill="rgb(189,189,189)"/><rect x="489.97" y="428.56" width="3.0" height="3.0" fill="rgb(189,189,189)"/><rect x="493.89" y="428.56" width="3.0" height="3.0" fill="rgb(189,189,189)"/><rect x="497.80" y="428.56" width="3.0" height="3.0" fill="rgb(189,189,189)"/><rect x="501.72" y="428.56" width="3.0" height="3.0" fill="rgb(189,189,189)"/><rect x="505.64" y="428.56" width="3.0" height="3.0" fill="rgb(189,189,189)"/><rect x="509.55" y="428.56" width="3.0" height="3.0" fill="rgb(219,219,219)"/><rect x="513.47" y="428.56" width="3.0" height="3.0" fill="rgb(219,219,219)"/><rect x="517.38" y="428.56" width="3.0" height="3.0" fill="rgb(219,219,219)"/><rect x="521.30" y="428.56" width="3.0" height="3.0" fill="rgb(189,189,189)"/><rect x="525.22" y="428.56" width="3.0" height="3.0" fill="rgb(242,242,242)"/><rect x="486.05" y="432.49" width="3.0" height="3.0" fill="rgb(189,189,189)"/><rect x="489.97" y="432.49" width="3.0" height="3.0" fill="rgb(219,219,219)"/><rect x="493.89" y="432.49" width="3.0" height="3.0" fill="rgb(189,189,189)"/><rect x="497.80" y="432.49" width="3.0" height="3.0" fill="rgb(189,189,189)"/><rect x="501.72" y="432.49" width="3.0" height="3.0" fill="rgb(189,189,189)"/><rect x="505.64" y="432.49" width="3.0" height="3.0" fill="rgb(189,189,189)"/><rect x="509.55" y="432.49" width="3.0" height="3.0" fill="rgb(189,189,189)"/><rect x="513.47" y="432.49" width="3.0" height="3.0" fill="rgb(219,219,219)"/><rect x="517.38" y="432.49" width="3.0" height="3.0" fill="rgb(219,219,219)"/><rect x="521.30" y="432.49" width="3.0" height="3.0" fill="rgb(219,219,219)"/><rect x="525.22" y="432.49" width="3.0" height="3.0" fill="rgb(242,242,242)"/><rect x="478.22" y="436.41" width="3.0" height="3.0" fill="rgb(219,219,219)"/><rect x="482.14" y="436.41" width="3.0" height="3.0" fill="rgb(219,219,219)"/><rect x="486.05" y="436.41" width="3.0" height="3.0" fill="rgb(219,219,219)"/><rect x="489.97" y="436.41" width="3.0" height="3.0" fill="rgb(189,189,189)"/><rect x="493.89" y="436.41" width="3.0" height="3.0" fill="rgb(189,189,189)"/><rect x="497.80" y="436.41" width="3.0" height="3.0" fill="rgb(189,189,189)"/><rect x="501.72" y="436.41" width="3.0" height="3.0" fill="rgb(189,189,189)"/><rect x="505.64" y="436.41" width="3.0" height="3.0" fill="rgb(189,189,189)"/><rect x="509.55" y="436.41" width="3.0" height="3.0" fill="rgb(219,219,219)"/><rect x="513.47" y="436.41" width="3.0" height="3.0" fill="rgb(189,189,189)"/><rect x="517.38" y="436.41" width="3.0" height="3.0" fill="rgb(219,219,219)"/><rect x="521.30" y="436.41" width="3.0" height="3.0" fill="rgb(219,219,219)"/><rect x="525.22" y="436.41" width="3.0" height="3.0" fill="rgb(219,219,219)"/><rect x="529.13" y="436.41" width="3.0" height="3.0" fill="rgb(219,219,219)"/><rect x="482.14" y="440.34" width="3.0" height="3.0" fill="rgb(219,219,219)"/><rect x="486.05" y="440.34" width="3.0" height="3.0" fill="rgb(189,189,189)"/><rect x="489.97" y="440.34" width="3.0" height="3.0" fill="rgb(189,189,189)"/><rect x="493.89" y="440.34" width="3.0" height="3.0" fill="rgb(189,189,189)"/><rect x="497.80" y="440.34" width="3.0" height="3.0" fill="rgb(189,189,189)"/><rect x="501.72" y="440.34" width="3.0" height="3.0" fill="rgb(189,189,189)"/><rect x="505.64" y="440.34" width="3.0" height="3.0" fill="rgb(189,189,189)"/><rect x="509.55" y="440.34" width="3.0" height="3.0" fill="rgb(189,189,189)"/><rect x="513.47" y="440.34" width="3.0" height="3.0" fill="rgb(219,219,219)"/><rect x="517.38" y="440.34" width="3.0" height="3.0" fill="rgb(219,219,219)"/><rect x="521.30" y="440.34" width="3.0" height="3.0" fill="rgb(219,219,219)"/><rect x="525.22" y="440.34" width="3.0" height="3.0" fill="rgb(219,219,219)"/><rect x="529.13" y="440.34" width="3.0" height="3.0" fill="rgb(219,219,219)"/><rect x="478.22" y="444.27" width="3.0" height="3.0" fill="rgb(242,242,242)"/><rect x="482.14" y="444.27" width="3.0" height="3.0" fill="rgb(242,242,242)"/><rect x="486.05" y="444.27" width="3.0" height="3.0" fill="rgb(219,219,219)"/><rect x="489.97" y="444.27" width="3.0" height="3.0" fill="rgb(219,219,219)"/><rect x="493.89" y="444.27" width="3.0" height="3.0" fill="rgb(219,219,219)"/><rect x="497.80" y="444.27" width="3.0" height="3.0" fill="rgb(189,189,189)"/><rect x="501.72" y="444.27" width="3.0" height="3.0" fill="rgb(189,189,189)"/><rect x="505.64" y="444.27" width="3.0" height="3.0" fill="rgb(219,219,219)"/><rect x="509.55" y="444.27" width="3.0" height="3.0" fill="rgb(189,189,189)"/><rect x="513.47" y="444.27" width="3.0" height="3.0" fill="rgb(189,189,189)"/><rect x="517.38" y="444.27" width="3.0" height="3.0" fill="rgb(219,219,219)"/><rect x="521.30" y="444.27" width="3.0" height="3.0" fill="rgb(219,219,219)"/><rect x="525.22" y="444.27" width="3.0" height="3.0" fill="rgb(242,242,242)"/><rect x="529.13" y="444.27" width="3.0" height="3.0" fill="rgb(242,242,242)"/><rect x="478.22" y="448.19" width="3.0" height="3.0" fill="rgb(219,219,219)"/><rect x="482.14" y="448.19" width="3.0" height="3.0" fill="rgb(242,242,242)"/><rect x="486.05" y="448.19" width="3.0" height="3.0" fill="rgb(242,242,242)"/><rect x="489.97" y="448.19" width="3.0" height="3.0" fill="rgb(219,219,219)"/><rect x="493.89" y="448.19" width="3.0" height="3.0" fill="rgb(219,219,219)"/><rect x="497.80" y="448.19" width="3.0" height="3.0" fill="rgb(219,219,219)"/><rect x="501.72" y="448.19" width="3.0" height="3.0" fill="rgb(118,118,118)"/><rect x="505.64" y="448.19" width="3.0" height="3.0" fill="rgb(189,189,189)"/><rect x="509.55" y="448.19" width="3.0" height="3.0" fill="rgb(189,189,189)"/><rect x="513.47" y="448.19" width="3.0" height="3.0" fill="rgb(219,219,219)"/><rect x="517.38" y="448.19" width="3.0" height="3.0" fill="rgb(189,189,189)"/><rect x="521.30" y="448.19" width="3.0" height="3.0" fill="rgb(189,189,189)"/><rect x="525.22" y="448.19" width="3.0" height="3.0" fill="rgb(219,219,219)"/><rect x="529.13" y="448.19" width="3.0" height="3.0" fill="rgb(219,219,219)"/><rect x="482.14" y="452.12" width="3.0" height="3.0" fill="rgb(242,242,242)"/><rect x="489.97" y="452.12" width="3.0" height="3.0" fill="rgb(242,242,242)"/><rect x="493.89" y="452.12" width="3.0" height="3.0" fill="rgb(242,242,242)"/><rect x="497.80" y="452.12" width="3.0" height="3.0" fill="rgb(219,219,219)"/><rect x="501.72" y="452.12" width="3.0" height="3.0" fill="rgb(219,219,219)"/><rect x="505.64" y="452.12" width="3.0" height="3.0" fill="rgb(219,219,219)"/><rect x="509.55" y="452.12" width="3.0" height="3.0" fill="rgb(219,219,219)"/><rect x="513.47" y="452.12" width="3.0" height="3.0" fill="rgb(219,219,219)"/><rect x="517.38" y="452.12" width="3.0" height="3.0" fill="rgb(219,219,219)"/><rect x="521.30" y="452.12" width="3.0" height="3.0" fill="rgb(219,219,219)"/><rect x="525.22" y="452.12" width="3.0" height="3.0" fill="rgb(83,83,83)"/><rect x="529.13" y="452.12" width="3.0" height="3.0" fill="rgb(189,189,189)"/><rect x="486.05" y="456.04" width="3.0" height="3.0" fill="rgb(242,242,242)"/><rect x="489.97" y="456.04" width="3.0" height="3.0" fill="rgb(242,242,242)"/><rect x="493.89" y="456.04" width="3.0" height="3.0" fill="rgb(242,242,242)"/><rect x="497.80" y="456.04" width="3.0" height="3.0" fill="rgb(242,242,242)"/><rect x="501.72" y="456.04" width="3.0" height="3.0" fill="rgb(242,242,242)"/><rect x="505.64" y="456.04" width="3.0" height="3.0" fill="rgb(219,219,219)"/><rect x="509.55" y="456.04" width="3.0" height="3.0" fill="rgb(189,189,189)"/><rect x="513.47" y="456.04" width="3.0" height="3.0" fill="rgb(189,189,189)"/><rect x="517.38" y="456.04" width="3.0" height="3.0" fill="rgb(219,219,219)"/><rect x="521.30" y="456.04" width="3.0" height="3.0" fill="rgb(219,219,219)"/><rect x="525.22" y="456.04" width="3.0" height="3.0" fill="rgb(219,219,219)"/><rect x="529.13" y="456.04" width="3.0" height="3.0" fill="rgb(50,50,50)"/><rect x="489.97" y="459.97" width="3.0" height="3.0" fill="rgb(242,242,242)"/><rect x="493.89" y="459.97" width="3.0" height="3.0" fill="rgb(242,242,242)"/><rect x="497.80" y="459.97" width="3.0" height="3.0" fill="rgb(242,242,242)"/><rect x="505.64" y="459.97" width="3.0" height="3.0" fill="rgb(242,242,242)"/><rect x="509.55" y="459.97" width="3.0" height="3.0" fill="rgb(242,242,242)"/><rect x="513.47" y="459.97" width="3.0" height="3.0" fill="rgb(219,219,219)"/><rect x="517.38" y="459.97" width="3.0" height="3.0" fill="rgb(219,219,219)"/><rect x="521.30" y="459.97" width="3.0" height="3.0" fill="rgb(219,219,219)"/><rect x="525.22" y="459.97" width="3.0" height="3.0" fill="rgb(189,189,189)"/><rect x="529.13" y="459.97" width="3.0" height="3.0" fill="rgb(189,189,189)"/><rect x="493.89" y="463.90" width="3.0" height="3.0" fill="rgb(242,242,242)"/><rect x="501.72" y="463.90" width="3.0" height="3.0" fill="rgb(242,242,242)"/><rect x="505.64" y="463.90" width="3.0" height="3.0" fill="rgb(242,242,242)"/><rect x="513.47" y="463.90" width="3.0" height="3.0" fill="rgb(242,242,242)"/><rect x="517.38" y="463.90" width="3.0" height="3.0" fill="rgb(219,219,219)"/><rect x="521.30" y="463.90" width="3.0" height="3.0" fill="rgb(219,219,219)"/><rect x="525.22" y="463.90" width="3.0" height="3.0" fill="rgb(189,189,189)"/><rect x="529.13" y="463.90" width="3.0" height="3.0" fill="rgb(189,189,189)"/><rect x="489.97" y="467.82" width="3.0" height="3.0" fill="rgb(242,242,242)"/><rect x="501.72" y="467.82" width="3.0" height="3.0" fill="rgb(242,242,242)"/><rect x="513.47" y="467.82" width="3.0" height="3.0" fill="rgb(242,242,242)"/><rect x="517.38" y="467.82" width="3.0" height="3.0" fill="rgb(242,242,242)"/><rect x="521.30" y="467.82" width="3.0" height="3.0" fill="rgb(219,219,219)"/><rect x="525.22" y="467.82" width="3.0" height="3.0" fill="rgb(219,219,219)"/><rect x="529.13" y="467.82" width="3.0" height="3.0" fill="rgb(219,219,219)"/><rect x="489.97" y="471.75" width="3.0" height="3.0" fill="rgb(242,242,242)"/><rect x="501.72" y="471.75" width="3.0" height="3.0" fill="rgb(242,242,242)"/><rect x="521.30" y="471.75" width="3.0" height="3.0" fill="rgb(242,242,242)"/><rect x="525.22" y="471.75" width="3.0" height="3.0" fill="rgb(219,219,219)"/><rect x="529.13" y="471.75" width="3.0" height="3.0" fill="rgb(219,219,219)"/><rect x="521.30" y="475.68" width="3.0" height="3.0" fill="rgb(242,242,242)"/><rect x="525.22" y="475.68" width="3.0" height="3.0" fill="rgb(219,219,219)"/><rect x="529.13" y="475.68" width="3.0" height="3.0" fill="rgb(242,242,242)"/><rect x="525.22" y="479.60" width="3.0" height="3.0" fill="rgb(242,242,242)"/><rect x="533.05" y="432.49" width="3.0" height="3.0" fill="rgb(231,231,231)"/><rect x="533.05" y="436.41" width="3.0" height="3.0" fill="rgb(231,231,231)"/><rect x="536.97" y="436.41" width="3.0" height="3.0" fill="rgb(250,250,250)"/><rect x="533.05" y="440.34" width="3.0" height="3.0" fill="rgb(242,242,242)"/><rect x="540.88" y="440.34" width="3.0" height="3.0" fill="rgb(242,242,242)"/><rect x="536.97" y="444.27" width="3.0" height="3.0" fill="rgb(219,219,219)"/><rect x="540.88" y="444.27" width="3.0" height="3.0" fill="rgb(242,242,242)"/><rect x="533.05" y="448.19" width="3.0" height="3.0" fill="rgb(242,242,242)"/><rect x="536.97" y="448.19" width="3.0" height="3.0" fill="rgb(242,242,242)"/><rect x="540.88" y="448.19" width="3.0" height="3.0" fill="rgb(219,219,219)"/><rect x="544.80" y="448.19" width="3.0" height="3.0" fill="rgb(219,219,219)"/><rect x="533.05" y="452.12" width="3.0" height="3.0" fill="rgb(219,219,219)"/><rect x="536.97" y="452.12" width="3.0" height="3.0" fill="rgb(219,219,219)"/><rect x="540.88" y="452.12" width="3.0" height="3.0" fill="rgb(242,242,242)"/><rect x="548.72" y="452.12" width="3.0" height="3.0" fill="rgb(219,219,219)"/><rect x="556.55" y="452.12" width="3.0" height="3.0" fill="rgb(242,242,242)"/><rect x="533.05" y="456.04" width="3.0" height="3.0" fill="rgb(189,189,189)"/><rect x="536.97" y="456.04" width="3.0" height="3.0" fill="rgb(189,189,189)"/><rect x="540.88" y="456.04" width="3.0" height="3.0" fill="rgb(219,219,219)"/><rect x="544.80" y="456.04" width="3.0" height="3.0" fill="rgb(242,242,242)"/><rect x="552.63" y="456.04" width="3.0" height="3.0" fill="rgb(242,242,242)"/><rect x="556.55" y="456.04" width="3.0" height="3.0" fill="rgb(219,219,219)"/><rect x="560.46" y="456.04" width="3.0" height="3.0" fill="rgb(242,242,242)"/><rect x="533.05" y="459.97" width="3.0" height="3.0" fill="rgb(219,219,219)"/><rect x="536.97" y="459.97" width="3.0" height="3.0" fill="rgb(83,83,83)"/><rect x="540.88" y="459.97" width="3.0" height="3.0" fill="rgb(219,219,219)"/><rect x="544.80" y="459.97" width="3.0" height="3.0" fill="rgb(219,219,219)"/><rect x="548.72" y="459.97" width="3.0" height="3.0" fill="rgb(189,189,189)"/><rect x="552.63" y="459.97" width="3.0" height="3.0" fill="rgb(219,219,219)"/><rect x="560.46" y="459.97" width="3.0" height="3.0" fill="rgb(242,242,242)"/><rect x="568.30" y="459.97" width="3.0" height="3.0" fill="rgb(242,242,242)"/><rect x="572.21" y="459.97" width="3.0" height="3.0" fill="rgb(242,242,242)"/><rect x="533.05" y="463.90" width="3.0" height="3.0" fill="rgb(118,118,118)"/><rect x="536.97" y="463.90" width="3.0" height="3.0" fill="rgb(189,189,189)"/><rect x="540.88" y="463.90" width="3.0" height="3.0" fill="rgb(219,219,219)"/><rect x="544.80" y="463.90" width="3.0" height="3.0" fill="rgb(219,219,219)"/><rect x="548.72" y="463.90" width="3.0" height="3.0" fill="rgb(219,219,219)"/><rect x="552.63" y="463.90" width="3.0" height="3.0" fill="rgb(189,189,189)"/><rect x="556.55" y="463.90" width="3.0" height="3.0" fill="rgb(242,242,242)"/><rect x="560.46" y="463.90" width="3.0" height="3.0" fill="rgb(219,219,219)"/><rect x="568.30" y="463.90" width="3.0" height="3.0" fill="rgb(242,242,242)"/><rect x="533.05" y="467.82" width="3.0" height="3.0" fill="rgb(154,154,154)"/><rect x="536.97" y="467.82" width="3.0" height="3.0" fill="rgb(154,154,154)"/><rect x="540.88" y="467.82" width="3.0" height="3.0" fill="rgb(219,219,219)"/><rect x="544.80" y="467.82" width="3.0" height="3.0" fill="rgb(242,242,242)"/><rect x="548.72" y="467.82" width="3.0" height="3.0" fill="rgb(219,219,219)"/><rect x="552.63" y="467.82" width="3.0" height="3.0" fill="rgb(242,242,242)"/><rect x="556.55" y="467.82" width="3.0" height="3.0" fill="rgb(219,219,219)"/><rect x="560.46" y="467.82" width="3.0" height="3.0" fill="rgb(189,189,189)"/><rect x="564.38" y="467.82" width="3.0" height="3.0" fill="rgb(50,50,50)"/><rect x="568.30" y="467.82" width="3.0" height="3.0" fill="rgb(189,189,189)"/><rect x="576.13" y="467.82" width="3.0" height="3.0" fill="rgb(242,242,242)"/><rect x="533.05" y="471.75" width="3.0" height="3.0" fill="rgb(219,219,219)"/><rect x="536.97" y="471.75" width="3.0" height="3.0" fill="rgb(219,219,219)"/><rect x="540.88" y="471.75" width="3.0" height="3.0" fill="rgb(189,189,189)"/><rect x="544.80" y="471.75" width="3.0" height="3.0" fill="rgb(219,219,219)"/><rect x="548.72" y="471.75" width="3.0" height="3.0" fill="rgb(242,242,242)"/><rect x="552.63" y="471.75" width="3.0" height="3.0" fill="rgb(219,219,219)"/><rect x="556.55" y="471.75" width="3.0" height="3.0" fill="rgb(242,242,242)"/><rect x="560.46" y="471.75" width="3.0" height="3.0" fill="rgb(242,242,242)"/><rect x="568.30" y="471.75" width="3.0" height="3.0" fill="rgb(219,219,219)"/><rect x="572.21" y="471.75" width="3.0" height="3.0" fill="rgb(219,219,219)"/><rect x="576.13" y="471.75" width="3.0" height="3.0" fill="rgb(189,189,189)"/><rect x="580.05" y="471.75" width="3.0" height="3.0" fill="rgb(242,242,242)"/><rect x="533.05" y="475.68" width="3.0" height="3.0" fill="rgb(219,219,219)"/><rect x="536.97" y="475.68" width="3.0" height="3.0" fill="rgb(189,189,189)"/><rect x="540.88" y="475.68" width="3.0" height="3.0" fill="rgb(219,219,219)"/><rect x="544.80" y="475.68" width="3.0" height="3.0" fill="rgb(219,219,219)"/><rect x="548.72" y="475.68" width="3.0" height="3.0" fill="rgb(83,83,83)"/><rect x="552.63" y="475.68" width="3.0" height="3.0" fill="rgb(219,219,219)"/><rect x="556.55" y="475.68" width="3.0" height="3.0" fill="rgb(242,242,242)"/><rect x="560.46" y="475.68" width="3.0" height="3.0" fill="rgb(219,219,219)"/><rect x="564.38" y="475.68" width="3.0" height="3.0" fill="rgb(242,242,242)"/><rect x="568.30" y="475.68" width="3.0" height="3.0" fill="rgb(242,242,242)"/><rect x="572.21" y="475.68" width="3.0" height="3.0" fill="rgb(242,242,242)"/><rect x="580.05" y="475.68" width="3.0" height="3.0" fill="rgb(219,219,219)"/><rect x="533.05" y="479.60" width="3.0" height="3.0" fill="rgb(242,242,242)"/><rect x="536.97" y="479.60" width="3.0" height="3.0" fill="rgb(242,242,242)"/><rect x="540.88" y="479.60" width="3.0" height="3.0" fill="rgb(242,242,242)"/><rect x="544.80" y="479.60" width="3.0" height="3.0" fill="rgb(219,219,219)"/><rect x="548.72" y="479.60" width="3.0" height="3.0" fill="rgb(189,189,189)"/><rect x="552.63" y="479.60" width="3.0" height="3.0" fill="rgb(219,219,219)"/><rect x="556.55" y="479.60" width="3.0" height="3.0" fill="rgb(242,242,242)"/><rect x="564.38" y="479.60" width="3.0" height="3.0" fill="rgb(242,242,242)"/><rect x="568.30" y="479.60" width="3.0" height="3.0" fill="rgb(219,219,219)"/><rect x="572.21" y="479.60" width="3.0" height="3.0" fill="rgb(219,219,219)"/><rect x="576.13" y="479.60" width="3.0" height="3.0" fill="rgb(242,242,242)"/><rect x="580.05" y="479.60" width="3.0" height="3.0" fill="rgb(250,250,250)"/><rect x="536.97" y="483.53" width="3.0" height="3.0" fill="rgb(242,242,242)"/><rect x="544.80" y="483.53" width="3.0" height="3.0" fill="rgb(242,242,242)"/><rect x="548.72" y="483.53" width="3.0" height="3.0" fill="rgb(242,242,242)"/><rect x="552.63" y="483.53" width="3.0" height="3.0" fill="rgb(219,219,219)"/><rect x="556.55" y="483.53" width="3.0" height="3.0" fill="rgb(189,189,189)"/><rect x="568.30" y="483.53" width="3.0" height="3.0" fill="rgb(219,219,219)"/><rect x="572.21" y="483.53" width="3.0" height="3.0" fill="rgb(242,242,242)"/><rect x="580.05" y="483.53" width="3.0" height="3.0" fill="rgb(242,242,242)"/><rect x="572.21" y="487.46" width="3.0" height="3.0" fill="rgb(242,242,242)"/><rect x="576.13" y="487.46" width="3.0" height="3.0" fill="rgb(219,219,219)"/><rect x="580.05" y="487.46" width="3.0" height="3.0" fill="rgb(250,250,250)"/><rect x="583.96" y="471.75" width="3.0" height="3.0" fill="rgb(219,219,219)"/><rect x="583.96" y="475.68" width="3.0" height="3.0" fill="rgb(219,219,219)"/><rect x="587.88" y="475.68" width="3.0" height="3.0" fill="rgb(219,219,219)"/><rect x="591.79" y="475.68" width="3.0" height="3.0" fill="rgb(219,219,219)"/><rect x="595.71" y="475.68" width="3.0" height="3.0" fill="rgb(219,219,219)"/><rect x="599.63" y="475.68" width="3.0" height="3.0" fill="rgb(242,242,242)"/><rect x="603.54" y="475.68" width="3.0" height="3.0" fill="rgb(242,242,242)"/><rect x="607.46" y="475.68" width="3.0" height="3.0" fill="rgb(242,242,242)"/><rect x="583.96" y="479.60" width="3.0" height="3.0" fill="rgb(242,242,242)"/><rect x="587.88" y="479.60" width="3.0" height="3.0" fill="rgb(242,242,242)"/><rect x="591.79" y="479.60" width="3.0" height="3.0" fill="rgb(242,242,242)"/><rect x="611.38" y="479.60" width="3.0" height="3.0" fill="rgb(242,242,242)"/><rect x="583.96" y="483.53" width="3.0" height="3.0" fill="rgb(219,219,219)"/><rect x="587.88" y="483.53" width="3.0" height="3.0" fill="rgb(219,219,219)"/><rect x="591.79" y="483.53" width="3.0" height="3.0" fill="rgb(242,242,242)"/><rect x="611.38" y="483.53" width="3.0" height="3.0" fill="rgb(242,242,242)"/><rect x="615.29" y="483.53" width="3.0" height="3.0" fill="rgb(242,242,242)"/><rect x="615.29" y="487.46" width="3.0" height="3.0" fill="rgb(242,242,242)"/><rect x="619.21" y="487.46" width="3.0" height="3.0" fill="rgb(219,219,219)"/><rect x="619.21" y="121.81" width="3.0" height="3.0" fill="rgb(242,242,242)"/><rect x="536.97" y="424.63" width="3.0" height="3.0" fill="rgb(219,219,219)"/><rect x="540.88" y="424.63" width="3.0" height="3.0" fill="rgb(242,242,242)"/><rect x="533.05" y="428.56" width="3.0" height="3.0" fill="rgb(242,242,242)"/><rect x="536.97" y="428.56" width="3.0" height="3.0" fill="rgb(242,242,242)"/><rect x="544.80" y="428.56" width="3.0" height="3.0" fill="rgb(242,242,242)"/><rect x="548.72" y="428.56" width="3.0" height="3.0" fill="rgb(242,242,242)"/><rect x="155.98" y="424.63" width="3.0" height="3.0" fill="rgb(242,242,242)"/><rect x="159.94" y="428.56" width="3.0" height="3.0" fill="rgb(242,242,242)"/><rect x="341.02" y="424.63" width="3.0" height="3.0" fill="rgb(242,242,242)"/><rect x="344.95" y="424.63" width="3.0" height="3.0" fill="rgb(219,219,219)"/><rect x="341.02" y="428.56" width="3.0" height="3.0" fill="rgb(219,219,219)"/><rect x="348.87" y="428.56" width="3.0" height="3.0" fill="rgb(242,242,242)"/></g><rect x="112.07" y="116.30" width="2.07" height="1.10" fill="#0072BD"/><rect x="114.77" y="108.20" width="2.07" height="9.20" fill="#0072BD"/><rect x="117.37" y="113.90" width="2.07" height="3.50" fill="#0072BD"/><rect x="120.07" y="114.20" width="2.07" height="3.20" fill="#0072BD"/><rect x="122.77" y="114.20" width="2.07" height="3.20" fill="#0072BD"/><rect x="125.37" y="106.30" width="2.07" height="11.10" fill="#0072BD"/><rect x="128.07" y="109.00" width="2.07" height="8.40" fill="#0072BD"/><rect x="130.67" y="97.80" width="2.07" height="19.60" fill="#0072BD"/><rect x="133.27" y="86.50" width="2.07" height="30.90" fill="#0072BD"/><rect x="135.97" y="79.50" width="2.07" height="37.90" fill="#0072BD"/><rect x="138.57" y="69.00" width="2.07" height="48.40" fill="#0072BD"/><rect x="141.27" y="61.00" width="2.07" height="56.40" fill="#0072BD"/><rect x="143.87" y="65.00" width="2.07" height="52.40" fill="#0072BD"/><rect x="146.57" y="65.00" width="2.07" height="52.40" fill="#0072BD"/><rect x="149.17" y="50.20" width="2.07" height="67.20" fill="#0072BD"/><rect x="151.87" y="47.60" width="2.07" height="69.80" fill="#0072BD"/><rect x="154.47" y="53.50" width="2.07" height="63.90" fill="#0072BD"/><rect x="157.17" y="82.10" width="2.07" height="35.30" fill="#0072BD"/><rect x="159.87" y="65.40" width="2.07" height="52.00" fill="#0072BD"/><rect x="162.47" y="81.20" width="2.07" height="36.20" fill="#0072BD"/><rect x="165.17" y="88.30" width="2.07" height="29.10" fill="#0072BD"/><rect x="167.77" y="92.40" width="2.07" height="25.00" fill="#0072BD"/><rect x="170.47" y="99.20" width="2.07" height="18.20" fill="#0072BD"/><rect x="173.07" y="111.20" width="2.07" height="6.20" fill="#0072BD"/><rect x="175.77" y="107.90" width="2.07" height="9.50" fill="#0072BD"/><rect x="178.37" y="113.60" width="2.07" height="3.80" fill="#0072BD"/><rect x="181.07" y="115.20" width="2.07" height="2.20" fill="#0072BD"/><rect x="183.77" y="114.50" width="2.07" height="2.90" fill="#0072BD"/><rect x="186.37" y="113.60" width="2.07" height="3.80" fill="#0072BD"/><rect x="189.07" y="114.10" width="2.07" height="3.30" fill="#0072BD"/><rect x="191.67" y="116.10" width="2.07" height="1.30" fill="#0072BD"/><rect x="194.37" y="116.20" width="2.07" height="1.20" fill="#0072BD"/><rect x="291.55" y="116.80" width="2.10" height="0.60" fill="#0072BD"/><rect x="301.45" y="116.50" width="2.10" height="0.90" fill="#0072BD"/><rect x="303.95" y="115.90" width="2.10" height="1.50" fill="#0072BD"/><rect x="306.55" y="115.30" width="2.10" height="2.10" fill="#0072BD"/><rect x="309.15" y="114.70" width="2.10" height="2.70" fill="#0072BD"/><rect x="311.85" y="112.00" width="2.10" height="5.40" fill="#0072BD"/><rect x="314.55" y="110.50" width="2.10" height="6.90" fill="#0072BD"/><rect x="317.25" y="107.00" width="2.10" height="10.40" fill="#0072BD"/><rect x="319.95" y="103.70" width="2.10" height="13.70" fill="#0072BD"/><rect x="322.65" y="97.80" width="2.10" height="19.60" fill="#0072BD"/><rect x="325.45" y="91.10" width="2.10" height="26.30" fill="#0072BD"/><rect x="328.15" y="77.30" width="2.10" height="40.10" fill="#0072BD"/><rect x="330.85" y="75.60" width="2.10" height="41.80" fill="#0072BD"/><rect x="333.55" y="73.90" width="2.10" height="43.50" fill="#0072BD"/><rect x="336.25" y="46.30" width="2.10" height="71.10" fill="#0072BD"/><rect x="338.85" y="37.10" width="2.10" height="80.30" fill="#0072BD"/><rect x="341.55" y="58.30" width="2.10" height="59.10" fill="#0072BD"/><rect x="344.25" y="57.50" width="2.10" height="59.90" fill="#0072BD"/><rect x="346.95" y="66.20" width="2.10" height="51.20" fill="#0072BD"/><rect x="349.65" y="72.90" width="2.10" height="44.50" fill="#0072BD"/><rect x="352.35" y="63.70" width="2.10" height="53.70" fill="#0072BD"/><rect x="355.05" y="88.30" width="2.10" height="29.10" fill="#0072BD"/><rect x="357.85" y="86.60" width="2.10" height="30.80" fill="#0072BD"/><rect x="360.55" y="99.10" width="2.10" height="18.30" fill="#0072BD"/><rect x="363.25" y="99.10" width="2.10" height="18.30" fill="#0072BD"/><rect x="365.95" y="107.40" width="2.10" height="10.00" fill="#0072BD"/><rect x="368.65" y="113.00" width="2.10" height="4.40" fill="#0072BD"/><rect x="371.35" y="108.10" width="2.10" height="9.30" fill="#0072BD"/><rect x="374.05" y="114.00" width="2.10" height="3.40" fill="#0072BD"/><rect x="376.85" y="115.30" width="2.10" height="2.10" fill="#0072BD"/><rect x="379.55" y="115.70" width="2.10" height="1.70" fill="#0072BD"/><rect x="382.25" y="114.50" width="2.10" height="2.90" fill="#0072BD"/><rect x="384.95" y="115.30" width="2.10" height="2.10" fill="#0072BD"/><rect x="488.20" y="116.30" width="2.00" height="1.10" fill="#0072BD"/><rect x="495.90" y="116.50" width="2.00" height="0.90" fill="#0072BD"/><rect x="498.50" y="115.90" width="2.00" height="1.50" fill="#0072BD"/><rect x="501.00" y="115.00" width="2.00" height="2.40" fill="#0072BD"/><rect x="503.70" y="113.90" width="2.00" height="3.50" fill="#0072BD"/><rect x="506.30" y="109.90" width="2.00" height="7.50" fill="#0072BD"/><rect x="508.80" y="110.90" width="2.00" height="6.50" fill="#0072BD"/><rect x="511.20" y="109.20" width="2.00" height="8.20" fill="#0072BD"/><rect x="513.90" y="98.70" width="2.00" height="18.70" fill="#0072BD"/><rect x="516.40" y="99.90" width="2.00" height="17.50" fill="#0072BD"/><rect x="519.00" y="92.90" width="2.00" height="24.50" fill="#0072BD"/><rect x="521.50" y="74.10" width="2.00" height="43.30" fill="#0072BD"/><rect x="524.10" y="68.20" width="2.00" height="49.20" fill="#0072BD"/><rect x="526.60" y="72.20" width="2.00" height="45.20" fill="#0072BD"/><rect x="529.20" y="69.70" width="2.00" height="47.70" fill="#0072BD"/><rect x="531.80" y="49.60" width="2.00" height="67.80" fill="#0072BD"/><rect x="534.40" y="59.90" width="2.00" height="57.50" fill="#0072BD"/><rect x="537.00" y="49.00" width="2.00" height="68.40" fill="#0072BD"/><rect x="539.50" y="54.50" width="2.00" height="62.90" fill="#0072BD"/><rect x="542.00" y="88.90" width="2.00" height="28.50" fill="#0072BD"/><rect x="544.60" y="63.70" width="2.00" height="53.70" fill="#0072BD"/><rect x="547.10" y="73.30" width="2.00" height="44.10" fill="#0072BD"/><rect x="549.70" y="98.30" width="2.00" height="19.10" fill="#0072BD"/><rect x="552.20" y="93.10" width="2.00" height="24.30" fill="#0072BD"/><rect x="554.70" y="91.40" width="2.00" height="26.00" fill="#0072BD"/><rect x="557.30" y="104.50" width="2.00" height="12.90" fill="#0072BD"/><rect x="559.90" y="113.20" width="2.00" height="4.20" fill="#0072BD"/><rect x="562.50" y="113.20" width="2.00" height="4.20" fill="#0072BD"/><rect x="565.10" y="114.00" width="2.00" height="3.40" fill="#0072BD"/><rect x="567.70" y="114.70" width="2.00" height="2.70" fill="#0072BD"/><rect x="570.30" y="114.50" width="2.00" height="2.90" fill="#0072BD"/><rect x="572.80" y="113.20" width="2.00" height="4.20" fill="#0072BD"/><rect x="575.30" y="116.10" width="2.00" height="1.30" fill="#0072BD"/><rect x="577.80" y="116.50" width="2.00" height="0.90" fill="#0072BD"/><rect x="580.30" y="116.10" width="2.00" height="1.30" fill="#0072BD"/><polyline points="106.79,116.93 107.60,116.84 108.40,116.73 109.21,116.61 110.02,116.46 110.83,116.29 111.63,116.10 112.44,115.88 113.25,115.62 114.05,115.33 114.86,115.00 115.67,114.62 116.48,114.20 117.28,113.72 118.09,113.19 118.90,112.60 119.71,111.94 120.51,111.21 121.32,110.41 122.13,109.54 122.93,108.58 123.74,107.54 124.55,106.42 125.36,105.21 126.16,103.91 126.97,102.52 127.78,101.05 128.59,99.48 129.39,97.84 130.20,96.12 131.01,94.32 131.81,92.46 132.62,90.53 133.43,88.56 134.24,86.54 135.04,84.50 135.85,82.43 136.66,80.37 137.47,78.31 138.27,76.28 139.08,74.29 139.89,72.35 140.69,70.48 141.50,68.71 142.31,67.03 143.12,65.47 143.92,64.05 144.73,62.77 145.54,61.65 146.35,60.69 147.15,59.92 147.96,59.33 148.77,58.93 149.57,58.73 150.38,58.72 151.19,58.91 152.00,59.30 152.80,59.88 153.61,60.65 154.42,61.59 155.23,62.71 156.03,63.98 156.84,65.39 157.65,66.95 158.46,68.61 159.26,70.39 160.07,72.25 160.88,74.18 161.68,76.17 162.49,78.20 163.30,80.26 164.11,82.32 164.91,84.39 165.72,86.43 166.53,88.45 167.34,90.43 168.14,92.36 168.95,94.22 169.76,96.02 170.56,97.75 171.37,99.40 172.18,100.96 172.99,102.44 173.79,103.84 174.60,105.14 175.41,106.36 176.22,107.49 177.02,108.53 177.83,109.49 178.64,110.37 179.44,111.17 180.25,111.90 181.06,112.56 181.87,113.16 182.67,113.70 183.48,114.17 184.29,114.60 185.10,114.98 185.90,115.31 186.71,115.61 187.52,115.86 188.32,116.09 189.13,116.28 189.94,116.45 190.75,116.60 191.55,116.73 192.36,116.84 193.17,116.93" fill="none" stroke="#000" stroke-width="1.75"/><polyline points="298.49,116.96 299.29,116.87 300.09,116.77 300.89,116.66 301.69,116.52 302.49,116.36 303.29,116.18 304.10,115.97 304.90,115.73 305.70,115.46 306.50,115.15 307.30,114.80 308.10,114.41 308.90,113.97 309.70,113.47 310.50,112.92 311.30,112.31 312.10,111.63 312.90,110.88 313.70,110.06 314.50,109.17 315.30,108.19 316.10,107.14 316.90,105.99 317.71,104.77 318.51,103.46 319.31,102.06 320.11,100.58 320.91,99.01 321.71,97.36 322.51,95.64 323.31,93.85 324.11,91.99 324.91,90.07 325.71,88.11 326.51,86.11 327.31,84.08 328.11,82.03 328.91,79.98 329.72,77.94 330.52,75.93 331.32,73.96 332.12,72.04 332.92,70.19 333.72,68.42 334.52,66.76 335.32,65.21 336.12,63.79 336.92,62.51 337.72,61.38 338.52,60.41 339.32,59.62 340.12,59.01 340.92,58.58 341.72,58.35 342.52,58.31 343.33,58.46 344.13,58.80 344.93,59.33 345.73,60.04 346.53,60.93 347.33,61.99 348.13,63.21 348.93,64.57 349.73,66.06 350.53,67.68 351.33,69.40 352.13,71.22 352.93,73.11 353.73,75.06 354.53,77.06 355.34,79.09 356.14,81.13 356.94,83.18 357.74,85.22 358.54,87.24 359.34,89.22 360.14,91.16 360.94,93.04 361.74,94.86 362.54,96.62 363.34,98.30 364.14,99.90 364.94,101.42 365.74,102.86 366.54,104.20 367.34,105.47 368.14,106.65 368.95,107.74 369.75,108.75 370.55,109.68 371.35,110.53 372.15,111.31 372.95,112.02 373.75,112.66 374.55,113.24 375.35,113.76 376.15,114.22 376.95,114.64 377.75,115.01 378.55,115.33 379.35,115.62 380.15,115.87 380.96,116.09 381.76,116.29 382.56,116.45 383.36,116.60 384.16,116.72 384.96,116.83 385.76,116.92" fill="none" stroke="#000" stroke-width="1.75"/><polyline points="492.97,116.97 493.77,116.88 494.57,116.78 495.37,116.66 496.17,116.53 496.97,116.37 497.77,116.18 498.57,115.97 499.37,115.73 500.17,115.45 500.97,115.13 501.77,114.77 502.57,114.36 503.37,113.90 504.17,113.39 504.97,112.82 505.76,112.19 506.56,111.48 507.36,110.71 508.16,109.86 508.96,108.93 509.76,107.93 510.56,106.83 511.36,105.66 512.16,104.39 512.96,103.04 513.76,101.61 514.56,100.09 515.36,98.49 516.16,96.81 516.96,95.07 517.76,93.26 518.56,91.39 519.36,89.47 520.16,87.52 520.96,85.54 521.76,83.54 522.56,81.55 523.36,79.57 524.16,77.61 524.96,75.70 525.75,73.85 526.55,72.08 527.35,70.39 528.15,68.81 528.95,67.35 529.75,66.03 530.55,64.85 531.35,63.83 532.15,62.98 532.95,62.30 533.75,61.81 534.55,61.51 535.35,61.40 536.15,61.48 536.95,61.76 537.75,62.23 538.55,62.88 539.35,63.71 540.15,64.71 540.95,65.87 541.75,67.18 542.55,68.62 543.35,70.19 544.14,71.86 544.94,73.62 545.74,75.47 546.54,77.37 547.34,79.32 548.14,81.30 548.94,83.29 549.74,85.29 550.54,87.27 551.34,89.23 552.14,91.15 552.94,93.02 553.74,94.84 554.54,96.60 555.34,98.28 556.14,99.89 556.94,101.42 557.74,102.87 558.54,104.23 559.34,105.50 560.14,106.69 560.94,107.79 561.74,108.81 562.54,109.75 563.34,110.61 564.13,111.39 564.93,112.10 565.73,112.74 566.53,113.32 567.33,113.84 568.13,114.31 568.93,114.72 569.73,115.09 570.53,115.41 571.33,115.69 572.13,115.94 572.93,116.16 573.73,116.34 574.53,116.51 575.33,116.65 576.13,116.77 576.93,116.87 577.73,116.96" fill="none" stroke="#000" stroke-width="1.75"/><line x1="52.70" y1="310.30" x2="246.45" y2="117.40" stroke="#000" stroke-width="1.1" stroke-dasharray="1.1 3.3" stroke-opacity="0.8"/><line x1="246.45" y1="310.30" x2="438.60" y2="117.40" stroke="#000" stroke-width="1.1" stroke-dasharray="1.1 3.3" stroke-opacity="0.8"/><line x1="438.60" y1="310.30" x2="630.50" y2="117.40" stroke="#000" stroke-width="1.1" stroke-dasharray="1.1 3.3" stroke-opacity="0.8"/><polyline points="52.70,254.46 53.35,254.13 53.99,253.79 54.64,253.45 55.28,253.12 55.93,252.78 56.57,252.44 57.22,252.11 57.87,251.77 58.51,251.43 59.16,251.10 59.80,250.76 60.45,250.42 61.10,250.08 61.74,249.74 62.39,249.40 63.03,249.07 63.68,248.73 64.32,248.39 64.97,248.05 65.62,247.71 66.26,247.37 66.91,247.03 67.55,246.69 68.20,246.35 68.85,246.00 69.49,245.66 70.14,245.32 70.78,244.98 71.43,244.64 72.07,244.29 72.72,243.95 73.37,243.61 74.01,243.26 74.66,242.92 75.30,242.58 75.95,242.23 76.60,241.89 77.24,241.54 77.89,241.20 78.53,240.85 79.18,240.50 79.83,240.16 80.47,239.81 81.12,239.46 81.76,239.11 82.41,238.77 83.05,238.42 83.70,238.07 84.35,237.72 84.99,237.37 85.64,237.02 86.28,236.67 86.93,236.32 87.58,235.97 88.22,235.62 88.87,235.27 89.51,234.91 90.16,234.56 90.80,234.21 91.45,233.85 92.10,233.50 92.74,233.15 93.39,232.79 94.03,232.44 94.68,232.08 95.33,231.72 95.97,231.37 96.62,231.01 97.26,230.65 97.91,230.29 98.55,229.94 99.20,229.58 99.85,229.22 100.49,228.86 101.14,228.49 101.78,228.13 102.43,227.77 103.07,227.41 103.72,227.05 104.37,226.68 105.01,226.32 105.66,225.95 106.30,225.59 106.95,225.22 107.60,224.86 108.24,224.49 108.89,224.12 109.53,223.75 110.18,223.38 110.82,223.01 111.47,222.64 112.12,222.27 112.76,221.90 113.41,221.53 114.05,221.16 114.70,220.78 115.35,220.41 115.99,220.03 116.64,219.66 117.28,219.28 117.93,218.90 118.57,218.52 119.22,218.15 119.87,217.77 120.51,217.39 121.16,217.01 121.80,216.62 122.45,216.24 123.10,215.86 123.74,215.47 124.39,215.09 125.03,214.70 125.68,214.31 126.32,213.93 126.97,213.54 127.62,213.15 128.26,212.76 128.91,212.37 129.55,211.98 130.20,211.58 130.85,211.19 131.49,210.79 132.14,210.40 132.78,210.00 133.43,209.60 134.08,209.20 134.72,208.80 135.37,208.40 136.01,208.00 136.66,207.60 137.30,207.19 137.95,206.79 138.60,206.38 139.24,205.98 139.89,205.57 140.53,205.16 141.18,204.75 141.83,204.34 142.47,203.92 143.12,203.51 143.76,203.09 144.41,202.68 145.05,202.26 145.70,201.84 146.35,201.42 146.99,201.00 147.64,200.58 148.28,200.16 148.93,199.73 149.57,199.30 150.22,198.88 150.87,198.45 151.51,198.02 152.16,197.59 152.80,197.16 153.45,196.72 154.10,196.29 154.74,195.85 155.39,195.41 156.03,194.97 156.68,194.53 157.32,194.09 157.97,193.64 158.62,193.20 159.26,192.75 159.91,192.30 160.55,191.85 161.20,191.40 161.85,190.95 162.49,190.50 163.14,190.04 163.78,189.58 164.43,189.12 165.07,188.66 165.72,188.20 166.37,187.74 167.01,187.27 167.66,186.81 168.30,186.34 168.95,185.87 169.60,185.40 170.24,184.92 170.89,184.45 171.53,183.97 172.18,183.49 172.83,183.01 173.47,182.53 174.12,182.05 174.76,181.56 175.41,181.07 176.05,180.58 176.70,180.09 177.35,179.60 177.99,179.11 178.64,178.61 179.28,178.11 179.93,177.61 180.58,177.11 181.22,176.61 181.87,176.10 182.51,175.60 183.16,175.09 183.80,174.58 184.45,174.06 185.10,173.55 185.74,173.03 186.39,172.51 187.03,171.99 187.68,171.47 188.32,170.95 188.97,170.42 189.62,169.90 190.26,169.37 190.91,168.84 191.55,168.30 192.20,167.77 192.85,167.23 193.49,166.69 194.14,166.15 194.78,165.61 195.43,165.06 196.07,164.52 196.72,163.97 197.37,163.42 198.01,162.87 198.66,162.31 199.30,161.76 199.95,161.20 200.60,160.64 201.24,160.08 201.89,159.52 202.53,158.95 203.18,158.39 203.82,157.82 204.47,157.25 205.12,156.68 205.76,156.10 206.41,155.53 207.05,154.95 207.70,154.37 208.35,153.79 208.99,153.21 209.64,152.63 210.28,152.04 210.93,151.45 211.57,150.86 212.22,150.27 212.87,149.68 213.51,149.09 214.16,148.49 214.80,147.90 215.45,147.30 216.10,146.70 216.74,146.10 217.39,145.50 218.03,144.89 218.68,144.29 219.32,143.68 219.97,143.08 220.62,142.47 221.26,141.86 221.91,141.25 222.55,140.63 223.20,140.02 223.85,139.40 224.49,138.79 225.14,138.17 225.78,137.55 226.43,136.93 227.07,136.31 227.72,135.69 228.37,135.07 229.01,134.45 229.66,133.82 230.30,133.20 230.95,132.57 231.60,131.94 232.24,131.32 232.89,130.69 233.53,130.06 234.18,129.43 234.83,128.80 235.47,128.17 236.12,127.54 236.76,126.90 237.41,126.27 238.05,125.64 238.70,125.00 239.35,124.37 239.99,123.73 240.64,123.10 241.28,122.46 241.93,121.82 242.58,121.19 243.22,120.55 243.87,119.91 244.51,119.27 245.16,118.64 245.80,118.00 246.45,117.36" fill="none" stroke="#EC7843" stroke-width="1.2"/><polyline points="52.70,377.53 53.35,378.16 53.99,378.79 54.64,379.42 55.28,380.05 55.93,380.68 56.57,381.30 57.22,381.93 57.87,382.56 58.51,383.19 59.16,383.81 59.80,384.44 60.45,385.06 61.10,385.69 61.74,386.31 62.39,386.94 63.03,387.56 63.68,388.18 64.32,388.81 64.97,389.43 65.62,390.05 66.26,390.67 66.91,391.29 67.55,391.91 68.20,392.53 68.85,393.15 69.49,393.76 70.14,394.38 70.78,395.00 71.43,395.62 72.07,396.23 72.72,396.85 73.37,397.46 74.01,398.07 74.66,398.69 75.30,399.30 75.95,399.91 76.60,400.52 77.24,401.13 77.89,401.74 78.53,402.35 79.18,402.96 79.83,403.57 80.47,404.18 81.12,404.78 81.76,405.39 82.41,405.99 83.05,406.60 83.70,407.20 84.35,407.80 84.99,408.41 85.64,409.01 86.28,409.61 86.93,410.21 87.58,410.81 88.22,411.40 88.87,412.00 89.51,412.60 90.16,413.19 90.80,413.79 91.45,414.38 92.10,414.97 92.74,415.56 93.39,416.15 94.03,416.74 94.68,417.33 95.33,417.92 95.97,418.51 96.62,419.09 97.26,419.68 97.91,420.26 98.55,420.84 99.20,421.43 99.85,422.01 100.49,422.59 101.14,423.16 101.78,423.74 102.43,424.32 103.07,424.89 103.72,425.47 104.37,426.04 105.01,426.61 105.66,427.18 106.30,427.75 106.95,428.32 107.60,428.89 108.24,429.45 108.89,430.02 109.53,430.58 110.18,431.14 110.82,431.70 111.47,432.26 112.12,432.82 112.76,433.37 113.41,433.93 114.05,434.48 114.70,435.04 115.35,435.59 115.99,436.14 116.64,436.68 117.28,437.23 117.93,437.77 118.57,438.32 119.22,438.86 119.87,439.40 120.51,439.94 121.16,440.47 121.80,441.01 122.45,441.54 123.10,442.08 123.74,442.61 124.39,443.14 125.03,443.66 125.68,444.19 126.32,444.71 126.97,445.23 127.62,445.75 128.26,446.27 128.91,446.79 129.55,447.30 130.20,447.81 130.85,448.32 131.49,448.83 132.14,449.34 132.78,449.84 133.43,450.35 134.08,450.85 134.72,451.34 135.37,451.84 136.01,452.34 136.66,452.83 137.30,453.32 137.95,453.81 138.60,454.29 139.24,454.78 139.89,455.26 140.53,455.74 141.18,456.21 141.83,456.69 142.47,457.16 143.12,457.63 143.76,458.10 144.41,458.56 145.05,459.02 145.70,459.48 146.35,459.94 146.99,460.40 147.64,460.85 148.28,461.30 148.93,461.75 149.57,462.19 150.22,462.63 150.87,463.07 151.51,463.51 152.16,463.94 152.80,464.37 153.45,464.80 154.10,465.23 154.74,465.65 155.39,466.07 156.03,466.49 156.68,466.90 157.32,467.31 157.97,467.72 158.62,468.13 159.26,468.53 159.91,468.93 160.55,469.33 161.20,469.72 161.85,470.11 162.49,470.50 163.14,470.88 163.78,471.26 164.43,471.64 165.07,472.01 165.72,472.38 166.37,472.75 167.01,473.12 167.66,473.48 168.30,473.83 168.95,474.19 169.60,474.54 170.24,474.89 170.89,475.23 171.53,475.57 172.18,475.91 172.83,476.24 173.47,476.57 174.12,476.90 174.76,477.22 175.41,477.54 176.05,477.86 176.70,478.17 177.35,478.48 177.99,478.78 178.64,479.08 179.28,479.38 179.93,479.68 180.58,479.97 181.22,480.25 181.87,480.54 182.51,480.81 183.16,481.09 183.80,481.36 184.45,481.63 185.10,481.89 185.74,482.15 186.39,482.41 187.03,482.66 187.68,482.91 188.32,483.15 188.97,483.39 189.62,483.63 190.26,483.86 190.91,484.09 191.55,484.32 192.20,484.54 192.85,484.76 193.49,484.97 194.14,485.18 194.78,485.39 195.43,485.59 196.07,485.79 196.72,485.98 197.37,486.17 198.01,486.36 198.66,486.54 199.30,486.72 199.95,486.89 200.60,487.07 201.24,487.23 201.89,487.40 202.53,487.56 203.18,487.72 203.82,487.87 204.47,488.02 205.12,488.16 205.76,488.31 206.41,488.45 207.05,488.58 207.70,488.71 208.35,488.84 208.99,488.97 209.64,489.09 210.28,489.21 210.93,489.32 211.57,489.43 212.22,489.54 212.87,489.65 213.51,489.75 214.16,489.85 214.80,489.94 215.45,490.03 216.10,490.12 216.74,490.21 217.39,490.29 218.03,490.38 218.68,490.45 219.32,490.53 219.97,490.60 220.62,490.67 221.26,490.74 221.91,490.80 222.55,490.87 223.20,490.93 223.85,490.98 224.49,491.04 225.14,491.09 225.78,491.14 226.43,491.19 227.07,491.24 227.72,491.28 228.37,491.32 229.01,491.37 229.66,491.40 230.30,491.44 230.95,491.48 231.60,491.51 232.24,491.54 232.89,491.57 233.53,491.60 234.18,491.63 234.83,491.65 235.47,491.68 236.12,491.70 236.76,491.72 237.41,491.74 238.05,491.76 238.70,491.78 239.35,491.80 239.99,491.81 240.64,491.83 241.28,491.84 241.93,491.85 242.58,491.87 243.22,491.88 243.87,491.89 244.51,491.90 245.16,491.91 245.80,491.92 246.45,491.92" fill="none" stroke="#EC7843" stroke-width="1.2"/><polyline points="246.45,255.17 247.09,254.83 247.73,254.49 248.37,254.16 249.01,253.82 249.65,253.48 250.29,253.15 250.93,252.81 251.57,252.47 252.21,252.13 252.85,251.79 253.50,251.46 254.14,251.12 254.78,250.78 255.42,250.44 256.06,250.10 256.70,249.76 257.34,249.42 257.98,249.08 258.62,248.74 259.26,248.40 259.90,248.06 260.54,247.72 261.18,247.38 261.82,247.04 262.46,246.69 263.10,246.35 263.74,246.01 264.38,245.67 265.02,245.32 265.66,244.98 266.31,244.64 266.95,244.29 267.59,243.95 268.23,243.60 268.87,243.26 269.51,242.91 270.15,242.57 270.79,242.22 271.43,241.88 272.07,241.53 272.71,241.18 273.35,240.83 273.99,240.49 274.63,240.14 275.27,239.79 275.91,239.44 276.55,239.09 277.19,238.74 277.83,238.39 278.48,238.04 279.12,237.69 279.76,237.34 280.40,236.99 281.04,236.64 281.68,236.28 282.32,235.93 282.96,235.58 283.60,235.22 284.24,234.87 284.88,234.52 285.52,234.16 286.16,233.81 286.80,233.45 287.44,233.09 288.08,232.74 288.72,232.38 289.36,232.02 290.00,231.66 290.64,231.30 291.29,230.94 291.93,230.58 292.57,230.22 293.21,229.86 293.85,229.50 294.49,229.14 295.13,228.78 295.77,228.41 296.41,228.05 297.05,227.69 297.69,227.32 298.33,226.96 298.97,226.59 299.61,226.22 300.25,225.85 300.89,225.49 301.53,225.12 302.17,224.75 302.81,224.38 303.45,224.01 304.09,223.64 304.74,223.27 305.38,222.89 306.02,222.52 306.66,222.15 307.30,221.77 307.94,221.40 308.58,221.02 309.22,220.64 309.86,220.27 310.50,219.89 311.14,219.51 311.78,219.13 312.42,218.75 313.06,218.37 313.70,217.99 314.34,217.60 314.98,217.22 315.62,216.83 316.26,216.45 316.90,216.06 317.55,215.68 318.19,215.29 318.83,214.90 319.47,214.51 320.11,214.12 320.75,213.73 321.39,213.33 322.03,212.94 322.67,212.55 323.31,212.15 323.95,211.76 324.59,211.36 325.23,210.96 325.87,210.56 326.51,210.16 327.15,209.76 327.79,209.36 328.43,208.95 329.07,208.55 329.72,208.14 330.36,207.74 331.00,207.33 331.64,206.92 332.28,206.51 332.92,206.10 333.56,205.69 334.20,205.28 334.84,204.86 335.48,204.45 336.12,204.03 336.76,203.61 337.40,203.19 338.04,202.77 338.68,202.35 339.32,201.93 339.96,201.51 340.60,201.08 341.24,200.65 341.88,200.23 342.52,199.80 343.17,199.37 343.81,198.94 344.45,198.50 345.09,198.07 345.73,197.63 346.37,197.19 347.01,196.76 347.65,196.32 348.29,195.87 348.93,195.43 349.57,194.99 350.21,194.54 350.85,194.10 351.49,193.65 352.13,193.20 352.77,192.74 353.41,192.29 354.05,191.84 354.69,191.38 355.33,190.92 355.98,190.46 356.62,190.00 357.26,189.54 357.90,189.08 358.54,188.61 359.18,188.14 359.82,187.67 360.46,187.20 361.10,186.73 361.74,186.26 362.38,185.78 363.02,185.30 363.66,184.82 364.30,184.34 364.94,183.86 365.58,183.38 366.22,182.89 366.86,182.40 367.50,181.91 368.15,181.42 368.79,180.93 369.43,180.44 370.07,179.94 370.71,179.44 371.35,178.94 371.99,178.44 372.63,177.93 373.27,177.43 373.91,176.92 374.55,176.41 375.19,175.90 375.83,175.39 376.47,174.87 377.11,174.36 377.75,173.84 378.39,173.32 379.03,172.79 379.67,172.27 380.31,171.74 380.96,171.22 381.60,170.69 382.24,170.15 382.88,169.62 383.52,169.08 384.16,168.55 384.80,168.01 385.44,167.47 386.08,166.92 386.72,166.38 387.36,165.83 388.00,165.28 388.64,164.73 389.28,164.18 389.92,163.63 390.56,163.07 391.20,162.51 391.84,161.95 392.48,161.39 393.12,160.83 393.76,160.26 394.41,159.69 395.05,159.13 395.69,158.55 396.33,157.98 396.97,157.41 397.61,156.83 398.25,156.26 398.89,155.68 399.53,155.09 400.17,154.51 400.81,153.93 401.45,153.34 402.09,152.75 402.73,152.17 403.37,151.58 404.01,150.98 404.65,150.39 405.29,149.79 405.93,149.20 406.57,148.60 407.22,148.00 407.86,147.40 408.50,146.80 409.14,146.19 409.78,145.59 410.42,144.98 411.06,144.37 411.70,143.76 412.34,143.15 412.98,142.54 413.62,141.93 414.26,141.31 414.90,140.70 415.54,140.08 416.18,139.46 416.82,138.85 417.46,138.23 418.10,137.61 418.74,136.98 419.38,136.36 420.03,135.74 420.67,135.11 421.31,134.49 421.95,133.86 422.59,133.23 423.23,132.61 423.87,131.98 424.51,131.35 425.15,130.72 425.79,130.09 426.43,129.46 427.07,128.82 427.71,128.19 428.35,127.56 428.99,126.93 429.63,126.29 430.27,125.66 430.91,125.02 431.55,124.38 432.20,123.75 432.84,123.11 433.48,122.47 434.12,121.84 434.76,121.20 435.40,120.56 436.04,119.92 436.68,119.28 437.32,118.64 437.96,118.01 438.60,117.37" fill="none" stroke="#90C458" stroke-width="1.2"/><polyline points="246.45,378.97 247.09,379.60 247.73,380.23 248.37,380.86 249.01,381.49 249.65,382.11 250.29,382.74 250.93,383.37 251.57,383.99 252.21,384.62 252.85,385.25 253.50,385.87 254.14,386.49 254.78,387.12 255.42,387.74 256.06,388.36 256.70,388.99 257.34,389.61 257.98,390.23 258.62,390.85 259.26,391.47 259.90,392.09 260.54,392.71 261.18,393.33 261.82,393.94 262.46,394.56 263.10,395.18 263.74,395.79 264.38,396.41 265.02,397.03 265.66,397.64 266.31,398.25 266.95,398.87 267.59,399.48 268.23,400.09 268.87,400.70 269.51,401.31 270.15,401.92 270.79,402.53 271.43,403.14 272.07,403.75 272.71,404.35 273.35,404.96 273.99,405.56 274.63,406.17 275.27,406.77 275.91,407.38 276.55,407.98 277.19,408.58 277.83,409.18 278.48,409.78 279.12,410.38 279.76,410.98 280.40,411.58 281.04,412.17 281.68,412.77 282.32,413.36 282.96,413.96 283.60,414.55 284.24,415.14 284.88,415.73 285.52,416.33 286.16,416.91 286.80,417.50 287.44,418.09 288.08,418.68 288.72,419.26 289.36,419.85 290.00,420.43 290.64,421.01 291.29,421.59 291.93,422.18 292.57,422.75 293.21,423.33 293.85,423.91 294.49,424.49 295.13,425.06 295.77,425.63 296.41,426.21 297.05,426.78 297.69,427.35 298.33,427.92 298.97,428.48 299.61,429.05 300.25,429.62 300.89,430.18 301.53,430.74 302.17,431.30 302.81,431.86 303.45,432.42 304.09,432.98 304.74,433.54 305.38,434.09 306.02,434.64 306.66,435.20 307.30,435.75 307.94,436.29 308.58,436.84 309.22,437.39 309.86,437.93 310.50,438.48 311.14,439.02 311.78,439.56 312.42,440.09 313.06,440.63 313.70,441.17 314.34,441.70 314.98,442.23 315.62,442.76 316.26,443.29 316.90,443.82 317.55,444.34 318.19,444.86 318.83,445.38 319.47,445.90 320.11,446.42 320.75,446.94 321.39,447.45 322.03,447.96 322.67,448.47 323.31,448.98 323.95,449.49 324.59,449.99 325.23,450.49 325.87,450.99 326.51,451.49 327.15,451.99 327.79,452.48 328.43,452.97 329.07,453.46 329.72,453.95 330.36,454.43 331.00,454.92 331.64,455.40 332.28,455.87 332.92,456.35 333.56,456.82 334.20,457.30 334.84,457.76 335.48,458.23 336.12,458.70 336.76,459.16 337.40,459.62 338.04,460.07 338.68,460.53 339.32,460.98 339.96,461.43 340.60,461.88 341.24,462.32 341.88,462.76 342.52,463.20 343.17,463.64 343.81,464.07 344.45,464.50 345.09,464.93 345.73,465.35 346.37,465.77 347.01,466.19 347.65,466.61 348.29,467.02 348.93,467.43 349.57,467.84 350.21,468.25 350.85,468.65 351.49,469.05 352.13,469.44 352.77,469.83 353.41,470.22 354.05,470.61 354.69,470.99 355.33,471.37 355.98,471.75 356.62,472.12 357.26,472.49 357.90,472.86 358.54,473.22 359.18,473.58 359.82,473.94 360.46,474.29 361.10,474.64 361.74,474.99 362.38,475.33 363.02,475.67 363.66,476.01 364.30,476.34 364.94,476.67 365.58,476.99 366.22,477.32 366.86,477.63 367.50,477.95 368.15,478.26 368.79,478.57 369.43,478.87 370.07,479.17 370.71,479.47 371.35,479.76 371.99,480.05 372.63,480.34 373.27,480.62 373.91,480.89 374.55,481.17 375.19,481.44 375.83,481.70 376.47,481.97 377.11,482.23 377.75,482.48 378.39,482.73 379.03,482.98 379.67,483.22 380.31,483.46 380.96,483.70 381.60,483.93 382.24,484.16 382.88,484.38 383.52,484.60 384.16,484.82 384.80,485.03 385.44,485.24 386.08,485.44 386.72,485.65 387.36,485.84 388.00,486.04 388.64,486.23 389.28,486.41 389.92,486.59 390.56,486.77 391.20,486.95 391.84,487.12 392.48,487.28 393.12,487.45 393.76,487.61 394.41,487.76 395.05,487.91 395.69,488.06 396.33,488.21 396.97,488.35 397.61,488.49 398.25,488.62 398.89,488.75 399.53,488.88 400.17,489.00 400.81,489.12 401.45,489.24 402.09,489.35 402.73,489.46 403.37,489.57 404.01,489.68 404.65,489.78 405.29,489.87 405.93,489.97 406.57,490.06 407.22,490.15 407.86,490.24 408.50,490.32 409.14,490.40 409.78,490.48 410.42,490.55 411.06,490.62 411.70,490.69 412.34,490.76 412.98,490.82 413.62,490.88 414.26,490.94 414.90,491.00 415.54,491.05 416.18,491.11 416.82,491.16 417.46,491.20 418.10,491.25 418.74,491.29 419.38,491.34 420.03,491.38 420.67,491.41 421.31,491.45 421.95,491.49 422.59,491.52 423.23,491.55 423.87,491.58 424.51,491.61 425.15,491.63 425.79,491.66 426.43,491.68 427.07,491.71 427.71,491.73 428.35,491.75 428.99,491.77 429.63,491.78 430.27,491.80 430.91,491.82 431.55,491.83 432.20,491.84 432.84,491.86 433.48,491.87 434.12,491.88 434.76,491.89 435.40,491.90 436.04,491.91 436.68,491.92 437.32,491.93 437.96,491.93 438.60,491.94" fill="none" stroke="#90C458" stroke-width="1.2"/><polyline points="438.60,254.72 439.24,254.38 439.88,254.05 440.52,253.71 441.16,253.38 441.80,253.04 442.44,252.70 443.08,252.37 443.72,252.03 444.36,251.69 445.00,251.35 445.64,251.01 446.28,250.68 446.92,250.34 447.56,250.00 448.20,249.66 448.83,249.32 449.47,248.98 450.11,248.64 450.75,248.30 451.39,247.96 452.03,247.62 452.67,247.28 453.31,246.94 453.95,246.60 454.59,246.26 455.23,245.92 455.87,245.57 456.51,245.23 457.15,244.89 457.79,244.55 458.43,244.20 459.07,243.86 459.71,243.52 460.35,243.17 460.99,242.83 461.63,242.48 462.27,242.14 462.91,241.79 463.55,241.45 464.19,241.10 464.83,240.75 465.47,240.41 466.11,240.06 466.75,239.71 467.38,239.36 468.02,239.02 468.66,238.67 469.30,238.32 469.94,237.97 470.58,237.62 471.22,237.27 471.86,236.92 472.50,236.57 473.14,236.22 473.78,235.86 474.42,235.51 475.06,235.16 475.70,234.81 476.34,234.45 476.98,234.10 477.62,233.74 478.26,233.39 478.90,233.03 479.54,232.68 480.18,232.32 480.82,231.96 481.46,231.61 482.10,231.25 482.74,230.89 483.38,230.53 484.02,230.17 484.66,229.81 485.30,229.45 485.94,229.09 486.58,228.73 487.21,228.37 487.85,228.01 488.49,227.64 489.13,227.28 489.77,226.92 490.41,226.55 491.05,226.19 491.69,225.82 492.33,225.46 492.97,225.09 493.61,224.72 494.25,224.35 494.89,223.98 495.53,223.61 496.17,223.24 496.81,222.87 497.45,222.50 498.09,222.13 498.73,221.76 499.37,221.38 500.01,221.01 500.65,220.63 501.29,220.26 501.93,219.88 502.57,219.50 503.21,219.13 503.85,218.75 504.49,218.37 505.13,217.99 505.76,217.61 506.40,217.23 507.04,216.84 507.68,216.46 508.32,216.07 508.96,215.69 509.60,215.30 510.24,214.92 510.88,214.53 511.52,214.14 512.16,213.75 512.80,213.36 513.44,212.97 514.08,212.58 514.72,212.19 515.36,211.79 516.00,211.40 516.64,211.00 517.28,210.60 517.92,210.21 518.56,209.81 519.20,209.41 519.84,209.01 520.48,208.61 521.12,208.20 521.76,207.80 522.40,207.39 523.04,206.99 523.68,206.58 524.32,206.17 524.95,205.76 525.59,205.35 526.23,204.94 526.87,204.53 527.51,204.12 528.15,203.70 528.79,203.29 529.43,202.87 530.07,202.45 530.71,202.03 531.35,201.61 531.99,201.19 532.63,200.76 533.27,200.34 533.91,199.91 534.55,199.49 535.19,199.06 535.83,198.63 536.47,198.20 537.11,197.76 537.75,197.33 538.39,196.90 539.03,196.46 539.67,196.02 540.31,195.58 540.95,195.14 541.59,194.70 542.23,194.26 542.87,193.81 543.51,193.36 544.14,192.92 544.78,192.47 545.42,192.02 546.06,191.56 546.70,191.11 547.34,190.65 547.98,190.20 548.62,189.74 549.26,189.28 549.90,188.82 550.54,188.35 551.18,187.89 551.82,187.42 552.46,186.95 553.10,186.48 553.74,186.01 554.38,185.54 555.02,185.06 555.66,184.59 556.30,184.11 556.94,183.63 557.58,183.15 558.22,182.66 558.86,182.18 559.50,181.69 560.14,181.20 560.78,180.71 561.42,180.22 562.06,179.73 562.70,179.23 563.34,178.73 563.97,178.23 564.61,177.73 565.25,177.23 565.89,176.72 566.53,176.22 567.17,175.71 567.81,175.20 568.45,174.69 569.09,174.17 569.73,173.66 570.37,173.14 571.01,172.62 571.65,172.10 572.29,171.57 572.93,171.05 573.57,170.52 574.21,169.99 574.85,169.46 575.49,168.93 576.13,168.39 576.77,167.86 577.41,167.32 578.05,166.78 578.69,166.24 579.33,165.69 579.97,165.15 580.61,164.60 581.25,164.05 581.89,163.50 582.52,162.94 583.16,162.39 583.80,161.83 584.44,161.27 585.08,160.71 585.72,160.15 586.36,159.58 587.00,159.02 587.64,158.45 588.28,157.88 588.92,157.31 589.56,156.73 590.20,156.16 590.84,155.58 591.48,155.00 592.12,154.42 592.76,153.84 593.40,153.26 594.04,152.67 594.68,152.09 595.32,151.50 595.96,150.91 596.60,150.32 597.24,149.72 597.88,149.13 598.52,148.53 599.16,147.94 599.80,147.34 600.44,146.74 601.08,146.13 601.72,145.53 602.35,144.93 602.99,144.32 603.63,143.71 604.27,143.10 604.91,142.49 605.55,141.88 606.19,141.27 606.83,140.66 607.47,140.04 608.11,139.43 608.75,138.81 609.39,138.19 610.03,137.57 610.67,136.95 611.31,136.33 611.95,135.71 612.59,135.09 613.23,134.46 613.87,133.84 614.51,133.21 615.15,132.58 615.79,131.96 616.43,131.33 617.07,130.70 617.71,130.07 618.35,129.44 618.99,128.81 619.63,128.18 620.27,127.54 620.90,126.91 621.54,126.28 622.18,125.64 622.82,125.01 623.46,124.37 624.10,123.74 624.74,123.10 625.38,122.47 626.02,121.83 626.66,121.19 627.30,120.55 627.94,119.92 628.58,119.28 629.22,118.64 629.86,118.00 630.50,117.36" fill="none" stroke="#9C58AF" stroke-width="1.2"/><polyline points="438.60,378.06 439.24,378.69 439.88,379.32 440.52,379.95 441.16,380.58 441.80,381.21 442.44,381.83 443.08,382.46 443.72,383.09 444.36,383.71 445.00,384.34 445.64,384.96 446.28,385.59 446.92,386.21 447.56,386.84 448.20,387.46 448.83,388.08 449.47,388.71 450.11,389.33 450.75,389.95 451.39,390.57 452.03,391.19 452.67,391.81 453.31,392.43 453.95,393.05 454.59,393.67 455.23,394.28 455.87,394.90 456.51,395.52 457.15,396.13 457.79,396.75 458.43,397.36 459.07,397.98 459.71,398.59 460.35,399.20 460.99,399.82 461.63,400.43 462.27,401.04 462.91,401.65 463.55,402.26 464.19,402.87 464.83,403.47 465.47,404.08 466.11,404.69 466.75,405.29 467.38,405.90 468.02,406.50 468.66,407.11 469.30,407.71 469.94,408.31 470.58,408.91 471.22,409.51 471.86,410.11 472.50,410.71 473.14,411.31 473.78,411.91 474.42,412.50 475.06,413.10 475.70,413.69 476.34,414.29 476.98,414.88 477.62,415.47 478.26,416.06 478.90,416.65 479.54,417.24 480.18,417.83 480.82,418.41 481.46,419.00 482.10,419.58 482.74,420.17 483.38,420.75 484.02,421.33 484.66,421.91 485.30,422.49 485.94,423.07 486.58,423.65 487.21,424.23 487.85,424.80 488.49,425.38 489.13,425.95 489.77,426.52 490.41,427.09 491.05,427.66 491.69,428.23 492.33,428.80 492.97,429.36 493.61,429.93 494.25,430.49 494.89,431.05 495.53,431.61 496.17,432.17 496.81,432.73 497.45,433.29 498.09,433.84 498.73,434.40 499.37,434.95 500.01,435.50 500.65,436.05 501.29,436.60 501.93,437.14 502.57,437.69 503.21,438.23 503.85,438.77 504.49,439.31 505.13,439.85 505.76,440.39 506.40,440.93 507.04,441.46 507.68,441.99 508.32,442.52 508.96,443.05 509.60,443.58 510.24,444.10 510.88,444.63 511.52,445.15 512.16,445.67 512.80,446.19 513.44,446.70 514.08,447.22 514.72,447.73 515.36,448.24 516.00,448.75 516.64,449.26 517.28,449.76 517.92,450.27 518.56,450.77 519.20,451.27 519.84,451.76 520.48,452.26 521.12,452.75 521.76,453.24 522.40,453.73 523.04,454.21 523.68,454.70 524.32,455.18 524.95,455.66 525.59,456.14 526.23,456.61 526.87,457.08 527.51,457.55 528.15,458.02 528.79,458.49 529.43,458.95 530.07,459.41 530.71,459.87 531.35,460.32 531.99,460.78 532.63,461.23 533.27,461.68 533.91,462.12 534.55,462.56 535.19,463.00 535.83,463.44 536.47,463.87 537.11,464.31 537.75,464.73 538.39,465.16 539.03,465.58 539.67,466.00 540.31,466.42 540.95,466.84 541.59,467.25 542.23,467.66 542.87,468.06 543.51,468.47 544.14,468.87 544.78,469.26 545.42,469.66 546.06,470.05 546.70,470.44 547.34,470.82 547.98,471.20 548.62,471.58 549.26,471.95 549.90,472.33 550.54,472.69 551.18,473.06 551.82,473.42 552.46,473.78 553.10,474.13 553.74,474.48 554.38,474.83 555.02,475.18 555.66,475.52 556.30,475.86 556.94,476.19 557.58,476.52 558.22,476.85 558.86,477.17 559.50,477.49 560.14,477.81 560.78,478.12 561.42,478.43 562.06,478.74 562.70,479.04 563.34,479.34 563.97,479.63 564.61,479.92 565.25,480.21 565.89,480.49 566.53,480.77 567.17,481.05 567.81,481.32 568.45,481.59 569.09,481.85 569.73,482.11 570.37,482.37 571.01,482.62 571.65,482.87 572.29,483.11 572.93,483.36 573.57,483.59 574.21,483.83 574.85,484.06 575.49,484.28 576.13,484.50 576.77,484.72 577.41,484.94 578.05,485.15 578.69,485.35 579.33,485.56 579.97,485.75 580.61,485.95 581.25,486.14 581.89,486.33 582.52,486.51 583.16,486.69 583.80,486.87 584.44,487.04 585.08,487.21 585.72,487.37 586.36,487.53 587.00,487.69 587.64,487.85 588.28,488.00 588.92,488.14 589.56,488.28 590.20,488.42 590.84,488.56 591.48,488.69 592.12,488.82 592.76,488.95 593.40,489.07 594.04,489.19 594.68,489.30 595.32,489.41 595.96,489.52 596.60,489.63 597.24,489.73 597.88,489.83 598.52,489.93 599.16,490.02 599.80,490.11 600.44,490.20 601.08,490.28 601.72,490.36 602.35,490.44 602.99,490.52 603.63,490.59 604.27,490.66 604.91,490.73 605.55,490.79 606.19,490.86 606.83,490.92 607.47,490.97 608.11,491.03 608.75,491.08 609.39,491.13 610.03,491.18 610.67,491.23 611.31,491.28 611.95,491.32 612.59,491.36 613.23,491.40 613.87,491.43 614.51,491.47 615.15,491.50 615.79,491.54 616.43,491.57 617.07,491.59 617.71,491.62 618.35,491.65 618.99,491.67 619.63,491.70 620.27,491.72 620.90,491.74 621.54,491.76 622.18,491.78 622.82,491.79 623.46,491.81 624.10,491.82 624.74,491.84 625.38,491.85 626.02,491.86 626.66,491.88 627.30,491.89 627.94,491.90 628.58,491.91 629.22,491.91 629.86,491.92 630.50,491.93" fill="none" stroke="#9C58AF" stroke-width="1.2"/><g stroke="#262626" stroke-width="1.25" stroke-opacity="0.5" fill="none"><rect x="52.70" y="32.00" width="193.75" height="85.40" fill="none"/><rect x="52.70" y="117.40" width="193.75" height="192.90" fill="none"/><rect x="52.70" y="310.30" width="193.75" height="192.40" fill="none"/><line x1="89.03" y1="32.00" x2="89.03" y2="34.00"/><line x1="89.03" y1="117.40" x2="89.03" y2="115.40"/><line x1="149.57" y1="32.00" x2="149.57" y2="34.00"/><line x1="149.57" y1="117.40" x2="149.57" y2="115.40"/><line x1="210.12" y1="32.00" x2="210.12" y2="34.00"/><line x1="210.12" y1="117.40" x2="210.12" y2="115.40"/><line x1="52.70" y1="117.40" x2="54.70" y2="117.40"/><line x1="246.45" y1="117.40" x2="244.45" y2="117.40"/><line x1="52.70" y1="83.24" x2="54.70" y2="83.24"/><line x1="246.45" y1="83.24" x2="244.45" y2="83.24"/><line x1="52.70" y1="49.08" x2="54.70" y2="49.08"/><line x1="246.45" y1="49.08" x2="244.45" y2="49.08"/><line x1="52.70" y1="117.40" x2="52.70" y2="119.40"/><line x1="52.70" y1="310.30" x2="52.70" y2="308.30"/><line x1="52.70" y1="310.30" x2="52.70" y2="312.30"/><line x1="52.70" y1="502.70" x2="52.70" y2="500.70"/><line x1="68.46" y1="117.40" x2="68.46" y2="118.60"/><line x1="68.46" y1="310.30" x2="68.46" y2="309.10"/><line x1="68.46" y1="310.30" x2="68.46" y2="311.50"/><line x1="68.46" y1="502.70" x2="68.46" y2="501.50"/><line x1="77.68" y1="117.40" x2="77.68" y2="118.60"/><line x1="77.68" y1="310.30" x2="77.68" y2="309.10"/><line x1="77.68" y1="310.30" x2="77.68" y2="311.50"/><line x1="77.68" y1="502.70" x2="77.68" y2="501.50"/><line x1="84.23" y1="117.40" x2="84.23" y2="118.60"/><line x1="84.23" y1="310.30" x2="84.23" y2="309.10"/><line x1="84.23" y1="310.30" x2="84.23" y2="311.50"/><line x1="84.23" y1="502.70" x2="84.23" y2="501.50"/><line x1="89.30" y1="117.40" x2="89.30" y2="118.60"/><line x1="89.30" y1="310.30" x2="89.30" y2="309.10"/><line x1="89.30" y1="310.30" x2="89.30" y2="311.50"/><line x1="89.30" y1="502.70" x2="89.30" y2="501.50"/><line x1="93.45" y1="117.40" x2="93.45" y2="118.60"/><line x1="93.45" y1="310.30" x2="93.45" y2="309.10"/><line x1="93.45" y1="310.30" x2="93.45" y2="311.50"/><line x1="93.45" y1="502.70" x2="93.45" y2="501.50"/><line x1="96.95" y1="117.40" x2="96.95" y2="118.60"/><line x1="96.95" y1="310.30" x2="96.95" y2="309.10"/><line x1="96.95" y1="310.30" x2="96.95" y2="311.50"/><line x1="96.95" y1="502.70" x2="96.95" y2="501.50"/><line x1="99.99" y1="117.40" x2="99.99" y2="118.60"/><line x1="99.99" y1="310.30" x2="99.99" y2="309.10"/><line x1="99.99" y1="310.30" x2="99.99" y2="311.50"/><line x1="99.99" y1="502.70" x2="99.99" y2="501.50"/><line x1="102.67" y1="117.40" x2="102.67" y2="118.60"/><line x1="102.67" y1="310.30" x2="102.67" y2="309.10"/><line x1="102.67" y1="310.30" x2="102.67" y2="311.50"/><line x1="102.67" y1="502.70" x2="102.67" y2="501.50"/><line x1="105.06" y1="117.40" x2="105.06" y2="119.40"/><line x1="105.06" y1="310.30" x2="105.06" y2="308.30"/><line x1="105.06" y1="310.30" x2="105.06" y2="312.30"/><line x1="105.06" y1="502.70" x2="105.06" y2="500.70"/><line x1="120.83" y1="117.40" x2="120.83" y2="118.60"/><line x1="120.83" y1="310.30" x2="120.83" y2="309.10"/><line x1="120.83" y1="310.30" x2="120.83" y2="311.50"/><line x1="120.83" y1="502.70" x2="120.83" y2="501.50"/><line x1="130.05" y1="117.40" x2="130.05" y2="118.60"/><line x1="130.05" y1="310.30" x2="130.05" y2="309.10"/><line x1="130.05" y1="310.30" x2="130.05" y2="311.50"/><line x1="130.05" y1="502.70" x2="130.05" y2="501.50"/><line x1="136.59" y1="117.40" x2="136.59" y2="118.60"/><line x1="136.59" y1="310.30" x2="136.59" y2="309.10"/><line x1="136.59" y1="310.30" x2="136.59" y2="311.50"/><line x1="136.59" y1="502.70" x2="136.59" y2="501.50"/><line x1="141.67" y1="117.40" x2="141.67" y2="118.60"/><line x1="141.67" y1="310.30" x2="141.67" y2="309.10"/><line x1="141.67" y1="310.30" x2="141.67" y2="311.50"/><line x1="141.67" y1="502.70" x2="141.67" y2="501.50"/><line x1="145.81" y1="117.40" x2="145.81" y2="118.60"/><line x1="145.81" y1="310.30" x2="145.81" y2="309.10"/><line x1="145.81" y1="310.30" x2="145.81" y2="311.50"/><line x1="145.81" y1="502.70" x2="145.81" y2="501.50"/><line x1="149.32" y1="117.40" x2="149.32" y2="118.60"/><line x1="149.32" y1="310.30" x2="149.32" y2="309.10"/><line x1="149.32" y1="310.30" x2="149.32" y2="311.50"/><line x1="149.32" y1="502.70" x2="149.32" y2="501.50"/><line x1="152.36" y1="117.40" x2="152.36" y2="118.60"/><line x1="152.36" y1="310.30" x2="152.36" y2="309.10"/><line x1="152.36" y1="310.30" x2="152.36" y2="311.50"/><line x1="152.36" y1="502.70" x2="152.36" y2="501.50"/><line x1="155.03" y1="117.40" x2="155.03" y2="118.60"/><line x1="155.03" y1="310.30" x2="155.03" y2="309.10"/><line x1="155.03" y1="310.30" x2="155.03" y2="311.50"/><line x1="155.03" y1="502.70" x2="155.03" y2="501.50"/><line x1="157.43" y1="117.40" x2="157.43" y2="119.40"/><line x1="157.43" y1="310.30" x2="157.43" y2="308.30"/><line x1="157.43" y1="310.30" x2="157.43" y2="312.30"/><line x1="157.43" y1="502.70" x2="157.43" y2="500.70"/><line x1="173.19" y1="117.40" x2="173.19" y2="118.60"/><line x1="173.19" y1="310.30" x2="173.19" y2="309.10"/><line x1="173.19" y1="310.30" x2="173.19" y2="311.50"/><line x1="173.19" y1="502.70" x2="173.19" y2="501.50"/><line x1="182.41" y1="117.40" x2="182.41" y2="118.60"/><line x1="182.41" y1="310.30" x2="182.41" y2="309.10"/><line x1="182.41" y1="310.30" x2="182.41" y2="311.50"/><line x1="182.41" y1="502.70" x2="182.41" y2="501.50"/><line x1="188.96" y1="117.40" x2="188.96" y2="118.60"/><line x1="188.96" y1="310.30" x2="188.96" y2="309.10"/><line x1="188.96" y1="310.30" x2="188.96" y2="311.50"/><line x1="188.96" y1="502.70" x2="188.96" y2="501.50"/><line x1="194.03" y1="117.40" x2="194.03" y2="118.60"/><line x1="194.03" y1="310.30" x2="194.03" y2="309.10"/><line x1="194.03" y1="310.30" x2="194.03" y2="311.50"/><line x1="194.03" y1="502.70" x2="194.03" y2="501.50"/><line x1="198.18" y1="117.40" x2="198.18" y2="118.60"/><line x1="198.18" y1="310.30" x2="198.18" y2="309.10"/><line x1="198.18" y1="310.30" x2="198.18" y2="311.50"/><line x1="198.18" y1="502.70" x2="198.18" y2="501.50"/><line x1="201.68" y1="117.40" x2="201.68" y2="118.60"/><line x1="201.68" y1="310.30" x2="201.68" y2="309.10"/><line x1="201.68" y1="310.30" x2="201.68" y2="311.50"/><line x1="201.68" y1="502.70" x2="201.68" y2="501.50"/><line x1="204.72" y1="117.40" x2="204.72" y2="118.60"/><line x1="204.72" y1="310.30" x2="204.72" y2="309.10"/><line x1="204.72" y1="310.30" x2="204.72" y2="311.50"/><line x1="204.72" y1="502.70" x2="204.72" y2="501.50"/><line x1="207.40" y1="117.40" x2="207.40" y2="118.60"/><line x1="207.40" y1="310.30" x2="207.40" y2="309.10"/><line x1="207.40" y1="310.30" x2="207.40" y2="311.50"/><line x1="207.40" y1="502.70" x2="207.40" y2="501.50"/><line x1="209.79" y1="117.40" x2="209.79" y2="119.40"/><line x1="209.79" y1="310.30" x2="209.79" y2="308.30"/><line x1="209.79" y1="310.30" x2="209.79" y2="312.30"/><line x1="209.79" y1="502.70" x2="209.79" y2="500.70"/><line x1="225.56" y1="117.40" x2="225.56" y2="118.60"/><line x1="225.56" y1="310.30" x2="225.56" y2="309.10"/><line x1="225.56" y1="310.30" x2="225.56" y2="311.50"/><line x1="225.56" y1="502.70" x2="225.56" y2="501.50"/><line x1="234.78" y1="117.40" x2="234.78" y2="118.60"/><line x1="234.78" y1="310.30" x2="234.78" y2="309.10"/><line x1="234.78" y1="310.30" x2="234.78" y2="311.50"/><line x1="234.78" y1="502.70" x2="234.78" y2="501.50"/><line x1="241.32" y1="117.40" x2="241.32" y2="118.60"/><line x1="241.32" y1="310.30" x2="241.32" y2="309.10"/><line x1="241.32" y1="310.30" x2="241.32" y2="311.50"/><line x1="241.32" y1="502.70" x2="241.32" y2="501.50"/><line x1="246.40" y1="117.40" x2="246.40" y2="118.60"/><line x1="246.40" y1="310.30" x2="246.40" y2="309.10"/><line x1="246.40" y1="310.30" x2="246.40" y2="311.50"/><line x1="246.40" y1="502.70" x2="246.40" y2="501.50"/><line x1="52.70" y1="310.30" x2="54.70" y2="310.30"/><line x1="246.45" y1="310.30" x2="244.45" y2="310.30"/><line x1="52.70" y1="294.61" x2="53.90" y2="294.61"/><line x1="246.45" y1="294.61" x2="245.25" y2="294.61"/><line x1="52.70" y1="285.43" x2="53.90" y2="285.43"/><line x1="246.45" y1="285.43" x2="245.25" y2="285.43"/><line x1="52.70" y1="278.91" x2="53.90" y2="278.91"/><line x1="246.45" y1="278.91" x2="245.25" y2="278.91"/><line x1="52.70" y1="273.86" x2="53.90" y2="273.86"/><line x1="246.45" y1="273.86" x2="245.25" y2="273.86"/><line x1="52.70" y1="269.73" x2="53.90" y2="269.73"/><line x1="246.45" y1="269.73" x2="245.25" y2="269.73"/><line x1="52.70" y1="266.24" x2="53.90" y2="266.24"/><line x1="246.45" y1="266.24" x2="245.25" y2="266.24"/><line x1="52.70" y1="263.22" x2="53.90" y2="263.22"/><line x1="246.45" y1="263.22" x2="245.25" y2="263.22"/><line x1="52.70" y1="260.55" x2="53.90" y2="260.55"/><line x1="246.45" y1="260.55" x2="245.25" y2="260.55"/><line x1="52.70" y1="258.16" x2="54.70" y2="258.16"/><line x1="246.45" y1="258.16" x2="244.45" y2="258.16"/><line x1="52.70" y1="242.47" x2="53.90" y2="242.47"/><line x1="246.45" y1="242.47" x2="245.25" y2="242.47"/><line x1="52.70" y1="233.29" x2="53.90" y2="233.29"/><line x1="246.45" y1="233.29" x2="245.25" y2="233.29"/><line x1="52.70" y1="226.78" x2="53.90" y2="226.78"/><line x1="246.45" y1="226.78" x2="245.25" y2="226.78"/><line x1="52.70" y1="221.72" x2="53.90" y2="221.72"/><line x1="246.45" y1="221.72" x2="245.25" y2="221.72"/><line x1="52.70" y1="217.60" x2="53.90" y2="217.60"/><line x1="246.45" y1="217.60" x2="245.25" y2="217.60"/><line x1="52.70" y1="214.11" x2="53.90" y2="214.11"/><line x1="246.45" y1="214.11" x2="245.25" y2="214.11"/><line x1="52.70" y1="211.08" x2="53.90" y2="211.08"/><line x1="246.45" y1="211.08" x2="245.25" y2="211.08"/><line x1="52.70" y1="208.42" x2="53.90" y2="208.42"/><line x1="246.45" y1="208.42" x2="245.25" y2="208.42"/><line x1="52.70" y1="206.03" x2="54.70" y2="206.03"/><line x1="246.45" y1="206.03" x2="244.45" y2="206.03"/><line x1="52.70" y1="190.34" x2="53.90" y2="190.34"/><line x1="246.45" y1="190.34" x2="245.25" y2="190.34"/><line x1="52.70" y1="181.15" x2="53.90" y2="181.15"/><line x1="246.45" y1="181.15" x2="245.25" y2="181.15"/><line x1="52.70" y1="174.64" x2="53.90" y2="174.64"/><line x1="246.45" y1="174.64" x2="245.25" y2="174.64"/><line x1="52.70" y1="169.59" x2="53.90" y2="169.59"/><line x1="246.45" y1="169.59" x2="245.25" y2="169.59"/><line x1="52.70" y1="165.46" x2="53.90" y2="165.46"/><line x1="246.45" y1="165.46" x2="245.25" y2="165.46"/><line x1="52.70" y1="161.97" x2="53.90" y2="161.97"/><line x1="246.45" y1="161.97" x2="245.25" y2="161.97"/><line x1="52.70" y1="158.95" x2="53.90" y2="158.95"/><line x1="246.45" y1="158.95" x2="245.25" y2="158.95"/><line x1="52.70" y1="156.28" x2="53.90" y2="156.28"/><line x1="246.45" y1="156.28" x2="245.25" y2="156.28"/><line x1="52.70" y1="153.89" x2="54.70" y2="153.89"/><line x1="246.45" y1="153.89" x2="244.45" y2="153.89"/><line x1="52.70" y1="138.20" x2="53.90" y2="138.20"/><line x1="246.45" y1="138.20" x2="245.25" y2="138.20"/><line x1="52.70" y1="129.02" x2="53.90" y2="129.02"/><line x1="246.45" y1="129.02" x2="245.25" y2="129.02"/><line x1="52.70" y1="122.51" x2="53.90" y2="122.51"/><line x1="246.45" y1="122.51" x2="245.25" y2="122.51"/><line x1="52.70" y1="117.45" x2="53.90" y2="117.45"/><line x1="246.45" y1="117.45" x2="245.25" y2="117.45"/><line x1="52.70" y1="502.37" x2="53.90" y2="502.37"/><line x1="246.45" y1="502.37" x2="245.25" y2="502.37"/><line x1="52.70" y1="496.90" x2="53.90" y2="496.90"/><line x1="246.45" y1="496.90" x2="245.25" y2="496.90"/><line x1="52.70" y1="492.01" x2="54.70" y2="492.01"/><line x1="246.45" y1="492.01" x2="244.45" y2="492.01"/><line x1="52.70" y1="459.83" x2="54.70" y2="459.83"/><line x1="246.45" y1="459.83" x2="244.45" y2="459.83"/><line x1="52.70" y1="441.01" x2="53.90" y2="441.01"/><line x1="246.45" y1="441.01" x2="245.25" y2="441.01"/><line x1="52.70" y1="427.66" x2="53.90" y2="427.66"/><line x1="246.45" y1="427.66" x2="245.25" y2="427.66"/><line x1="52.70" y1="417.30" x2="54.70" y2="417.30"/><line x1="246.45" y1="417.30" x2="244.45" y2="417.30"/><line x1="52.70" y1="408.84" x2="53.90" y2="408.84"/><line x1="246.45" y1="408.84" x2="245.25" y2="408.84"/><line x1="52.70" y1="401.68" x2="53.90" y2="401.68"/><line x1="246.45" y1="401.68" x2="245.25" y2="401.68"/><line x1="52.70" y1="395.48" x2="53.90" y2="395.48"/><line x1="246.45" y1="395.48" x2="245.25" y2="395.48"/><line x1="52.70" y1="390.01" x2="53.90" y2="390.01"/><line x1="246.45" y1="390.01" x2="245.25" y2="390.01"/><line x1="52.70" y1="385.12" x2="54.70" y2="385.12"/><line x1="246.45" y1="385.12" x2="244.45" y2="385.12"/><line x1="52.70" y1="352.95" x2="54.70" y2="352.95"/><line x1="246.45" y1="352.95" x2="244.45" y2="352.95"/><line x1="52.70" y1="334.12" x2="53.90" y2="334.12"/><line x1="246.45" y1="334.12" x2="245.25" y2="334.12"/><line x1="52.70" y1="320.77" x2="53.90" y2="320.77"/><line x1="246.45" y1="320.77" x2="245.25" y2="320.77"/><line x1="52.70" y1="310.41" x2="54.70" y2="310.41"/><line x1="246.45" y1="310.41" x2="244.45" y2="310.41"/><rect x="246.45" y="32.00" width="192.15" height="85.40" fill="none"/><rect x="246.45" y="117.40" width="192.15" height="192.90" fill="none"/><rect x="246.45" y="310.30" width="192.15" height="192.40" fill="none"/><line x1="282.48" y1="32.00" x2="282.48" y2="34.00"/><line x1="282.48" y1="117.40" x2="282.48" y2="115.40"/><line x1="342.52" y1="32.00" x2="342.52" y2="34.00"/><line x1="342.52" y1="117.40" x2="342.52" y2="115.40"/><line x1="402.57" y1="32.00" x2="402.57" y2="34.00"/><line x1="402.57" y1="117.40" x2="402.57" y2="115.40"/><line x1="246.45" y1="117.40" x2="248.45" y2="117.40"/><line x1="438.60" y1="117.40" x2="436.60" y2="117.40"/><line x1="246.45" y1="83.24" x2="248.45" y2="83.24"/><line x1="438.60" y1="83.24" x2="436.60" y2="83.24"/><line x1="246.45" y1="49.08" x2="248.45" y2="49.08"/><line x1="438.60" y1="49.08" x2="436.60" y2="49.08"/><line x1="246.45" y1="117.40" x2="246.45" y2="119.40"/><line x1="246.45" y1="310.30" x2="246.45" y2="308.30"/><line x1="246.45" y1="310.30" x2="246.45" y2="312.30"/><line x1="246.45" y1="502.70" x2="246.45" y2="500.70"/><line x1="262.08" y1="117.40" x2="262.08" y2="118.60"/><line x1="262.08" y1="310.30" x2="262.08" y2="309.10"/><line x1="262.08" y1="310.30" x2="262.08" y2="311.50"/><line x1="262.08" y1="502.70" x2="262.08" y2="501.50"/><line x1="271.23" y1="117.40" x2="271.23" y2="118.60"/><line x1="271.23" y1="310.30" x2="271.23" y2="309.10"/><line x1="271.23" y1="310.30" x2="271.23" y2="311.50"/><line x1="271.23" y1="502.70" x2="271.23" y2="501.50"/><line x1="277.72" y1="117.40" x2="277.72" y2="118.60"/><line x1="277.72" y1="310.30" x2="277.72" y2="309.10"/><line x1="277.72" y1="310.30" x2="277.72" y2="311.50"/><line x1="277.72" y1="502.70" x2="277.72" y2="501.50"/><line x1="282.75" y1="117.40" x2="282.75" y2="118.60"/><line x1="282.75" y1="310.30" x2="282.75" y2="309.10"/><line x1="282.75" y1="310.30" x2="282.75" y2="311.50"/><line x1="282.75" y1="502.70" x2="282.75" y2="501.50"/><line x1="286.86" y1="117.40" x2="286.86" y2="118.60"/><line x1="286.86" y1="310.30" x2="286.86" y2="309.10"/><line x1="286.86" y1="310.30" x2="286.86" y2="311.50"/><line x1="286.86" y1="502.70" x2="286.86" y2="501.50"/><line x1="290.34" y1="117.40" x2="290.34" y2="118.60"/><line x1="290.34" y1="310.30" x2="290.34" y2="309.10"/><line x1="290.34" y1="310.30" x2="290.34" y2="311.50"/><line x1="290.34" y1="502.70" x2="290.34" y2="501.50"/><line x1="293.35" y1="117.40" x2="293.35" y2="118.60"/><line x1="293.35" y1="310.30" x2="293.35" y2="309.10"/><line x1="293.35" y1="310.30" x2="293.35" y2="311.50"/><line x1="293.35" y1="502.70" x2="293.35" y2="501.50"/><line x1="296.01" y1="117.40" x2="296.01" y2="118.60"/><line x1="296.01" y1="310.30" x2="296.01" y2="309.10"/><line x1="296.01" y1="310.30" x2="296.01" y2="311.50"/><line x1="296.01" y1="502.70" x2="296.01" y2="501.50"/><line x1="298.38" y1="117.40" x2="298.38" y2="119.40"/><line x1="298.38" y1="310.30" x2="298.38" y2="308.30"/><line x1="298.38" y1="310.30" x2="298.38" y2="312.30"/><line x1="298.38" y1="502.70" x2="298.38" y2="500.70"/><line x1="314.02" y1="117.40" x2="314.02" y2="118.60"/><line x1="314.02" y1="310.30" x2="314.02" y2="309.10"/><line x1="314.02" y1="310.30" x2="314.02" y2="311.50"/><line x1="314.02" y1="502.70" x2="314.02" y2="501.50"/><line x1="323.16" y1="117.40" x2="323.16" y2="118.60"/><line x1="323.16" y1="310.30" x2="323.16" y2="309.10"/><line x1="323.16" y1="310.30" x2="323.16" y2="311.50"/><line x1="323.16" y1="502.70" x2="323.16" y2="501.50"/><line x1="329.65" y1="117.40" x2="329.65" y2="118.60"/><line x1="329.65" y1="310.30" x2="329.65" y2="309.10"/><line x1="329.65" y1="310.30" x2="329.65" y2="311.50"/><line x1="329.65" y1="502.70" x2="329.65" y2="501.50"/><line x1="334.68" y1="117.40" x2="334.68" y2="118.60"/><line x1="334.68" y1="310.30" x2="334.68" y2="309.10"/><line x1="334.68" y1="310.30" x2="334.68" y2="311.50"/><line x1="334.68" y1="502.70" x2="334.68" y2="501.50"/><line x1="338.79" y1="117.40" x2="338.79" y2="118.60"/><line x1="338.79" y1="310.30" x2="338.79" y2="309.10"/><line x1="338.79" y1="310.30" x2="338.79" y2="311.50"/><line x1="338.79" y1="502.70" x2="338.79" y2="501.50"/><line x1="342.27" y1="117.40" x2="342.27" y2="118.60"/><line x1="342.27" y1="310.30" x2="342.27" y2="309.10"/><line x1="342.27" y1="310.30" x2="342.27" y2="311.50"/><line x1="342.27" y1="502.70" x2="342.27" y2="501.50"/><line x1="345.28" y1="117.40" x2="345.28" y2="118.60"/><line x1="345.28" y1="310.30" x2="345.28" y2="309.10"/><line x1="345.28" y1="310.30" x2="345.28" y2="311.50"/><line x1="345.28" y1="502.70" x2="345.28" y2="501.50"/><line x1="347.94" y1="117.40" x2="347.94" y2="118.60"/><line x1="347.94" y1="310.30" x2="347.94" y2="309.10"/><line x1="347.94" y1="310.30" x2="347.94" y2="311.50"/><line x1="347.94" y1="502.70" x2="347.94" y2="501.50"/><line x1="350.31" y1="117.40" x2="350.31" y2="119.40"/><line x1="350.31" y1="310.30" x2="350.31" y2="308.30"/><line x1="350.31" y1="310.30" x2="350.31" y2="312.30"/><line x1="350.31" y1="502.70" x2="350.31" y2="500.70"/><line x1="365.95" y1="117.40" x2="365.95" y2="118.60"/><line x1="365.95" y1="310.30" x2="365.95" y2="309.10"/><line x1="365.95" y1="310.30" x2="365.95" y2="311.50"/><line x1="365.95" y1="502.70" x2="365.95" y2="501.50"/><line x1="375.09" y1="117.40" x2="375.09" y2="118.60"/><line x1="375.09" y1="310.30" x2="375.09" y2="309.10"/><line x1="375.09" y1="310.30" x2="375.09" y2="311.50"/><line x1="375.09" y1="502.70" x2="375.09" y2="501.50"/><line x1="381.58" y1="117.40" x2="381.58" y2="118.60"/><line x1="381.58" y1="310.30" x2="381.58" y2="309.10"/><line x1="381.58" y1="310.30" x2="381.58" y2="311.50"/><line x1="381.58" y1="502.70" x2="381.58" y2="501.50"/><line x1="386.61" y1="117.40" x2="386.61" y2="118.60"/><line x1="386.61" y1="310.30" x2="386.61" y2="309.10"/><line x1="386.61" y1="310.30" x2="386.61" y2="311.50"/><line x1="386.61" y1="502.70" x2="386.61" y2="501.50"/><line x1="390.73" y1="117.40" x2="390.73" y2="118.60"/><line x1="390.73" y1="310.30" x2="390.73" y2="309.10"/><line x1="390.73" y1="310.30" x2="390.73" y2="311.50"/><line x1="390.73" y1="502.70" x2="390.73" y2="501.50"/><line x1="394.20" y1="117.40" x2="394.20" y2="118.60"/><line x1="394.20" y1="310.30" x2="394.20" y2="309.10"/><line x1="394.20" y1="310.30" x2="394.20" y2="311.50"/><line x1="394.20" y1="502.70" x2="394.20" y2="501.50"/><line x1="397.21" y1="117.40" x2="397.21" y2="118.60"/><line x1="397.21" y1="310.30" x2="397.21" y2="309.10"/><line x1="397.21" y1="310.30" x2="397.21" y2="311.50"/><line x1="397.21" y1="502.70" x2="397.21" y2="501.50"/><line x1="399.87" y1="117.40" x2="399.87" y2="118.60"/><line x1="399.87" y1="310.30" x2="399.87" y2="309.10"/><line x1="399.87" y1="310.30" x2="399.87" y2="311.50"/><line x1="399.87" y1="502.70" x2="399.87" y2="501.50"/><line x1="402.25" y1="117.40" x2="402.25" y2="119.40"/><line x1="402.25" y1="310.30" x2="402.25" y2="308.30"/><line x1="402.25" y1="310.30" x2="402.25" y2="312.30"/><line x1="402.25" y1="502.70" x2="402.25" y2="500.70"/><line x1="417.88" y1="117.40" x2="417.88" y2="118.60"/><line x1="417.88" y1="310.30" x2="417.88" y2="309.10"/><line x1="417.88" y1="310.30" x2="417.88" y2="311.50"/><line x1="417.88" y1="502.70" x2="417.88" y2="501.50"/><line x1="427.03" y1="117.40" x2="427.03" y2="118.60"/><line x1="427.03" y1="310.30" x2="427.03" y2="309.10"/><line x1="427.03" y1="310.30" x2="427.03" y2="311.50"/><line x1="427.03" y1="502.70" x2="427.03" y2="501.50"/><line x1="433.51" y1="117.40" x2="433.51" y2="118.60"/><line x1="433.51" y1="310.30" x2="433.51" y2="309.10"/><line x1="433.51" y1="310.30" x2="433.51" y2="311.50"/><line x1="433.51" y1="502.70" x2="433.51" y2="501.50"/><line x1="438.55" y1="117.40" x2="438.55" y2="118.60"/><line x1="438.55" y1="310.30" x2="438.55" y2="309.10"/><line x1="438.55" y1="310.30" x2="438.55" y2="311.50"/><line x1="438.55" y1="502.70" x2="438.55" y2="501.50"/><line x1="246.45" y1="310.30" x2="248.45" y2="310.30"/><line x1="438.60" y1="310.30" x2="436.60" y2="310.30"/><line x1="246.45" y1="294.61" x2="247.65" y2="294.61"/><line x1="438.60" y1="294.61" x2="437.40" y2="294.61"/><line x1="246.45" y1="285.43" x2="247.65" y2="285.43"/><line x1="438.60" y1="285.43" x2="437.40" y2="285.43"/><line x1="246.45" y1="278.91" x2="247.65" y2="278.91"/><line x1="438.60" y1="278.91" x2="437.40" y2="278.91"/><line x1="246.45" y1="273.86" x2="247.65" y2="273.86"/><line x1="438.60" y1="273.86" x2="437.40" y2="273.86"/><line x1="246.45" y1="269.73" x2="247.65" y2="269.73"/><line x1="438.60" y1="269.73" x2="437.40" y2="269.73"/><line x1="246.45" y1="266.24" x2="247.65" y2="266.24"/><line x1="438.60" y1="266.24" x2="437.40" y2="266.24"/><line x1="246.45" y1="263.22" x2="247.65" y2="263.22"/><line x1="438.60" y1="263.22" x2="437.40" y2="263.22"/><line x1="246.45" y1="260.55" x2="247.65" y2="260.55"/><line x1="438.60" y1="260.55" x2="437.40" y2="260.55"/><line x1="246.45" y1="258.16" x2="248.45" y2="258.16"/><line x1="438.60" y1="258.16" x2="436.60" y2="258.16"/><line x1="246.45" y1="242.47" x2="247.65" y2="242.47"/><line x1="438.60" y1="242.47" x2="437.40" y2="242.47"/><line x1="246.45" y1="233.29" x2="247.65" y2="233.29"/><line x1="438.60" y1="233.29" x2="437.40" y2="233.29"/><line x1="246.45" y1="226.78" x2="247.65" y2="226.78"/><line x1="438.60" y1="226.78" x2="437.40" y2="226.78"/><line x1="246.45" y1="221.72" x2="247.65" y2="221.72"/><line x1="438.60" y1="221.72" x2="437.40" y2="221.72"/><line x1="246.45" y1="217.60" x2="247.65" y2="217.60"/><line x1="438.60" y1="217.60" x2="437.40" y2="217.60"/><line x1="246.45" y1="214.11" x2="247.65" y2="214.11"/><line x1="438.60" y1="214.11" x2="437.40" y2="214.11"/><line x1="246.45" y1="211.08" x2="247.65" y2="211.08"/><line x1="438.60" y1="211.08" x2="437.40" y2="211.08"/><line x1="246.45" y1="208.42" x2="247.65" y2="208.42"/><line x1="438.60" y1="208.42" x2="437.40" y2="208.42"/><line x1="246.45" y1="206.03" x2="248.45" y2="206.03"/><line x1="438.60" y1="206.03" x2="436.60" y2="206.03"/><line x1="246.45" y1="190.34" x2="247.65" y2="190.34"/><line x1="438.60" y1="190.34" x2="437.40" y2="190.34"/><line x1="246.45" y1="181.15" x2="247.65" y2="181.15"/><line x1="438.60" y1="181.15" x2="437.40" y2="181.15"/><line x1="246.45" y1="174.64" x2="247.65" y2="174.64"/><line x1="438.60" y1="174.64" x2="437.40" y2="174.64"/><line x1="246.45" y1="169.59" x2="247.65" y2="169.59"/><line x1="438.60" y1="169.59" x2="437.40" y2="169.59"/><line x1="246.45" y1="165.46" x2="247.65" y2="165.46"/><line x1="438.60" y1="165.46" x2="437.40" y2="165.46"/><line x1="246.45" y1="161.97" x2="247.65" y2="161.97"/><line x1="438.60" y1="161.97" x2="437.40" y2="161.97"/><line x1="246.45" y1="158.95" x2="247.65" y2="158.95"/><line x1="438.60" y1="158.95" x2="437.40" y2="158.95"/><line x1="246.45" y1="156.28" x2="247.65" y2="156.28"/><line x1="438.60" y1="156.28" x2="437.40" y2="156.28"/><line x1="246.45" y1="153.89" x2="248.45" y2="153.89"/><line x1="438.60" y1="153.89" x2="436.60" y2="153.89"/><line x1="246.45" y1="138.20" x2="247.65" y2="138.20"/><line x1="438.60" y1="138.20" x2="437.40" y2="138.20"/><line x1="246.45" y1="129.02" x2="247.65" y2="129.02"/><line x1="438.60" y1="129.02" x2="437.40" y2="129.02"/><line x1="246.45" y1="122.51" x2="247.65" y2="122.51"/><line x1="438.60" y1="122.51" x2="437.40" y2="122.51"/><line x1="246.45" y1="117.45" x2="247.65" y2="117.45"/><line x1="438.60" y1="117.45" x2="437.40" y2="117.45"/><line x1="246.45" y1="502.37" x2="247.65" y2="502.37"/><line x1="438.60" y1="502.37" x2="437.40" y2="502.37"/><line x1="246.45" y1="496.90" x2="247.65" y2="496.90"/><line x1="438.60" y1="496.90" x2="437.40" y2="496.90"/><line x1="246.45" y1="492.01" x2="248.45" y2="492.01"/><line x1="438.60" y1="492.01" x2="436.60" y2="492.01"/><line x1="246.45" y1="459.83" x2="248.45" y2="459.83"/><line x1="438.60" y1="459.83" x2="436.60" y2="459.83"/><line x1="246.45" y1="441.01" x2="247.65" y2="441.01"/><line x1="438.60" y1="441.01" x2="437.40" y2="441.01"/><line x1="246.45" y1="427.66" x2="247.65" y2="427.66"/><line x1="438.60" y1="427.66" x2="437.40" y2="427.66"/><line x1="246.45" y1="417.30" x2="248.45" y2="417.30"/><line x1="438.60" y1="417.30" x2="436.60" y2="417.30"/><line x1="246.45" y1="408.84" x2="247.65" y2="408.84"/><line x1="438.60" y1="408.84" x2="437.40" y2="408.84"/><line x1="246.45" y1="401.68" x2="247.65" y2="401.68"/><line x1="438.60" y1="401.68" x2="437.40" y2="401.68"/><line x1="246.45" y1="395.48" x2="247.65" y2="395.48"/><line x1="438.60" y1="395.48" x2="437.40" y2="395.48"/><line x1="246.45" y1="390.01" x2="247.65" y2="390.01"/><line x1="438.60" y1="390.01" x2="437.40" y2="390.01"/><line x1="246.45" y1="385.12" x2="248.45" y2="385.12"/><line x1="438.60" y1="385.12" x2="436.60" y2="385.12"/><line x1="246.45" y1="352.95" x2="248.45" y2="352.95"/><line x1="438.60" y1="352.95" x2="436.60" y2="352.95"/><line x1="246.45" y1="334.12" x2="247.65" y2="334.12"/><line x1="438.60" y1="334.12" x2="437.40" y2="334.12"/><line x1="246.45" y1="320.77" x2="247.65" y2="320.77"/><line x1="438.60" y1="320.77" x2="437.40" y2="320.77"/><line x1="246.45" y1="310.41" x2="248.45" y2="310.41"/><line x1="438.60" y1="310.41" x2="436.60" y2="310.41"/><rect x="438.60" y="32.00" width="191.90" height="85.40" fill="none"/><rect x="438.60" y="117.40" width="191.90" height="192.90" fill="none"/><rect x="438.60" y="310.30" width="191.90" height="192.40" fill="none"/><line x1="474.58" y1="32.00" x2="474.58" y2="34.00"/><line x1="474.58" y1="117.40" x2="474.58" y2="115.40"/><line x1="534.55" y1="32.00" x2="534.55" y2="34.00"/><line x1="534.55" y1="117.40" x2="534.55" y2="115.40"/><line x1="594.52" y1="32.00" x2="594.52" y2="34.00"/><line x1="594.52" y1="117.40" x2="594.52" y2="115.40"/><line x1="438.60" y1="117.40" x2="440.60" y2="117.40"/><line x1="630.50" y1="117.40" x2="628.50" y2="117.40"/><line x1="438.60" y1="83.24" x2="440.60" y2="83.24"/><line x1="630.50" y1="83.24" x2="628.50" y2="83.24"/><line x1="438.60" y1="49.08" x2="440.60" y2="49.08"/><line x1="630.50" y1="49.08" x2="628.50" y2="49.08"/><line x1="438.60" y1="117.40" x2="438.60" y2="119.40"/><line x1="438.60" y1="310.30" x2="438.60" y2="308.30"/><line x1="438.60" y1="310.30" x2="438.60" y2="312.30"/><line x1="438.60" y1="502.70" x2="438.60" y2="500.70"/><line x1="454.21" y1="117.40" x2="454.21" y2="118.60"/><line x1="454.21" y1="310.30" x2="454.21" y2="309.10"/><line x1="454.21" y1="310.30" x2="454.21" y2="311.50"/><line x1="454.21" y1="502.70" x2="454.21" y2="501.50"/><line x1="463.35" y1="117.40" x2="463.35" y2="118.60"/><line x1="463.35" y1="310.30" x2="463.35" y2="309.10"/><line x1="463.35" y1="310.30" x2="463.35" y2="311.50"/><line x1="463.35" y1="502.70" x2="463.35" y2="501.50"/><line x1="469.83" y1="117.40" x2="469.83" y2="118.60"/><line x1="469.83" y1="310.30" x2="469.83" y2="309.10"/><line x1="469.83" y1="310.30" x2="469.83" y2="311.50"/><line x1="469.83" y1="502.70" x2="469.83" y2="501.50"/><line x1="474.85" y1="117.40" x2="474.85" y2="118.60"/><line x1="474.85" y1="310.30" x2="474.85" y2="309.10"/><line x1="474.85" y1="310.30" x2="474.85" y2="311.50"/><line x1="474.85" y1="502.70" x2="474.85" y2="501.50"/><line x1="478.96" y1="117.40" x2="478.96" y2="118.60"/><line x1="478.96" y1="310.30" x2="478.96" y2="309.10"/><line x1="478.96" y1="310.30" x2="478.96" y2="311.50"/><line x1="478.96" y1="502.70" x2="478.96" y2="501.50"/><line x1="482.43" y1="117.40" x2="482.43" y2="118.60"/><line x1="482.43" y1="310.30" x2="482.43" y2="309.10"/><line x1="482.43" y1="310.30" x2="482.43" y2="311.50"/><line x1="482.43" y1="502.70" x2="482.43" y2="501.50"/><line x1="485.44" y1="117.40" x2="485.44" y2="118.60"/><line x1="485.44" y1="310.30" x2="485.44" y2="309.10"/><line x1="485.44" y1="310.30" x2="485.44" y2="311.50"/><line x1="485.44" y1="502.70" x2="485.44" y2="501.50"/><line x1="488.09" y1="117.40" x2="488.09" y2="118.60"/><line x1="488.09" y1="310.30" x2="488.09" y2="309.10"/><line x1="488.09" y1="310.30" x2="488.09" y2="311.50"/><line x1="488.09" y1="502.70" x2="488.09" y2="501.50"/><line x1="490.46" y1="117.40" x2="490.46" y2="119.40"/><line x1="490.46" y1="310.30" x2="490.46" y2="308.30"/><line x1="490.46" y1="310.30" x2="490.46" y2="312.30"/><line x1="490.46" y1="502.70" x2="490.46" y2="500.70"/><line x1="506.08" y1="117.40" x2="506.08" y2="118.60"/><line x1="506.08" y1="310.30" x2="506.08" y2="309.10"/><line x1="506.08" y1="310.30" x2="506.08" y2="311.50"/><line x1="506.08" y1="502.70" x2="506.08" y2="501.50"/><line x1="515.21" y1="117.40" x2="515.21" y2="118.60"/><line x1="515.21" y1="310.30" x2="515.21" y2="309.10"/><line x1="515.21" y1="310.30" x2="515.21" y2="311.50"/><line x1="515.21" y1="502.70" x2="515.21" y2="501.50"/><line x1="521.69" y1="117.40" x2="521.69" y2="118.60"/><line x1="521.69" y1="310.30" x2="521.69" y2="309.10"/><line x1="521.69" y1="310.30" x2="521.69" y2="311.50"/><line x1="521.69" y1="502.70" x2="521.69" y2="501.50"/><line x1="526.72" y1="117.40" x2="526.72" y2="118.60"/><line x1="526.72" y1="310.30" x2="526.72" y2="309.10"/><line x1="526.72" y1="310.30" x2="526.72" y2="311.50"/><line x1="526.72" y1="502.70" x2="526.72" y2="501.50"/><line x1="530.82" y1="117.40" x2="530.82" y2="118.60"/><line x1="530.82" y1="310.30" x2="530.82" y2="309.10"/><line x1="530.82" y1="310.30" x2="530.82" y2="311.50"/><line x1="530.82" y1="502.70" x2="530.82" y2="501.50"/><line x1="534.30" y1="117.40" x2="534.30" y2="118.60"/><line x1="534.30" y1="310.30" x2="534.30" y2="309.10"/><line x1="534.30" y1="310.30" x2="534.30" y2="311.50"/><line x1="534.30" y1="502.70" x2="534.30" y2="501.50"/><line x1="537.30" y1="117.40" x2="537.30" y2="118.60"/><line x1="537.30" y1="310.30" x2="537.30" y2="309.10"/><line x1="537.30" y1="310.30" x2="537.30" y2="311.50"/><line x1="537.30" y1="502.70" x2="537.30" y2="501.50"/><line x1="539.96" y1="117.40" x2="539.96" y2="118.60"/><line x1="539.96" y1="310.30" x2="539.96" y2="309.10"/><line x1="539.96" y1="310.30" x2="539.96" y2="311.50"/><line x1="539.96" y1="502.70" x2="539.96" y2="501.50"/><line x1="542.33" y1="117.40" x2="542.33" y2="119.40"/><line x1="542.33" y1="310.30" x2="542.33" y2="308.30"/><line x1="542.33" y1="310.30" x2="542.33" y2="312.30"/><line x1="542.33" y1="502.70" x2="542.33" y2="500.70"/><line x1="557.94" y1="117.40" x2="557.94" y2="118.60"/><line x1="557.94" y1="310.30" x2="557.94" y2="309.10"/><line x1="557.94" y1="310.30" x2="557.94" y2="311.50"/><line x1="557.94" y1="502.70" x2="557.94" y2="501.50"/><line x1="567.08" y1="117.40" x2="567.08" y2="118.60"/><line x1="567.08" y1="310.30" x2="567.08" y2="309.10"/><line x1="567.08" y1="310.30" x2="567.08" y2="311.50"/><line x1="567.08" y1="502.70" x2="567.08" y2="501.50"/><line x1="573.56" y1="117.40" x2="573.56" y2="118.60"/><line x1="573.56" y1="310.30" x2="573.56" y2="309.10"/><line x1="573.56" y1="310.30" x2="573.56" y2="311.50"/><line x1="573.56" y1="502.70" x2="573.56" y2="501.50"/><line x1="578.58" y1="117.40" x2="578.58" y2="118.60"/><line x1="578.58" y1="310.30" x2="578.58" y2="309.10"/><line x1="578.58" y1="310.30" x2="578.58" y2="311.50"/><line x1="578.58" y1="502.70" x2="578.58" y2="501.50"/><line x1="582.69" y1="117.40" x2="582.69" y2="118.60"/><line x1="582.69" y1="310.30" x2="582.69" y2="309.10"/><line x1="582.69" y1="310.30" x2="582.69" y2="311.50"/><line x1="582.69" y1="502.70" x2="582.69" y2="501.50"/><line x1="586.16" y1="117.40" x2="586.16" y2="118.60"/><line x1="586.16" y1="310.30" x2="586.16" y2="309.10"/><line x1="586.16" y1="310.30" x2="586.16" y2="311.50"/><line x1="586.16" y1="502.70" x2="586.16" y2="501.50"/><line x1="589.17" y1="117.40" x2="589.17" y2="118.60"/><line x1="589.17" y1="310.30" x2="589.17" y2="309.10"/><line x1="589.17" y1="310.30" x2="589.17" y2="311.50"/><line x1="589.17" y1="502.70" x2="589.17" y2="501.50"/><line x1="591.82" y1="117.40" x2="591.82" y2="118.60"/><line x1="591.82" y1="310.30" x2="591.82" y2="309.10"/><line x1="591.82" y1="310.30" x2="591.82" y2="311.50"/><line x1="591.82" y1="502.70" x2="591.82" y2="501.50"/><line x1="594.19" y1="117.40" x2="594.19" y2="119.40"/><line x1="594.19" y1="310.30" x2="594.19" y2="308.30"/><line x1="594.19" y1="310.30" x2="594.19" y2="312.30"/><line x1="594.19" y1="502.70" x2="594.19" y2="500.70"/><line x1="609.81" y1="117.40" x2="609.81" y2="118.60"/><line x1="609.81" y1="310.30" x2="609.81" y2="309.10"/><line x1="609.81" y1="310.30" x2="609.81" y2="311.50"/><line x1="609.81" y1="502.70" x2="609.81" y2="501.50"/><line x1="618.94" y1="117.40" x2="618.94" y2="118.60"/><line x1="618.94" y1="310.30" x2="618.94" y2="309.10"/><line x1="618.94" y1="310.30" x2="618.94" y2="311.50"/><line x1="618.94" y1="502.70" x2="618.94" y2="501.50"/><line x1="625.42" y1="117.40" x2="625.42" y2="118.60"/><line x1="625.42" y1="310.30" x2="625.42" y2="309.10"/><line x1="625.42" y1="310.30" x2="625.42" y2="311.50"/><line x1="625.42" y1="502.70" x2="625.42" y2="501.50"/><line x1="630.45" y1="117.40" x2="630.45" y2="118.60"/><line x1="630.45" y1="310.30" x2="630.45" y2="309.10"/><line x1="630.45" y1="310.30" x2="630.45" y2="311.50"/><line x1="630.45" y1="502.70" x2="630.45" y2="501.50"/><line x1="438.60" y1="310.30" x2="440.60" y2="310.30"/><line x1="630.50" y1="310.30" x2="628.50" y2="310.30"/><line x1="438.60" y1="294.61" x2="439.80" y2="294.61"/><line x1="630.50" y1="294.61" x2="629.30" y2="294.61"/><line x1="438.60" y1="285.43" x2="439.80" y2="285.43"/><line x1="630.50" y1="285.43" x2="629.30" y2="285.43"/><line x1="438.60" y1="278.91" x2="439.80" y2="278.91"/><line x1="630.50" y1="278.91" x2="629.30" y2="278.91"/><line x1="438.60" y1="273.86" x2="439.80" y2="273.86"/><line x1="630.50" y1="273.86" x2="629.30" y2="273.86"/><line x1="438.60" y1="269.73" x2="439.80" y2="269.73"/><line x1="630.50" y1="269.73" x2="629.30" y2="269.73"/><line x1="438.60" y1="266.24" x2="439.80" y2="266.24"/><line x1="630.50" y1="266.24" x2="629.30" y2="266.24"/><line x1="438.60" y1="263.22" x2="439.80" y2="263.22"/><line x1="630.50" y1="263.22" x2="629.30" y2="263.22"/><line x1="438.60" y1="260.55" x2="439.80" y2="260.55"/><line x1="630.50" y1="260.55" x2="629.30" y2="260.55"/><line x1="438.60" y1="258.16" x2="440.60" y2="258.16"/><line x1="630.50" y1="258.16" x2="628.50" y2="258.16"/><line x1="438.60" y1="242.47" x2="439.80" y2="242.47"/><line x1="630.50" y1="242.47" x2="629.30" y2="242.47"/><line x1="438.60" y1="233.29" x2="439.80" y2="233.29"/><line x1="630.50" y1="233.29" x2="629.30" y2="233.29"/><line x1="438.60" y1="226.78" x2="439.80" y2="226.78"/><line x1="630.50" y1="226.78" x2="629.30" y2="226.78"/><line x1="438.60" y1="221.72" x2="439.80" y2="221.72"/><line x1="630.50" y1="221.72" x2="629.30" y2="221.72"/><line x1="438.60" y1="217.60" x2="439.80" y2="217.60"/><line x1="630.50" y1="217.60" x2="629.30" y2="217.60"/><line x1="438.60" y1="214.11" x2="439.80" y2="214.11"/><line x1="630.50" y1="214.11" x2="629.30" y2="214.11"/><line x1="438.60" y1="211.08" x2="439.80" y2="211.08"/><line x1="630.50" y1="211.08" x2="629.30" y2="211.08"/><line x1="438.60" y1="208.42" x2="439.80" y2="208.42"/><line x1="630.50" y1="208.42" x2="629.30" y2="208.42"/><line x1="438.60" y1="206.03" x2="440.60" y2="206.03"/><line x1="630.50" y1="206.03" x2="628.50" y2="206.03"/><line x1="438.60" y1="190.34" x2="439.80" y2="190.34"/><line x1="630.50" y1="190.34" x2="629.30" y2="190.34"/><line x1="438.60" y1="181.15" x2="439.80" y2="181.15"/><line x1="630.50" y1="181.15" x2="629.30" y2="181.15"/><line x1="438.60" y1="174.64" x2="439.80" y2="174.64"/><line x1="630.50" y1="174.64" x2="629.30" y2="174.64"/><line x1="438.60" y1="169.59" x2="439.80" y2="169.59"/><line x1="630.50" y1="169.59" x2="629.30" y2="169.59"/><line x1="438.60" y1="165.46" x2="439.80" y2="165.46"/><line x1="630.50" y1="165.46" x2="629.30" y2="165.46"/><line x1="438.60" y1="161.97" x2="439.80" y2="161.97"/><line x1="630.50" y1="161.97" x2="629.30" y2="161.97"/><line x1="438.60" y1="158.95" x2="439.80" y2="158.95"/><line x1="630.50" y1="158.95" x2="629.30" y2="158.95"/><line x1="438.60" y1="156.28" x2="439.80" y2="156.28"/><line x1="630.50" y1="156.28" x2="629.30" y2="156.28"/><line x1="438.60" y1="153.89" x2="440.60" y2="153.89"/><line x1="630.50" y1="153.89" x2="628.50" y2="153.89"/><line x1="438.60" y1="138.20" x2="439.80" y2="138.20"/><line x1="630.50" y1="138.20" x2="629.30" y2="138.20"/><line x1="438.60" y1="129.02" x2="439.80" y2="129.02"/><line x1="630.50" y1="129.02" x2="629.30" y2="129.02"/><line x1="438.60" y1="122.51" x2="439.80" y2="122.51"/><line x1="630.50" y1="122.51" x2="629.30" y2="122.51"/><line x1="438.60" y1="117.45" x2="439.80" y2="117.45"/><line x1="630.50" y1="117.45" x2="629.30" y2="117.45"/><line x1="438.60" y1="502.37" x2="439.80" y2="502.37"/><line x1="630.50" y1="502.37" x2="629.30" y2="502.37"/><line x1="438.60" y1="496.90" x2="439.80" y2="496.90"/><line x1="630.50" y1="496.90" x2="629.30" y2="496.90"/><line x1="438.60" y1="492.01" x2="440.60" y2="492.01"/><line x1="630.50" y1="492.01" x2="628.50" y2="492.01"/><line x1="438.60" y1="459.83" x2="440.60" y2="459.83"/><line x1="630.50" y1="459.83" x2="628.50" y2="459.83"/><line x1="438.60" y1="441.01" x2="439.80" y2="441.01"/><line x1="630.50" y1="441.01" x2="629.30" y2="441.01"/><line x1="438.60" y1="427.66" x2="439.80" y2="427.66"/><line x1="630.50" y1="427.66" x2="629.30" y2="427.66"/><line x1="438.60" y1="417.30" x2="440.60" y2="417.30"/><line x1="630.50" y1="417.30" x2="628.50" y2="417.30"/><line x1="438.60" y1="408.84" x2="439.80" y2="408.84"/><line x1="630.50" y1="408.84" x2="629.30" y2="408.84"/><line x1="438.60" y1="401.68" x2="439.80" y2="401.68"/><line x1="630.50" y1="401.68" x2="629.30" y2="401.68"/><line x1="438.60" y1="395.48" x2="439.80" y2="395.48"/><line x1="630.50" y1="395.48" x2="629.30" y2="395.48"/><line x1="438.60" y1="390.01" x2="439.80" y2="390.01"/><line x1="630.50" y1="390.01" x2="629.30" y2="390.01"/><line x1="438.60" y1="385.12" x2="440.60" y2="385.12"/><line x1="630.50" y1="385.12" x2="628.50" y2="385.12"/><line x1="438.60" y1="352.95" x2="440.60" y2="352.95"/><line x1="630.50" y1="352.95" x2="628.50" y2="352.95"/><line x1="438.60" y1="334.12" x2="439.80" y2="334.12"/><line x1="630.50" y1="334.12" x2="629.30" y2="334.12"/><line x1="438.60" y1="320.77" x2="439.80" y2="320.77"/><line x1="630.50" y1="320.77" x2="629.30" y2="320.77"/><line x1="438.60" y1="310.41" x2="440.60" y2="310.41"/><line x1="630.50" y1="310.41" x2="628.50" y2="310.41"/></g><line x1="72.10" y1="291.8" x2="116.80" y2="291.8" stroke="#EC7843" stroke-width="1.2" stroke-opacity="0.85"/><text x="119.95" y="294.90" font-family="Liberation Serif" font-size="12.2" fill="#000" stroke="#000" stroke-width="0.22" font-weight="bold">a</text><text x="126.15" y="296.40" font-family="Liberation Serif" font-size="8.6" fill="#000" stroke="#000" stroke-width="0.22" >0</text><text x="134.45" y="294.90" font-family="Liberation Serif" font-size="14.0" fill="#000" stroke="#000" stroke-width="0.22" >=</text><text x="146.35" y="294.90" font-family="Liberation Serif" font-size="11.2" fill="#000" stroke="#000" stroke-width="0.22" >1.27</text><text x="169.85" y="295.10" font-family="Liberation Serif" font-size="14.0" fill="#000" stroke="#000" stroke-width="0.22" >×</text><text x="181.35" y="294.90" font-family="Liberation Serif" font-size="11.2" fill="#000" stroke="#000" stroke-width="0.22" >10</text><text x="192.75" y="290.10" font-family="Liberation Serif" font-size="9.6" fill="#000" stroke="#000" stroke-width="0.22" >−</text><text x="199.05" y="290.10" font-family="Liberation Serif" font-size="7.6" fill="#000" stroke="#000" stroke-width="0.22" >10</text><text x="209.15" y="294.90" font-family="Liberation Serif" font-size="11.6" fill="#000" stroke="#000" stroke-width="0.22" >ms</text><text x="223.75" y="290.10" font-family="Liberation Serif" font-size="9.6" fill="#000" stroke="#000" stroke-width="0.22" >−</text><text x="229.25" y="290.10" font-family="Liberation Serif" font-size="7.6" fill="#000" stroke="#000" stroke-width="0.22" >2</text><line x1="264.25" y1="291.8" x2="308.95" y2="291.8" stroke="#90C458" stroke-width="1.2" stroke-opacity="0.85"/><text x="312.10" y="294.90" font-family="Liberation Serif" font-size="12.2" fill="#000" stroke="#000" stroke-width="0.22" font-weight="bold">a</text><text x="318.30" y="296.40" font-family="Liberation Serif" font-size="8.6" fill="#000" stroke="#000" stroke-width="0.22" >0</text><text x="326.60" y="294.90" font-family="Liberation Serif" font-size="14.0" fill="#000" stroke="#000" stroke-width="0.22" >=</text><text x="338.50" y="294.90" font-family="Liberation Serif" font-size="11.2" fill="#000" stroke="#000" stroke-width="0.22" >1.19</text><text x="362.00" y="295.10" font-family="Liberation Serif" font-size="14.0" fill="#000" stroke="#000" stroke-width="0.22" >×</text><text x="373.50" y="294.90" font-family="Liberation Serif" font-size="11.2" fill="#000" stroke="#000" stroke-width="0.22" >10</text><text x="384.90" y="290.10" font-family="Liberation Serif" font-size="9.6" fill="#000" stroke="#000" stroke-width="0.22" >−</text><text x="391.20" y="290.10" font-family="Liberation Serif" font-size="7.6" fill="#000" stroke="#000" stroke-width="0.22" >10</text><text x="401.30" y="294.90" font-family="Liberation Serif" font-size="11.6" fill="#000" stroke="#000" stroke-width="0.22" >ms</text><text x="415.90" y="290.10" font-family="Liberation Serif" font-size="9.6" fill="#000" stroke="#000" stroke-width="0.22" >−</text><text x="421.40" y="290.10" font-family="Liberation Serif" font-size="7.6" fill="#000" stroke="#000" stroke-width="0.22" >2</text><line x1="456.15" y1="291.8" x2="500.85" y2="291.8" stroke="#9C58AF" stroke-width="1.2" stroke-opacity="0.85"/><text x="504.00" y="294.90" font-family="Liberation Serif" font-size="12.2" fill="#000" stroke="#000" stroke-width="0.22" font-weight="bold">a</text><text x="510.20" y="296.40" font-family="Liberation Serif" font-size="8.6" fill="#000" stroke="#000" stroke-width="0.22" >0</text><text x="518.50" y="294.90" font-family="Liberation Serif" font-size="14.0" fill="#000" stroke="#000" stroke-width="0.22" >=</text><text x="530.40" y="294.90" font-family="Liberation Serif" font-size="11.2" fill="#000" stroke="#000" stroke-width="0.22" >1.24</text><text x="553.90" y="295.10" font-family="Liberation Serif" font-size="14.0" fill="#000" stroke="#000" stroke-width="0.22" >×</text><text x="565.40" y="294.90" font-family="Liberation Serif" font-size="11.2" fill="#000" stroke="#000" stroke-width="0.22" >10</text><text x="576.80" y="290.10" font-family="Liberation Serif" font-size="9.6" fill="#000" stroke="#000" stroke-width="0.22" >−</text><text x="583.10" y="290.10" font-family="Liberation Serif" font-size="7.6" fill="#000" stroke="#000" stroke-width="0.22" >10</text><text x="593.20" y="294.90" font-family="Liberation Serif" font-size="11.6" fill="#000" stroke="#000" stroke-width="0.22" >ms</text><text x="607.80" y="290.10" font-family="Liberation Serif" font-size="9.6" fill="#000" stroke="#000" stroke-width="0.22" >−</text><text x="613.30" y="290.10" font-family="Liberation Serif" font-size="7.6" fill="#000" stroke="#000" stroke-width="0.22" >2</text><g fill="#262626"><text x="149.57" y="9.3" font-family="Liberation Serif" font-size="13.5" text-anchor="middle" fill="#000">dex</text><text x="88.73" y="26.3" font-family="Liberation Sans" stroke="#262626" stroke-width="0.3" font-size="11.8" text-anchor="middle">-0.5</text><text x="149.27" y="26.3" font-family="Liberation Sans" stroke="#262626" stroke-width="0.3" font-size="11.8" text-anchor="middle">0</text><text x="209.82" y="26.3" font-family="Liberation Sans" stroke="#262626" stroke-width="0.3" font-size="11.8" text-anchor="middle">0.5</text><text x="64.60" y="140.9" font-family="Liberation Serif" font-size="15.2" textLength="35.6" lengthAdjust="spacingAndGlyphs" fill="#000">NFW</text><text x="103.66" y="522.9" font-family="Liberation Sans" stroke="#262626" stroke-width="0.3" font-size="12.6" text-anchor="middle">10<tspan font-size="9.4" dy="-5.7">-11</tspan></text><text x="156.03" y="522.9" font-family="Liberation Sans" stroke="#262626" stroke-width="0.3" font-size="12.6" text-anchor="middle">10<tspan font-size="9.4" dy="-5.7">-10</tspan></text><text x="208.39" y="522.9" font-family="Liberation Sans" stroke="#262626" stroke-width="0.3" font-size="12.6" text-anchor="middle">10<tspan font-size="9.4" dy="-5.7">-9</tspan></text><text x="112.37" y="538.30" font-family="Liberation Serif" font-size="13.2" fill="#000" font-style="italic">a</text><text x="119.37" y="540.60" font-family="Liberation Serif" font-size="9.6" fill="#000" >bar</text><text x="148.88" y="538.30" font-family="Liberation Serif" font-size="14.5" fill="#000" >[</text><text x="152.88" y="538.30" font-family="Liberation Serif" font-size="14.0" fill="#000" >m</text><text x="164.47" y="541.20" font-family="Liberation Serif" font-size="19.0" fill="#000" >/</text><text x="171.17" y="538.30" font-family="Liberation Serif" font-size="14.5" fill="#000" >s</text><text x="176.57" y="532.90" font-family="Liberation Serif" font-size="10.5" fill="#000" >2</text><text x="182.47" y="538.30" font-family="Liberation Serif" font-size="14.5" fill="#000" >]</text><text x="342.52" y="9.3" font-family="Liberation Serif" font-size="13.5" text-anchor="middle" fill="#000">dex</text><text x="282.18" y="26.3" font-family="Liberation Sans" stroke="#262626" stroke-width="0.3" font-size="11.8" text-anchor="middle">-0.5</text><text x="342.22" y="26.3" font-family="Liberation Sans" stroke="#262626" stroke-width="0.3" font-size="11.8" text-anchor="middle">0</text><text x="402.27" y="26.3" font-family="Liberation Sans" stroke="#262626" stroke-width="0.3" font-size="11.8" text-anchor="middle">0.5</text><text x="258.35" y="140.9" font-family="Liberation Serif" font-size="15.2" textLength="49.8" lengthAdjust="spacingAndGlyphs" fill="#000">Burkert</text><text x="296.98" y="522.9" font-family="Liberation Sans" stroke="#262626" stroke-width="0.3" font-size="12.6" text-anchor="middle">10<tspan font-size="9.4" dy="-5.7">-11</tspan></text><text x="348.91" y="522.9" font-family="Liberation Sans" stroke="#262626" stroke-width="0.3" font-size="12.6" text-anchor="middle">10<tspan font-size="9.4" dy="-5.7">-10</tspan></text><text x="400.85" y="522.9" font-family="Liberation Sans" stroke="#262626" stroke-width="0.3" font-size="12.6" text-anchor="middle">10<tspan font-size="9.4" dy="-5.7">-9</tspan></text><text x="305.32" y="538.30" font-family="Liberation Serif" font-size="13.2" fill="#000" font-style="italic">a</text><text x="312.32" y="540.60" font-family="Liberation Serif" font-size="9.6" fill="#000" >bar</text><text x="341.82" y="538.30" font-family="Liberation Serif" font-size="14.5" fill="#000" >[</text><text x="345.82" y="538.30" font-family="Liberation Serif" font-size="14.0" fill="#000" >m</text><text x="357.42" y="541.20" font-family="Liberation Serif" font-size="19.0" fill="#000" >/</text><text x="364.12" y="538.30" font-family="Liberation Serif" font-size="14.5" fill="#000" >s</text><text x="369.52" y="532.90" font-family="Liberation Serif" font-size="10.5" fill="#000" >2</text><text x="375.42" y="538.30" font-family="Liberation Serif" font-size="14.5" fill="#000" >]</text><text x="534.55" y="9.3" font-family="Liberation Serif" font-size="13.5" text-anchor="middle" fill="#000">dex</text><text x="474.28" y="26.3" font-family="Liberation Sans" stroke="#262626" stroke-width="0.3" font-size="11.8" text-anchor="middle">-0.5</text><text x="534.25" y="26.3" font-family="Liberation Sans" stroke="#262626" stroke-width="0.3" font-size="11.8" text-anchor="middle">0</text><text x="594.22" y="26.3" font-family="Liberation Sans" stroke="#262626" stroke-width="0.3" font-size="11.8" text-anchor="middle">0.5</text><text x="450.50" y="140.9" font-family="Liberation Serif" font-size="15.2" textLength="49.6" lengthAdjust="spacingAndGlyphs" fill="#000">Einasto</text><text x="489.06" y="522.9" font-family="Liberation Sans" stroke="#262626" stroke-width="0.3" font-size="12.6" text-anchor="middle">10<tspan font-size="9.4" dy="-5.7">-11</tspan></text><text x="540.93" y="522.9" font-family="Liberation Sans" stroke="#262626" stroke-width="0.3" font-size="12.6" text-anchor="middle">10<tspan font-size="9.4" dy="-5.7">-10</tspan></text><text x="592.79" y="522.9" font-family="Liberation Sans" stroke="#262626" stroke-width="0.3" font-size="12.6" text-anchor="middle">10<tspan font-size="9.4" dy="-5.7">-9</tspan></text><text x="497.35" y="538.30" font-family="Liberation Serif" font-size="13.2" fill="#000" font-style="italic">a</text><text x="504.35" y="540.60" font-family="Liberation Serif" font-size="9.6" fill="#000" >bar</text><text x="533.85" y="538.30" font-family="Liberation Serif" font-size="14.5" fill="#000" >[</text><text x="537.85" y="538.30" font-family="Liberation Serif" font-size="14.0" fill="#000" >m</text><text x="549.45" y="541.20" font-family="Liberation Serif" font-size="19.0" fill="#000" >/</text><text x="556.15" y="538.30" font-family="Liberation Serif" font-size="14.5" fill="#000" >s</text><text x="561.55" y="532.90" font-family="Liberation Serif" font-size="10.5" fill="#000" >2</text><text x="567.45" y="538.30" font-family="Liberation Serif" font-size="14.5" fill="#000" >]</text><text x="50.1" y="123.00" font-family="Liberation Sans" stroke="#262626" stroke-width="0.3" font-size="11.8" text-anchor="end">0</text><text x="50.1" y="88.84" font-family="Liberation Sans" stroke="#262626" stroke-width="0.3" font-size="11.8" text-anchor="end">100</text><text x="50.1" y="54.68" font-family="Liberation Sans" stroke="#262626" stroke-width="0.3" font-size="11.8" text-anchor="end">200</text><text x="47.9" y="160.29" font-family="Liberation Sans" stroke="#262626" stroke-width="0.3" font-size="12.6" text-anchor="end">10<tspan font-size="9.4" dy="-4.9">-9</tspan></text><text x="47.9" y="212.43" font-family="Liberation Sans" stroke="#262626" stroke-width="0.3" font-size="12.6" text-anchor="end">10<tspan font-size="9.4" dy="-4.9">-10</tspan></text><text x="47.9" y="264.56" font-family="Liberation Sans" stroke="#262626" stroke-width="0.3" font-size="12.6" text-anchor="end">10<tspan font-size="9.4" dy="-4.9">-11</tspan></text><text x="48.5" y="497.21" font-family="Liberation Sans" stroke="#262626" stroke-width="0.3" font-size="11.8" text-anchor="end">1</text><text x="48.5" y="465.03" font-family="Liberation Sans" stroke="#262626" stroke-width="0.3" font-size="11.8" text-anchor="end">2</text><text x="48.5" y="422.50" font-family="Liberation Sans" stroke="#262626" stroke-width="0.3" font-size="11.8" text-anchor="end">5</text><text x="48.5" y="390.32" font-family="Liberation Sans" stroke="#262626" stroke-width="0.3" font-size="11.8" text-anchor="end">10</text><text x="48.5" y="358.15" font-family="Liberation Sans" stroke="#262626" stroke-width="0.3" font-size="11.8" text-anchor="end">20</text><text transform="translate(23.6,74.8) rotate(-90)" font-family="Liberation Serif" font-size="13.5" text-anchor="middle" textLength="34.5" lengthAdjust="spacingAndGlyphs" fill="#000">points</text><g transform="translate(11.8,214.15) rotate(-90)"><text x="-34.30" y="0.00" font-family="Liberation Serif" font-size="13.2" fill="#000" font-style="italic">a</text><text x="-27.60" y="2.30" font-family="Liberation Serif" font-size="9.6" fill="#000" >tot</text><text x="-0.70" y="0.00" font-family="Liberation Serif" font-size="14.5" fill="#000" >[</text><text x="3.30" y="0.00" font-family="Liberation Serif" font-size="14.0" fill="#000" >m</text><text x="14.90" y="2.90" font-family="Liberation Serif" font-size="19.0" fill="#000" >/</text><text x="21.60" y="0.00" font-family="Liberation Serif" font-size="14.5" fill="#000" >s</text><text x="27.00" y="-5.40" font-family="Liberation Serif" font-size="10.5" fill="#000" >2</text><text x="32.90" y="0.00" font-family="Liberation Serif" font-size="14.5" fill="#000" >]</text></g><g transform="translate(27.5,407.75) rotate(-90)"><text x="-24.00" y="0.00" font-family="Liberation Serif" font-size="13.2" fill="#000" font-style="italic">a</text><text x="-17.00" y="2.30" font-family="Liberation Serif" font-size="9.4" fill="#000" >tot</text><text x="-2.90" y="2.90" font-family="Liberation Serif" font-size="19.0" fill="#000" >/</text><text x="3.00" y="0.00" font-family="Liberation Serif" font-size="13.2" fill="#000" font-style="italic">a</text><text x="10.30" y="2.30" font-family="Liberation Serif" font-size="10.2" fill="#000" >bar</text></g></g></g></svg></body></html>
